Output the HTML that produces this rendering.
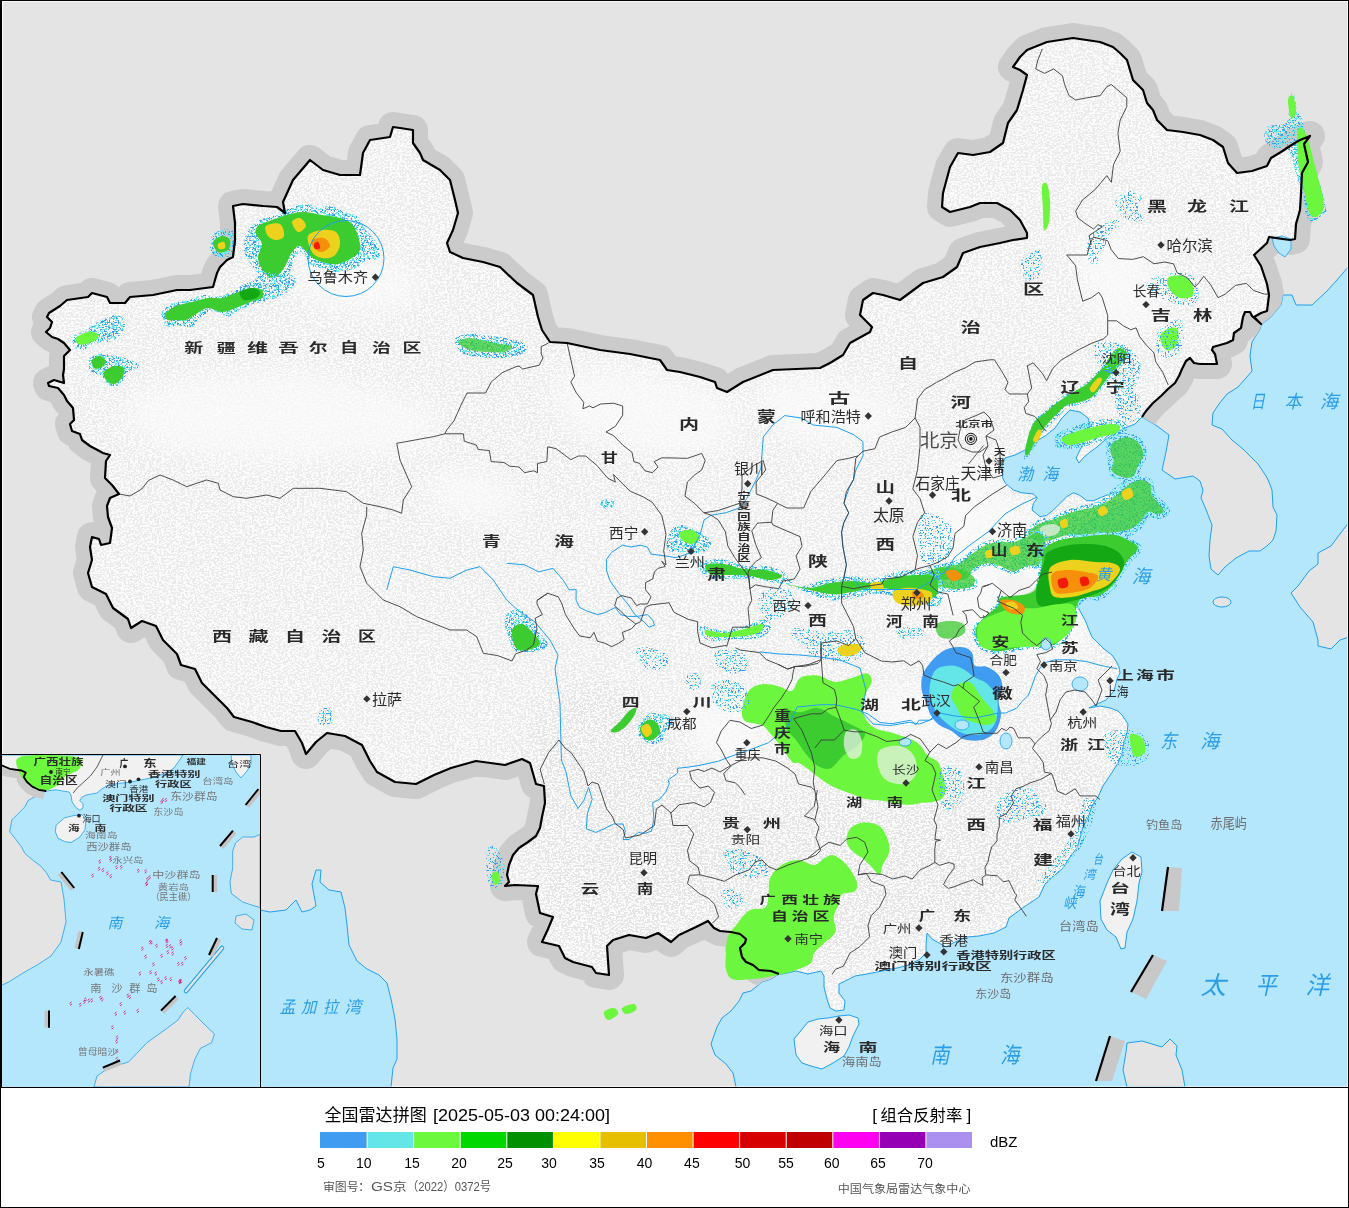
<!DOCTYPE html><html><head><meta charset="utf-8"><title>radar</title><style>
html,body{margin:0;padding:0;background:#fff;}body{width:1349px;height:1208px;overflow:hidden;position:relative;}
svg{position:absolute;left:0;top:0;}
.t{font-family:"Liberation Sans","Noto Sans CJK SC",sans-serif;}
</style></head><body>
<svg width="1349" height="1208" viewBox="0 0 1349 1208">
<defs>
<polygon id="china" points="779,974 771,971 759,970 753,965 746,962 742,957 740,948 745,943 746,939 740,934 731,932 720,931 714,928 708,921 696,927 679,935 671,942 658,933 646,938 629,935 613,940 607,946 609,975 596,973 592,967 573,962 565,958 559,946 542,942 548,929 553,917 540,913 536,894 538,886 515,885 505,886 509,882 507,875 509,865 513,855 519,848 528,842 536,836 540,828 542,817 545,803 544,786 536,784 530,763 522,759 505,765 476,761 451,768 434,775 416,784 395,782 377,772 370,761 362,745 345,736 327,733 316,742 306,754 302,743 295,731 281,731 266,727 252,722 234,717 227,708 213,694 202,683 195,669 181,665 177,654 163,640 156,626 142,621 131,628 128,619 113,608 106,594 92,587 88,573 92,560 90,547 92,537 99,539 101,545 110,543 112,528 108,517 107,506 110,498 119,494 112,485 105,478 106,461 110,455 103,453 90,446 82,440 80,434 72,431 70,424 74,420 73,408 67,401 64,395 58,388 49,386 48,383 54,380 64,383 63,375 64,369 64,356 70,350 64,343 58,339 52,337 46,332 50,328 52,322 47,317 49,313 60,306 67,300 88,297 92,293 107,297 110,303 125,303 130,297 153,295 177,290 190,290 213,287 217,273 220,267 227,260 233,257 235,240 235,223 233,206 243,204 263,206 277,207 285,213 283,202 293,180 310,160 323,170 340,175 360,175 363,153 370,140 390,137 393,127 400,128 413,130 413,143 420,153 423,160 440,170 450,180 455,200 458,213 453,230 447,243 450,252 463,258 483,262 500,267 517,283 533,295 538,317 542,330 550,342 567,343 600,350 630,354 660,360 667,370 680,372 700,377 715,382 717,388 727,392 743,382 773,370 820,368 830,363 843,355 850,343 870,332 872,327 860,315 863,300 873,293 883,295 900,300 923,283 943,277 957,267 963,253 980,247 1000,243 1013,240 1027,238 1027,233 1020,220 1010,210 997,203 980,203 970,207 950,212 942,207 943,193 950,167 958,153 973,155 990,152 1003,143 1008,123 1017,110 1023,90 1027,75 1020,70 1013,67 1020,57 1027,50 1047,42 1073,38 1100,42 1113,47 1120,53 1127,60 1133,80 1143,90 1147,103 1153,110 1157,120 1167,130 1183,132 1200,135 1213,140 1223,147 1228,163 1237,173 1252,171 1267,166 1271,158 1281,152 1290,146 1300,140 1310,136 1304,144 1308,162 1302,173 1301,193 1300,210 1296,224 1295,239 1290,240 1269,237 1267,243 1254,255 1261,266 1267,284 1269,295 1267,311 1261,313 1254,317 1261,324 1252,316 1250,312 1245,312 1243,317 1241,328 1234,333 1233,340 1227,343 1213,347 1212,350 1215,354 1217,364 1200,364 1194,363 1190,358 1186,361 1182,369 1179,376 1175,383 1168,389 1165,392 1161,396 1153,403 1146,411 1142,417 1135,424 1125,428 1115,433 1105,440 1097,447 1090,452 1083,458 1079,463 1076,458 1080,450 1084,442 1088,434 1090,425 1088,418 1080,412 1070,410 1062,418 1055,428 1045,436 1035,442 1027,449 1015,455 1005,458 1002,465 1002.7,478 1005.4,483.3 1013.4,490 1021.4,492.7 1033.4,494 1037.4,498 1033.4,503.4 1032,510 1040,516.7 1046.8,515.4 1053.4,510 1060,503.4 1066.8,496.7 1073.5,492.7 1080,495.4 1086.8,500.7 1093.5,500.7 1102,497 1115,492 1125,494 1127,500 1118,508 1105,512 1095,518 1085,525 1075,535 1068,545 1060,555 1053,568 1050,580 1055,590 1068,596 1076,602 1080,611 1085,620 1089,630 1092,637 1100,645 1104,649 1112,655 1116,661 1119,667 1120,673 1117,679 1114,691 1106,700 1095,705 1089,708 1100,706 1110,708 1118,711 1122,715 1128,724 1127,733 1124,742 1122,754 1118,763 1109,777 1103,786 1098,797 1092,806 1088,818 1083,827 1080,838 1077,848 1070,857 1063,868 1055,875 1045,884 1039,897 1024,907 1009,918 1006,927 994,933 979,936 967,937 955,942 946,947 932,939 927,933 926,945 926,953 920,959 909,965 897,968 882,971 867,974 855,976 849,979 839,984 839,993 845,1001 844,1010 836,1011 830,1008 827,999 824,987 824,976 821,971 808,974 796,971 782,974"/>
<polygon id="sea" points="1142,417 1135,424 1125,428 1115,433 1105,440 1097,447 1090,452 1083,458 1079,463 1076,458 1080,450 1084,442 1088,434 1090,425 1088,418 1080,412 1070,410 1062,418 1055,428 1045,436 1035,442 1027,449 1015,455 1005,458 1002,465 1002.7,478 1005.4,483.3 1013.4,490 1021.4,492.7 1033.4,494 1037.4,498 1033.4,503.4 1032,510 1040,516.7 1046.8,515.4 1053.4,510 1060,503.4 1066.8,496.7 1073.5,492.7 1080,495.4 1086.8,500.7 1093.5,500.7 1102,497 1115,492 1125,494 1127,500 1118,508 1105,512 1095,518 1085,525 1075,535 1068,545 1060,555 1053,568 1050,580 1055,590 1068,596 1076,602 1080,611 1085,620 1089,630 1092,637 1100,645 1104,649 1112,655 1116,661 1119,667 1120,673 1117,679 1114,691 1106,700 1095,705 1089,708 1100,706 1110,708 1118,711 1122,715 1128,724 1127,733 1124,742 1122,754 1118,763 1109,777 1103,786 1098,797 1092,806 1088,818 1083,827 1080,838 1077,848 1070,857 1063,868 1055,875 1045,884 1039,897 1024,907 1009,918 1006,927 994,933 979,936 967,937 955,942 946,947 932,939 927,933 926,945 926,953 920,959 909,965 897,968 882,971 867,974 855,976 849,979 839,984 839,993 845,1001 844,1010 836,1011 830,1008 827,999 824,987 824,976 821,971 808,974 796,971 782,974 779,974 771,979 762,982 751,991 743,993 739,1001 731,1011 722,1018 717,1027 711,1044 715,1055 726,1064 733,1073 736,1087 1349,1087 1349,266 1337,280 1327,291 1312,305 1296,305 1292,295 1283,295 1281,305 1271,317 1262,324 1259,331 1252,342 1250,356 1252,371 1246,378 1238,387 1227,394 1219,404 1213,413 1212,425 1222,429 1232,440 1243,449 1258,464 1266,476 1269,482 1272,490 1273,507 1277,515 1276,531 1273,540 1267,546 1260,551 1249,551 1236,558 1225,567 1218,575 1211,569 1209,556 1210,540 1212,525 1205,507 1201,498 1203,490 1200,481 1193,476 1175,479 1162,470 1166,452 1169,435 1157,426 1142,417"/>
<mask id="landmask"><rect width="1349" height="1087" fill="#fff"/><use href="#sea" fill="#000"/><polygon points="1349,522 1331,546 1318,553 1318,564 1309,571 1298,586 1291,593 1300,607 1313,622 1318,640 1318,646 1331,649 1340,640 1349,637" fill="#fff"/><polygon points="1127,1043 1142,1041 1162,1047 1170,1039 1177,1046 1176,1055 1182,1070 1185,1087 1127,1087 1123,1070 1126,1052" fill="#fff"/></mask>
<clipPath id="mapclip"><rect x="0" y="0" width="1349" height="1087"/></clipPath>
<filter id="speck" x="0" y="0" width="1349" height="1087" filterUnits="userSpaceOnUse" color-interpolation-filters="sRGB"><feTurbulence type="fractalNoise" baseFrequency="0.42 0.55" numOctaves="2" seed="11" result="n"/><feColorMatrix in="n" type="matrix" values="0 0 0 0 0.885  0 0 0 0 0.885  0 0 0 0 0.885  1.6 0 0 0 -0.3"/><feComponentTransfer><feFuncA type="discrete" tableValues="0 0 0 0 0 1 1 1 1 1"/></feComponentTransfer></filter>
<filter id="blur15"><feGaussianBlur stdDeviation="14"/></filter>
<mask id="dens" maskUnits="userSpaceOnUse" x="0" y="0" width="1349" height="1087"><rect width="1349" height="1087" fill="#a8a8a8"/><g filter="url(#blur15)">
<path d="M130.0,400.0 C137.5,394.2 153.3,389.2 170.0,385.0 C186.7,380.8 208.3,377.2 230.0,375.0 C251.7,372.8 278.3,370.3 300.0,372.0 C321.7,373.7 341.7,380.3 360.0,385.0 C378.3,389.7 396.7,394.2 410.0,400.0 C423.3,405.8 438.3,412.5 440.0,420.0 C441.7,427.5 433.3,439.2 420.0,445.0 C406.7,450.8 383.3,452.5 360.0,455.0 C336.7,457.5 306.7,460.0 280.0,460.0 C253.3,460.0 221.7,458.3 200.0,455.0 C178.3,451.7 162.5,445.8 150.0,440.0 C137.5,434.2 128.3,426.7 125.0,420.0 C121.7,413.3 122.5,405.8 130.0,400.0 Z" fill="#282828"/>
<path d="M300.0,270.0 C305.0,262.5 325.0,256.3 340.0,255.0 C355.0,253.7 376.7,257.8 390.0,262.0 C403.3,266.2 416.7,272.8 420.0,280.0 C423.3,287.2 420.0,300.0 410.0,305.0 C400.0,310.0 376.7,310.8 360.0,310.0 C343.3,309.2 320.0,306.7 310.0,300.0 C300.0,293.3 295.0,277.5 300.0,270.0 Z" fill="#282828"/>
<path d="M430.0,480.0 C436.7,475.0 456.7,469.2 470.0,470.0 C483.3,470.8 500.8,479.2 510.0,485.0 C519.2,490.8 526.7,499.5 525.0,505.0 C523.3,510.5 511.7,516.3 500.0,518.0 C488.3,519.7 466.7,518.0 455.0,515.0 C443.3,512.0 434.2,505.8 430.0,500.0 C425.8,494.2 423.3,485.0 430.0,480.0 Z" fill="#282828"/>
<path d="M560.0,380.0 C569.2,371.7 596.7,369.2 620.0,370.0 C643.3,370.8 681.7,378.3 700.0,385.0 C718.3,391.7 726.7,399.2 730.0,410.0 C733.3,420.8 731.7,442.5 720.0,450.0 C708.3,457.5 680.0,456.7 660.0,455.0 C640.0,453.3 615.8,445.8 600.0,440.0 C584.2,434.2 571.7,430.0 565.0,420.0 C558.3,410.0 550.8,388.3 560.0,380.0 Z" fill="#282828"/>
<path d="M760.0,385.0 C769.2,378.3 800.0,378.3 820.0,380.0 C840.0,381.7 866.7,388.3 880.0,395.0 C893.3,401.7 901.7,412.5 900.0,420.0 C898.3,427.5 886.7,436.7 870.0,440.0 C853.3,443.3 817.5,443.3 800.0,440.0 C782.5,436.7 771.7,429.2 765.0,420.0 C758.3,410.8 750.8,391.7 760.0,385.0 Z" fill="#282828"/>
<path d="M930.0,470.0 C940.8,463.3 976.7,465.0 990.0,470.0 C1003.3,475.0 1001.7,491.7 1010.0,500.0 C1018.3,508.3 1031.7,510.0 1040.0,520.0 C1048.3,530.0 1053.3,546.7 1060.0,560.0 C1066.7,573.3 1075.0,586.7 1080.0,600.0 C1085.0,613.3 1091.7,630.0 1090.0,640.0 C1088.3,650.0 1080.0,656.7 1070.0,660.0 C1060.0,663.3 1043.3,661.7 1030.0,660.0 C1016.7,658.3 1001.7,656.7 990.0,650.0 C978.3,643.3 970.0,628.3 960.0,620.0 C950.0,611.7 936.7,610.0 930.0,600.0 C923.3,590.0 920.8,575.0 920.0,560.0 C919.2,545.0 923.3,525.0 925.0,510.0 C926.7,495.0 919.2,476.7 930.0,470.0 Z" fill="#282828"/>
<path d="M1080.0,235.0 C1085.8,223.3 1108.3,225.8 1120.0,230.0 C1131.7,234.2 1143.3,248.3 1150.0,260.0 C1156.7,271.7 1160.0,288.3 1160.0,300.0 C1160.0,311.7 1158.3,324.2 1150.0,330.0 C1141.7,335.8 1120.8,340.0 1110.0,335.0 C1099.2,330.0 1090.0,316.7 1085.0,300.0 C1080.0,283.3 1074.2,246.7 1080.0,235.0 Z" fill="#282828"/>
<path d="M690.0,705.0 C697.5,699.2 718.3,698.3 730.0,700.0 C741.7,701.7 754.2,707.5 760.0,715.0 C765.8,722.5 768.3,736.7 765.0,745.0 C761.7,753.3 750.8,762.5 740.0,765.0 C729.2,767.5 709.2,765.0 700.0,760.0 C690.8,755.0 686.7,744.2 685.0,735.0 C683.3,725.8 682.5,710.8 690.0,705.0 Z" fill="#282828"/>
<path d="M880.0,690.0 C887.5,684.2 916.7,687.5 930.0,690.0 C943.3,692.5 955.8,697.5 960.0,705.0 C964.2,712.5 962.5,729.2 955.0,735.0 C947.5,740.8 926.7,741.7 915.0,740.0 C903.3,738.3 890.8,733.3 885.0,725.0 C879.2,716.7 872.5,695.8 880.0,690.0 Z" fill="#282828"/>
<path d="M545.0,700.0 C560.0,681.7 597.5,680.0 620.0,690.0 C642.5,700.0 663.3,743.3 680.0,760.0 C696.7,776.7 706.7,783.3 720.0,790.0 C733.3,796.7 743.3,800.0 760.0,800.0 C776.7,800.0 800.0,790.0 820.0,790.0 C840.0,790.0 860.0,800.0 880.0,800.0 C900.0,800.0 923.3,795.0 940.0,790.0 C956.7,785.0 963.3,775.0 980.0,770.0 C996.7,765.0 1021.7,761.7 1040.0,760.0 C1058.3,758.3 1078.3,755.0 1090.0,760.0 C1101.7,765.0 1111.7,775.0 1110.0,790.0 C1108.3,805.0 1091.7,833.3 1080.0,850.0 C1068.3,866.7 1055.0,878.3 1040.0,890.0 C1025.0,901.7 1010.0,913.3 990.0,920.0 C970.0,926.7 941.7,923.3 920.0,930.0 C898.3,936.7 880.0,955.0 860.0,960.0 C840.0,965.0 820.0,965.0 800.0,960.0 C780.0,955.0 760.0,935.0 740.0,930.0 C720.0,925.0 701.7,925.0 680.0,930.0 C658.3,935.0 630.0,960.0 610.0,960.0 C590.0,960.0 573.3,943.3 560.0,930.0 C546.7,916.7 535.0,901.7 530.0,880.0 C525.0,858.3 527.5,830.0 530.0,800.0 C532.5,770.0 530.0,718.3 545.0,700.0 Z" fill="#e8e8e8"/>
</g></mask>
<filter id="d55a" x="0" y="0" width="1349" height="1087" filterUnits="userSpaceOnUse" color-interpolation-filters="sRGB"><feTurbulence type="fractalNoise" baseFrequency="0.55" numOctaves="1" seed="21" result="n"/><feColorMatrix in="n" type="matrix" values="0 0 0 0 0  0 0 0 0 0  0 0 0 0 0  1.6 0 0 0 -0.3" result="na"/><feComponentTransfer in="na" result="m"><feFuncA type="discrete" tableValues="0 0 0 0 0 0 1 1 1 1"/></feComponentTransfer><feComposite in="SourceGraphic" in2="m" operator="in"/></filter>
<filter id="d55b" x="0" y="0" width="1349" height="1087" filterUnits="userSpaceOnUse" color-interpolation-filters="sRGB"><feTurbulence type="fractalNoise" baseFrequency="0.55" numOctaves="1" seed="37" result="n"/><feColorMatrix in="n" type="matrix" values="0 0 0 0 0  0 0 0 0 0  0 0 0 0 0  1.6 0 0 0 -0.3" result="na"/><feComponentTransfer in="na" result="m"><feFuncA type="discrete" tableValues="0 0 0 0 0 0 1 1 1 1"/></feComponentTransfer><feComposite in="SourceGraphic" in2="m" operator="in"/></filter>
<filter id="d28a" x="0" y="0" width="1349" height="1087" filterUnits="userSpaceOnUse" color-interpolation-filters="sRGB"><feTurbulence type="fractalNoise" baseFrequency="0.6" numOctaves="1" seed="53" result="n"/><feColorMatrix in="n" type="matrix" values="0 0 0 0 0  0 0 0 0 0  0 0 0 0 0  1.6 0 0 0 -0.3" result="na"/><feComponentTransfer in="na" result="m"><feFuncA type="discrete" tableValues="0 0 0 0 0 0 0 1 1 1"/></feComponentTransfer><feComposite in="SourceGraphic" in2="m" operator="in"/></filter>
<filter id="d28b" x="0" y="0" width="1349" height="1087" filterUnits="userSpaceOnUse" color-interpolation-filters="sRGB"><feTurbulence type="fractalNoise" baseFrequency="0.6" numOctaves="1" seed="71" result="n"/><feColorMatrix in="n" type="matrix" values="0 0 0 0 0  0 0 0 0 0  0 0 0 0 0  1.6 0 0 0 -0.3" result="na"/><feComponentTransfer in="na" result="m"><feFuncA type="discrete" tableValues="0 0 0 0 0 0 0 1 1 1"/></feComponentTransfer><feComposite in="SourceGraphic" in2="m" operator="in"/></filter>
<clipPath id="chinaclip"><use href="#china"/></clipPath>
</defs>
<g clip-path="url(#mapclip)">
<rect x="0" y="0" width="1349" height="1087" fill="#e4e4e4"/>
<polygon points="260,910 270,912 286,910 296,900 302,912 310,910 316,906 312,884 316,870 321,870 320,882 329,890 341,892 345,908 347,925 349,945 357,961 367,969 379,975 387,983 391,999 395,1019 397,1039 397,1059 393,1068 391,1087 260,1087" fill="#b4e6fc" stroke="#1ea0f0" stroke-width="1"/>
<use href="#sea" fill="#b4e6fc"/>
<polygon points="1349,522 1331,546 1318,553 1318,564 1309,571 1298,586 1291,593 1300,607 1313,622 1318,640 1318,646 1331,649 1340,640 1349,637" fill="#e4e4e4" stroke="#1ea0f0" stroke-width="1"/>
<polygon points="1127,1043 1142,1041 1162,1047 1170,1039 1177,1046 1176,1055 1182,1070 1185,1087 1127,1087 1123,1070 1126,1052" fill="#e4e4e4" stroke="#1ea0f0" stroke-width="1"/>
<ellipse cx="1222" cy="602" rx="9" ry="5" fill="#e4e4e4" stroke="#1ea0f0" stroke-width="1"/>
<polyline points="1349,266 1337,280 1327,291 1312,305 1296,305 1292,295 1283,295 1281,305 1271,317 1262,324 1259,331 1252,342 1250,356 1252,371 1246,378 1238,387 1227,394 1219,404 1213,413 1212,425 1222,429 1232,440 1243,449 1258,464 1266,476 1269,482 1272,490 1273,507 1277,515 1276,531 1273,540 1267,546 1260,551 1249,551 1236,558 1225,567 1218,575 1211,569 1209,556 1210,540 1212,525 1205,507 1201,498 1203,490 1200,481 1193,476 1175,479 1162,470 1166,452 1169,435 1157,426 1142,417" fill="none" stroke="#1ea0f0" stroke-width="1"/>
<polyline points="779,974 771,979 762,982 751,991 743,993 739,1001 731,1011 722,1018 717,1027 711,1044 715,1055 726,1064 733,1073 736,1087" fill="none" stroke="#1ea0f0" stroke-width="1"/>
<g mask="url(#landmask)"><polyline points="779,974 771,971 759,970 753,965 746,962 742,957 740,948 745,943 746,939 740,934 731,932 720,931 714,928 708,921 696,927 679,935 671,942 658,933 646,938 629,935 613,940 607,946 609,975 596,973 592,967 573,962 565,958 559,946 542,942 548,929 553,917 540,913 536,894 538,886 515,885 505,886 509,882 507,875 509,865 513,855 519,848 528,842 536,836 540,828 542,817 545,803 544,786 536,784 530,763 522,759 505,765 476,761 451,768 434,775 416,784 395,782 377,772 370,761 362,745 345,736 327,733 316,742 306,754 302,743 295,731 281,731 266,727 252,722 234,717 227,708 213,694 202,683 195,669 181,665 177,654 163,640 156,626 142,621 131,628 128,619 113,608 106,594 92,587 88,573 92,560 90,547 92,537 99,539 101,545 110,543 112,528 108,517 107,506 110,498 119,494 112,485 105,478 106,461 110,455 103,453 90,446 82,440 80,434 72,431 70,424 74,420 73,408 67,401 64,395 58,388 49,386 48,383 54,380 64,383 63,375 64,369 64,356 70,350 64,343 58,339 52,337 46,332 50,328 52,322 47,317 49,313 60,306 67,300 88,297 92,293 107,297 110,303 125,303 130,297 153,295 177,290 190,290 213,287 217,273 220,267 227,260 233,257 235,240 235,223 233,206 243,204 263,206 277,207 285,213 283,202 293,180 310,160 323,170 340,175 360,175 363,153 370,140 390,137 393,127 400,128 413,130 413,143 420,153 423,160 440,170 450,180 455,200 458,213 453,230 447,243 450,252 463,258 483,262 500,267 517,283 533,295 538,317 542,330 550,342 567,343 600,350 630,354 660,360 667,370 680,372 700,377 715,382 717,388 727,392 743,382 773,370 820,368 830,363 843,355 850,343 870,332 872,327 860,315 863,300 873,293 883,295 900,300 923,283 943,277 957,267 963,253 980,247 1000,243 1013,240 1027,238 1027,233 1020,220 1010,210 997,203 980,203 970,207 950,212 942,207 943,193 950,167 958,153 973,155 990,152 1003,143 1008,123 1017,110 1023,90 1027,75 1020,70 1013,67 1020,57 1027,50 1047,42 1073,38 1100,42 1113,47 1120,53 1127,60 1133,80 1143,90 1147,103 1153,110 1157,120 1167,130 1183,132 1200,135 1213,140 1223,147 1228,163 1237,173 1252,171 1267,166 1271,158 1281,152 1290,146 1300,140 1310,136 1304,144 1308,162 1302,173 1301,193 1300,210 1296,224 1295,239 1290,240 1269,237 1267,243 1254,255 1261,266 1267,284 1269,295 1267,311 1261,313 1254,317 1261,324 1252,316 1250,312 1245,312 1243,317 1241,328 1234,333 1233,340 1227,343 1213,347 1212,350 1215,354 1217,364 1200,364 1194,363 1190,358 1186,361 1182,369 1179,376 1175,383 1168,389 1165,392 1161,396 1153,403 1146,411 1142,417" fill="none" stroke="#cbcbcb" stroke-width="30" stroke-linejoin="round" stroke-linecap="round"/></g>
<use href="#china" fill="#fbfbfb"/>
<g clip-path="url(#chinaclip)"><rect x="0" y="0" width="1349" height="1087" fill="#fff" filter="url(#speck)" mask="url(#dens)"/></g>
<polygon points="1132,852 1141,857 1142,872 1139,883 1137,901 1133,919 1127,932 1125,948 1121,949 1116,937 1107,930 1101,919 1100,901 1107,883 1113,870 1122,859" fill="#f1f1f1" stroke="#1ea0f0" stroke-width="1"/>
<polygon points="818,1019 808,1022 799,1033 794,1039 796,1055 802,1063 811,1066 822,1069 833,1063 844,1056 849,1047 853,1036 859,1024 858,1018 849,1015 839,1016 828,1018" fill="#f1f1f1" stroke="#1ea0f0" stroke-width="1"/>
<polyline points="1142,417 1135,424 1125,428 1115,433 1105,440 1097,447 1090,452 1083,458 1079,463 1076,458 1080,450 1084,442 1088,434 1090,425 1088,418 1080,412 1070,410 1062,418 1055,428 1045,436 1035,442 1027,449 1015,455 1005,458 1002,465 1002.7,478 1005.4,483.3 1013.4,490 1021.4,492.7 1033.4,494 1037.4,498 1033.4,503.4 1032,510 1040,516.7 1046.8,515.4 1053.4,510 1060,503.4 1066.8,496.7 1073.5,492.7 1080,495.4 1086.8,500.7 1093.5,500.7 1102,497 1115,492 1125,494 1127,500 1118,508 1105,512 1095,518 1085,525 1075,535 1068,545 1060,555 1053,568 1050,580 1055,590 1068,596 1076,602 1080,611 1085,620 1089,630 1092,637 1100,645 1104,649 1112,655 1116,661 1119,667 1120,673 1117,679 1114,691 1106,700 1095,705 1089,708 1100,706 1110,708 1118,711 1122,715 1128,724 1127,733 1124,742 1122,754 1118,763 1109,777 1103,786 1098,797 1092,806 1088,818 1083,827 1080,838 1077,848 1070,857 1063,868 1055,875 1045,884 1039,897 1024,907 1009,918 1006,927 994,933 979,936 967,937 955,942 946,947 932,939 927,933 926,945 926,953 920,959 909,965 897,968 882,971 867,974 855,976 849,979 839,984 839,993 845,1001 844,1010 836,1011 830,1008 827,999 824,987 824,976 821,971 808,974 796,971 782,974 779,974" fill="none" stroke="#1ea0f0" stroke-width="1"/>
<g filter="url(#d55a)"><path d="M249.0,229.0 C251.4,226.3 255.2,222.3 259.7,220.0 C264.1,217.7 270.6,217.0 275.7,215.0 C280.8,213.0 284.9,209.8 290.0,208.0 C295.1,206.2 301.0,204.0 306.0,204.0 C311.0,204.0 315.8,207.7 320.0,208.0 C324.2,208.3 326.5,205.2 331.0,206.0 C335.5,206.8 342.6,211.2 347.0,213.0 C351.4,214.8 354.7,214.0 357.6,216.7 C360.6,219.4 361.5,224.6 364.7,229.0 C367.9,233.4 374.6,238.6 377.0,243.4 C379.4,248.2 381.1,254.8 379.0,257.7 C376.9,260.6 368.6,259.3 364.7,261.0 C360.8,262.7 360.2,266.2 355.8,268.0 C351.4,269.8 344.0,272.0 338.0,272.0 C332.0,272.0 324.5,269.2 320.0,268.0 C315.5,266.8 313.9,267.5 311.0,264.8 C308.1,262.1 305.1,253.2 302.4,252.0 C299.7,250.8 297.4,253.7 295.0,257.6 C292.6,261.5 291.2,270.8 288.0,275.5 C284.8,280.2 279.2,284.6 275.7,286.0 C272.2,287.4 269.8,286.1 266.8,284.0 C263.9,281.9 261.0,277.5 258.0,273.7 C255.0,269.9 251.4,264.9 249.0,261.0 C246.6,257.1 244.3,254.7 243.7,250.5 C243.1,246.3 244.6,239.6 245.5,236.0 C246.4,232.4 246.6,231.7 249.0,229.0 Z" fill="#409cf0"/></g><g filter="url(#d55b)"><path d="M249.0,229.0 C251.4,226.3 255.2,222.3 259.7,220.0 C264.1,217.7 270.6,217.0 275.7,215.0 C280.8,213.0 284.9,209.8 290.0,208.0 C295.1,206.2 301.0,204.0 306.0,204.0 C311.0,204.0 315.8,207.7 320.0,208.0 C324.2,208.3 326.5,205.2 331.0,206.0 C335.5,206.8 342.6,211.2 347.0,213.0 C351.4,214.8 354.7,214.0 357.6,216.7 C360.6,219.4 361.5,224.6 364.7,229.0 C367.9,233.4 374.6,238.6 377.0,243.4 C379.4,248.2 381.1,254.8 379.0,257.7 C376.9,260.6 368.6,259.3 364.7,261.0 C360.8,262.7 360.2,266.2 355.8,268.0 C351.4,269.8 344.0,272.0 338.0,272.0 C332.0,272.0 324.5,269.2 320.0,268.0 C315.5,266.8 313.9,267.5 311.0,264.8 C308.1,262.1 305.1,253.2 302.4,252.0 C299.7,250.8 297.4,253.7 295.0,257.6 C292.6,261.5 291.2,270.8 288.0,275.5 C284.8,280.2 279.2,284.6 275.7,286.0 C272.2,287.4 269.8,286.1 266.8,284.0 C263.9,281.9 261.0,277.5 258.0,273.7 C255.0,269.9 251.4,264.9 249.0,261.0 C246.6,257.1 244.3,254.7 243.7,250.5 C243.1,246.3 244.6,239.6 245.5,236.0 C246.4,232.4 246.6,231.7 249.0,229.0 Z" fill="#64e6e8"/></g>
<path d="M258.0,226.0 C260.7,223.7 266.7,222.0 272.0,220.0 C277.3,218.0 284.5,215.3 290.0,214.0 C295.5,212.7 299.7,211.8 305.0,212.0 C310.3,212.2 316.2,214.0 322.0,215.0 C327.8,216.0 335.0,216.5 340.0,218.0 C345.0,219.5 349.0,221.0 352.0,224.0 C355.0,227.0 356.7,231.7 358.0,236.0 C359.3,240.3 361.0,246.3 360.0,250.0 C359.0,253.7 355.7,255.7 352.0,258.0 C348.3,260.3 343.0,263.3 338.0,264.0 C333.0,264.7 326.7,263.3 322.0,262.0 C317.3,260.7 313.7,258.7 310.0,256.0 C306.3,253.3 303.0,246.7 300.0,246.0 C297.0,245.3 294.7,248.3 292.0,252.0 C289.3,255.7 287.0,263.7 284.0,268.0 C281.0,272.3 277.3,277.3 274.0,278.0 C270.7,278.7 266.7,275.3 264.0,272.0 C261.3,268.7 258.3,262.7 258.0,258.0 C257.7,253.3 262.3,248.0 262.0,244.0 C261.7,240.0 256.7,237.0 256.0,234.0 C255.3,231.0 255.3,228.3 258.0,226.0 Z" fill="#3ccc30"/>
<path d="M266.0,226.0 C268.0,224.0 277.0,222.3 280.0,224.0 C283.0,225.7 284.7,233.3 284.0,236.0 C283.3,238.7 278.7,240.0 276.0,240.0 C273.3,240.0 269.7,238.3 268.0,236.0 C266.3,233.7 264.0,228.0 266.0,226.0 Z" fill="#ecd21c"/>
<path d="M292.0,222.0 C292.3,219.7 297.7,217.3 300.0,218.0 C302.3,218.7 306.3,223.7 306.0,226.0 C305.7,228.3 300.3,232.7 298.0,232.0 C295.7,231.3 291.7,224.3 292.0,222.0 Z" fill="#ecd21c"/>
<path d="M308.0,236.0 C309.7,232.3 317.3,230.7 322.0,230.0 C326.7,229.3 333.0,229.7 336.0,232.0 C339.0,234.3 340.3,240.0 340.0,244.0 C339.7,248.0 337.0,253.7 334.0,256.0 C331.0,258.3 325.7,258.7 322.0,258.0 C318.3,257.3 314.3,255.7 312.0,252.0 C309.7,248.3 306.3,239.7 308.0,236.0 Z" fill="#ecd21c"/>
<path d="M312.0,240.0 C313.7,238.3 321.0,237.0 324.0,238.0 C327.0,239.0 330.3,243.7 330.0,246.0 C329.7,248.3 324.7,251.7 322.0,252.0 C319.3,252.3 315.7,250.0 314.0,248.0 C312.3,246.0 310.3,241.7 312.0,240.0 Z" fill="#f6900a"/>
<path d="M314.0,244.0 C314.5,242.8 317.0,241.3 318.0,242.0 C319.0,242.7 320.5,246.8 320.0,248.0 C319.5,249.2 316.0,249.7 315.0,249.0 C314.0,248.3 313.5,245.2 314.0,244.0 Z" fill="#f41a08"/>
<g filter="url(#d55a)"><path d="M212.0,236.0 C214.0,233.0 218.3,230.7 222.0,230.0 C225.7,229.3 231.7,229.3 234.0,232.0 C236.3,234.7 236.7,242.0 236.0,246.0 C235.3,250.0 233.3,254.3 230.0,256.0 C226.7,257.7 219.3,257.3 216.0,256.0 C212.7,254.7 210.7,251.3 210.0,248.0 C209.3,244.7 210.0,239.0 212.0,236.0 Z" fill="#409cf0"/></g><g filter="url(#d55b)"><path d="M212.0,236.0 C214.0,233.0 218.3,230.7 222.0,230.0 C225.7,229.3 231.7,229.3 234.0,232.0 C236.3,234.7 236.7,242.0 236.0,246.0 C235.3,250.0 233.3,254.3 230.0,256.0 C226.7,257.7 219.3,257.3 216.0,256.0 C212.7,254.7 210.7,251.3 210.0,248.0 C209.3,244.7 210.0,239.0 212.0,236.0 Z" fill="#64e6e8"/></g>
<path d="M213.0,242.0 C213.7,239.3 219.2,236.3 222.0,236.0 C224.8,235.7 229.0,237.7 230.0,240.0 C231.0,242.3 230.0,248.0 228.0,250.0 C226.0,252.0 220.5,253.3 218.0,252.0 C215.5,250.7 212.3,244.7 213.0,242.0 Z" fill="#3ccc30"/>
<path d="M218.0,244.0 C218.8,242.8 222.8,241.3 224.0,242.0 C225.2,242.7 225.8,246.8 225.0,248.0 C224.2,249.2 220.2,249.7 219.0,249.0 C217.8,248.3 217.2,245.2 218.0,244.0 Z" fill="#ecd21c"/>
<g filter="url(#d55a)"><path d="M255.0,280.0 C256.3,276.7 262.5,273.0 266.0,272.0 C269.5,271.0 273.7,271.7 276.0,274.0 C278.3,276.3 281.0,282.3 280.0,286.0 C279.0,289.7 273.7,295.0 270.0,296.0 C266.3,297.0 260.5,294.7 258.0,292.0 C255.5,289.3 253.7,283.3 255.0,280.0 Z" fill="#409cf0"/></g><g filter="url(#d55b)"><path d="M255.0,280.0 C256.3,276.7 262.5,273.0 266.0,272.0 C269.5,271.0 273.7,271.7 276.0,274.0 C278.3,276.3 281.0,282.3 280.0,286.0 C279.0,289.7 273.7,295.0 270.0,296.0 C266.3,297.0 260.5,294.7 258.0,292.0 C255.5,289.3 253.7,283.3 255.0,280.0 Z" fill="#64e6e8"/></g>
<g filter="url(#d55a)"><path d="M161.8,312.8 C163.0,309.9 166.5,306.1 170.7,304.0 C174.8,301.9 181.1,301.9 186.7,300.4 C192.3,298.9 199.2,295.6 204.5,295.0 C209.8,294.4 213.6,297.7 218.7,296.8 C223.8,295.9 229.8,292.2 234.8,289.7 C239.9,287.2 244.0,283.9 249.0,282.0 C254.0,280.1 259.5,279.3 265.0,278.0 C270.5,276.7 276.8,274.0 282.0,274.0 C287.2,274.0 294.7,275.3 296.0,278.0 C297.3,280.7 294.3,286.3 290.0,290.0 C285.7,293.7 276.2,297.7 270.0,300.0 C263.8,302.3 258.5,301.9 252.6,304.0 C246.7,306.1 239.0,310.7 234.8,312.8 C230.7,314.9 231.3,316.7 227.7,316.4 C224.1,316.1 218.2,310.7 213.4,311.0 C208.7,311.3 202.8,315.5 199.2,318.2 C195.6,320.9 195.6,325.8 192.0,327.0 C188.4,328.2 181.6,325.3 177.8,325.3 C174.0,325.3 171.4,327.6 169.0,327.0 C166.6,326.4 164.8,324.1 163.6,321.7 C162.4,319.3 160.6,315.8 161.8,312.8 Z" fill="#409cf0"/></g><g filter="url(#d55b)"><path d="M161.8,312.8 C163.0,309.9 166.5,306.1 170.7,304.0 C174.8,301.9 181.1,301.9 186.7,300.4 C192.3,298.9 199.2,295.6 204.5,295.0 C209.8,294.4 213.6,297.7 218.7,296.8 C223.8,295.9 229.8,292.2 234.8,289.7 C239.9,287.2 244.0,283.9 249.0,282.0 C254.0,280.1 259.5,279.3 265.0,278.0 C270.5,276.7 276.8,274.0 282.0,274.0 C287.2,274.0 294.7,275.3 296.0,278.0 C297.3,280.7 294.3,286.3 290.0,290.0 C285.7,293.7 276.2,297.7 270.0,300.0 C263.8,302.3 258.5,301.9 252.6,304.0 C246.7,306.1 239.0,310.7 234.8,312.8 C230.7,314.9 231.3,316.7 227.7,316.4 C224.1,316.1 218.2,310.7 213.4,311.0 C208.7,311.3 202.8,315.5 199.2,318.2 C195.6,320.9 195.6,325.8 192.0,327.0 C188.4,328.2 181.6,325.3 177.8,325.3 C174.0,325.3 171.4,327.6 169.0,327.0 C166.6,326.4 164.8,324.1 163.6,321.7 C162.4,319.3 160.6,315.8 161.8,312.8 Z" fill="#64e6e8"/></g>
<path d="M165.0,314.0 C166.3,311.7 171.5,308.0 176.0,306.0 C180.5,304.0 186.7,303.3 192.0,302.0 C197.3,300.7 203.0,298.7 208.0,298.0 C213.0,297.3 217.0,299.0 222.0,298.0 C227.0,297.0 233.0,293.7 238.0,292.0 C243.0,290.3 248.0,288.3 252.0,288.0 C256.0,287.7 260.3,288.3 262.0,290.0 C263.7,291.7 264.0,296.0 262.0,298.0 C260.0,300.0 254.3,300.3 250.0,302.0 C245.7,303.7 240.7,306.3 236.0,308.0 C231.3,309.7 226.7,312.0 222.0,312.0 C217.3,312.0 212.3,307.7 208.0,308.0 C203.7,308.3 199.7,312.0 196.0,314.0 C192.3,316.0 189.3,319.0 186.0,320.0 C182.7,321.0 179.0,320.0 176.0,320.0 C173.0,320.0 169.8,321.0 168.0,320.0 C166.2,319.0 163.7,316.3 165.0,314.0 Z" fill="#3ccc30"/>
<path d="M240.0,292.0 C241.3,290.0 248.7,288.0 252.0,288.0 C255.3,288.0 259.3,290.3 260.0,292.0 C260.7,293.7 258.7,296.7 256.0,298.0 C253.3,299.3 246.7,301.0 244.0,300.0 C241.3,299.0 238.7,294.0 240.0,292.0 Z" fill="#14a814"/>
<g filter="url(#d55a)"><path d="M73.0,336.6 C74.8,333.7 81.6,332.5 85.9,330.0 C90.2,327.5 93.8,324.0 98.8,321.5 C103.8,319.0 111.7,315.0 116.0,315.0 C120.3,315.0 123.5,318.7 124.6,321.5 C125.7,324.3 124.7,328.8 122.5,332.0 C120.3,335.2 116.4,339.1 111.7,340.9 C107.0,342.7 99.2,341.6 94.5,343.0 C89.8,344.4 87.0,348.8 83.8,349.5 C80.6,350.2 77.0,349.4 75.2,347.3 C73.4,345.2 71.2,339.5 73.0,336.6 Z" fill="#409cf0"/></g><g filter="url(#d55b)"><path d="M73.0,336.6 C74.8,333.7 81.6,332.5 85.9,330.0 C90.2,327.5 93.8,324.0 98.8,321.5 C103.8,319.0 111.7,315.0 116.0,315.0 C120.3,315.0 123.5,318.7 124.6,321.5 C125.7,324.3 124.7,328.8 122.5,332.0 C120.3,335.2 116.4,339.1 111.7,340.9 C107.0,342.7 99.2,341.6 94.5,343.0 C89.8,344.4 87.0,348.8 83.8,349.5 C80.6,350.2 77.0,349.4 75.2,347.3 C73.4,345.2 71.2,339.5 73.0,336.6 Z" fill="#64e6e8"/></g>
<path d="M76.0,338.0 C77.7,336.0 84.3,332.7 88.0,332.0 C91.7,331.3 96.7,332.7 98.0,334.0 C99.3,335.3 98.0,338.3 96.0,340.0 C94.0,341.7 89.0,343.3 86.0,344.0 C83.0,344.7 79.7,345.0 78.0,344.0 C76.3,343.0 74.3,340.0 76.0,338.0 Z" fill="#6cf63e"/>
<g filter="url(#d55a)"><path d="M90.2,358.0 C92.4,356.2 96.7,354.1 101.0,353.8 C105.3,353.5 111.0,355.0 116.0,356.0 C121.0,357.0 127.0,358.2 131.0,360.0 C134.9,361.8 140.0,364.9 139.7,366.7 C139.4,368.5 131.9,368.5 129.0,371.0 C126.1,373.5 124.7,379.2 122.5,381.7 C120.3,384.2 118.5,385.6 116.0,386.0 C113.5,386.4 109.9,385.7 107.4,383.9 C104.9,382.1 103.5,377.1 101.0,375.3 C98.5,373.5 94.6,374.8 92.4,373.0 C90.2,371.2 88.4,367.0 88.0,364.5 C87.6,362.0 88.0,359.8 90.2,358.0 Z" fill="#409cf0"/></g><g filter="url(#d55b)"><path d="M90.2,358.0 C92.4,356.2 96.7,354.1 101.0,353.8 C105.3,353.5 111.0,355.0 116.0,356.0 C121.0,357.0 127.0,358.2 131.0,360.0 C134.9,361.8 140.0,364.9 139.7,366.7 C139.4,368.5 131.9,368.5 129.0,371.0 C126.1,373.5 124.7,379.2 122.5,381.7 C120.3,384.2 118.5,385.6 116.0,386.0 C113.5,386.4 109.9,385.7 107.4,383.9 C104.9,382.1 103.5,377.1 101.0,375.3 C98.5,373.5 94.6,374.8 92.4,373.0 C90.2,371.2 88.4,367.0 88.0,364.5 C87.6,362.0 88.0,359.8 90.2,358.0 Z" fill="#64e6e8"/></g>
<path d="M92.0,360.0 C93.0,358.0 97.7,355.7 100.0,356.0 C102.3,356.3 106.0,360.0 106.0,362.0 C106.0,364.0 102.0,367.0 100.0,368.0 C98.0,369.0 95.3,369.3 94.0,368.0 C92.7,366.7 91.0,362.0 92.0,360.0 Z" fill="#3ccc30"/>
<path d="M104.0,372.0 C105.3,369.7 110.7,366.7 114.0,366.0 C117.3,365.3 122.7,366.0 124.0,368.0 C125.3,370.0 123.7,375.3 122.0,378.0 C120.3,380.7 116.7,383.7 114.0,384.0 C111.3,384.3 107.7,382.0 106.0,380.0 C104.3,378.0 102.7,374.3 104.0,372.0 Z" fill="#3ccc30"/>
<g filter="url(#d55a)"><path d="M455.0,339.0 C456.3,335.8 464.2,334.5 470.0,334.0 C475.8,333.5 483.3,335.2 490.0,336.0 C496.7,336.8 503.8,337.5 510.0,339.0 C516.2,340.5 525.3,342.3 527.0,345.0 C528.7,347.7 524.5,352.8 520.0,355.0 C515.5,357.2 506.7,357.7 500.0,358.0 C493.3,358.3 486.3,357.8 480.0,357.0 C473.7,356.2 466.2,356.0 462.0,353.0 C457.8,350.0 453.7,342.2 455.0,339.0 Z" fill="#409cf0"/></g><g filter="url(#d55b)"><path d="M455.0,339.0 C456.3,335.8 464.2,334.5 470.0,334.0 C475.8,333.5 483.3,335.2 490.0,336.0 C496.7,336.8 503.8,337.5 510.0,339.0 C516.2,340.5 525.3,342.3 527.0,345.0 C528.7,347.7 524.5,352.8 520.0,355.0 C515.5,357.2 506.7,357.7 500.0,358.0 C493.3,358.3 486.3,357.8 480.0,357.0 C473.7,356.2 466.2,356.0 462.0,353.0 C457.8,350.0 453.7,342.2 455.0,339.0 Z" fill="#64e6e8"/></g>
<path d="M458.0,342.0 C458.0,340.0 465.3,338.2 470.0,338.0 C474.7,337.8 481.0,340.0 486.0,341.0 C491.0,342.0 495.7,343.2 500.0,344.0 C504.3,344.8 511.2,344.7 512.0,346.0 C512.8,347.3 509.0,351.0 505.0,352.0 C501.0,353.0 493.8,352.3 488.0,352.0 C482.2,351.7 475.0,351.7 470.0,350.0 C465.0,348.3 458.0,344.0 458.0,342.0 Z" fill="#3ccc30" fill-opacity="0.75"/>
<g filter="url(#d55a)"><path d="M1287.6,121.0 C1289.7,116.2 1288.6,100.7 1289.6,96.2 C1290.6,91.7 1292.6,91.6 1293.8,94.0 C1295.0,96.4 1295.6,106.5 1297.0,110.7 C1298.4,114.9 1300.5,114.9 1302.0,119.0 C1303.5,123.1 1302.2,121.7 1306.0,135.5 C1309.8,149.3 1321.8,188.6 1324.8,201.7 C1327.8,214.8 1325.9,210.6 1323.8,214.0 C1321.7,217.4 1315.4,222.4 1312.4,222.4 C1309.4,222.4 1307.7,218.8 1306.0,214.0 C1304.3,209.2 1303.7,200.3 1302.0,193.4 C1300.3,186.5 1297.9,179.6 1295.8,172.7 C1293.7,165.8 1292.0,156.1 1289.6,152.0 C1287.2,147.9 1284.2,148.7 1281.4,148.0 C1278.6,147.3 1275.8,149.4 1273.0,148.0 C1270.2,146.6 1265.8,143.1 1264.8,139.6 C1263.8,136.1 1265.0,129.4 1267.0,127.0 C1269.0,124.6 1273.6,126.0 1277.0,125.0 C1280.4,124.0 1285.5,125.8 1287.6,121.0 Z" fill="#409cf0"/></g><g filter="url(#d55b)"><path d="M1287.6,121.0 C1289.7,116.2 1288.6,100.7 1289.6,96.2 C1290.6,91.7 1292.6,91.6 1293.8,94.0 C1295.0,96.4 1295.6,106.5 1297.0,110.7 C1298.4,114.9 1300.5,114.9 1302.0,119.0 C1303.5,123.1 1302.2,121.7 1306.0,135.5 C1309.8,149.3 1321.8,188.6 1324.8,201.7 C1327.8,214.8 1325.9,210.6 1323.8,214.0 C1321.7,217.4 1315.4,222.4 1312.4,222.4 C1309.4,222.4 1307.7,218.8 1306.0,214.0 C1304.3,209.2 1303.7,200.3 1302.0,193.4 C1300.3,186.5 1297.9,179.6 1295.8,172.7 C1293.7,165.8 1292.0,156.1 1289.6,152.0 C1287.2,147.9 1284.2,148.7 1281.4,148.0 C1278.6,147.3 1275.8,149.4 1273.0,148.0 C1270.2,146.6 1265.8,143.1 1264.8,139.6 C1263.8,136.1 1265.0,129.4 1267.0,127.0 C1269.0,124.6 1273.6,126.0 1277.0,125.0 C1280.4,124.0 1285.5,125.8 1287.6,121.0 Z" fill="#64e6e8"/></g>
<path d="M1298.0,130.0 C1299.3,125.7 1303.0,127.3 1306.0,134.0 C1309.0,140.7 1313.0,158.3 1316.0,170.0 C1319.0,181.7 1323.7,196.3 1324.0,204.0 C1324.3,211.7 1320.3,214.3 1318.0,216.0 C1315.7,217.7 1312.3,218.3 1310.0,214.0 C1307.7,209.7 1306.0,199.0 1304.0,190.0 C1302.0,181.0 1299.0,170.0 1298.0,160.0 C1297.0,150.0 1296.7,134.3 1298.0,130.0 Z" fill="#6cf63e"/>
<path d="M1288.0,100.0 C1288.3,96.3 1291.7,94.0 1293.0,96.0 C1294.3,98.0 1296.3,108.3 1296.0,112.0 C1295.7,115.7 1292.3,120.0 1291.0,118.0 C1289.7,116.0 1287.7,103.7 1288.0,100.0 Z" fill="#6cf63e"/>
<g filter="url(#d28a)"><path d="M1116.8,197.8 C1119.2,194.8 1126.8,190.7 1131.0,190.7 C1135.2,190.7 1140.5,194.8 1141.7,197.8 C1142.9,200.8 1137.5,204.3 1138.0,208.5 C1138.5,212.7 1145.6,220.6 1145.0,222.7 C1144.4,224.8 1138.1,221.9 1134.6,221.0 C1131.1,220.1 1127.0,219.5 1124.0,217.4 C1121.0,215.3 1118.0,211.8 1116.8,208.5 C1115.6,205.2 1114.4,200.8 1116.8,197.8 Z" fill="#409cf0"/></g><g filter="url(#d28b)"><path d="M1116.8,197.8 C1119.2,194.8 1126.8,190.7 1131.0,190.7 C1135.2,190.7 1140.5,194.8 1141.7,197.8 C1142.9,200.8 1137.5,204.3 1138.0,208.5 C1138.5,212.7 1145.6,220.6 1145.0,222.7 C1144.4,224.8 1138.1,221.9 1134.6,221.0 C1131.1,220.1 1127.0,219.5 1124.0,217.4 C1121.0,215.3 1118.0,211.8 1116.8,208.5 C1115.6,205.2 1114.4,200.8 1116.8,197.8 Z" fill="#64e6e8"/></g>
<g filter="url(#d28a)"><path d="M1116.8,219.0 C1119.8,219.3 1121.6,223.9 1120.4,226.3 C1119.2,228.7 1112.1,230.5 1109.7,233.4 C1107.3,236.3 1107.8,240.4 1106.0,244.0 C1104.2,247.6 1100.5,251.5 1099.0,254.8 C1097.5,258.1 1098.7,262.5 1097.2,263.7 C1095.7,264.9 1091.8,264.7 1090.0,262.0 C1088.2,259.3 1086.2,252.5 1086.5,247.7 C1086.8,242.9 1089.3,237.3 1092.0,233.4 C1094.7,229.5 1098.5,226.9 1102.6,224.5 C1106.7,222.1 1113.8,218.7 1116.8,219.0 Z" fill="#409cf0"/></g><g filter="url(#d28b)"><path d="M1116.8,219.0 C1119.8,219.3 1121.6,223.9 1120.4,226.3 C1119.2,228.7 1112.1,230.5 1109.7,233.4 C1107.3,236.3 1107.8,240.4 1106.0,244.0 C1104.2,247.6 1100.5,251.5 1099.0,254.8 C1097.5,258.1 1098.7,262.5 1097.2,263.7 C1095.7,264.9 1091.8,264.7 1090.0,262.0 C1088.2,259.3 1086.2,252.5 1086.5,247.7 C1086.8,242.9 1089.3,237.3 1092.0,233.4 C1094.7,229.5 1098.5,226.9 1102.6,224.5 C1106.7,222.1 1113.8,218.7 1116.8,219.0 Z" fill="#64e6e8"/></g>
<g filter="url(#d28a)"><path d="M1148.9,279.7 C1152.5,277.6 1160.8,275.6 1166.7,274.4 C1172.6,273.2 1179.8,271.7 1184.5,272.6 C1189.2,273.5 1192.6,276.1 1195.0,279.7 C1197.4,283.3 1198.7,289.9 1198.7,294.0 C1198.7,298.1 1198.0,302.8 1195.0,304.6 C1192.0,306.4 1185.7,305.2 1181.0,304.6 C1176.3,304.0 1170.9,302.8 1166.7,301.0 C1162.5,299.2 1159.6,296.4 1156.0,294.0 C1152.4,291.6 1146.5,289.2 1145.3,286.8 C1144.1,284.4 1145.3,281.8 1148.9,279.7 Z" fill="#409cf0"/></g><g filter="url(#d28b)"><path d="M1148.9,279.7 C1152.5,277.6 1160.8,275.6 1166.7,274.4 C1172.6,273.2 1179.8,271.7 1184.5,272.6 C1189.2,273.5 1192.6,276.1 1195.0,279.7 C1197.4,283.3 1198.7,289.9 1198.7,294.0 C1198.7,298.1 1198.0,302.8 1195.0,304.6 C1192.0,306.4 1185.7,305.2 1181.0,304.6 C1176.3,304.0 1170.9,302.8 1166.7,301.0 C1162.5,299.2 1159.6,296.4 1156.0,294.0 C1152.4,291.6 1146.5,289.2 1145.3,286.8 C1144.1,284.4 1145.3,281.8 1148.9,279.7 Z" fill="#64e6e8"/></g>
<path d="M1168.0,278.0 C1170.0,275.7 1178.0,275.0 1182.0,276.0 C1186.0,277.0 1190.3,280.7 1192.0,284.0 C1193.7,287.3 1194.0,293.7 1192.0,296.0 C1190.0,298.3 1183.7,299.0 1180.0,298.0 C1176.3,297.0 1172.0,293.3 1170.0,290.0 C1168.0,286.7 1166.0,280.3 1168.0,278.0 Z" fill="#6cf63e"/>
<g filter="url(#d28a)"><path d="M1157.8,331.3 C1160.2,327.7 1166.3,324.2 1170.2,322.4 C1174.1,320.6 1178.9,318.2 1181.0,320.6 C1183.1,323.0 1182.7,331.6 1182.7,336.7 C1182.7,341.8 1183.1,347.4 1181.0,351.0 C1178.9,354.6 1173.8,357.4 1170.2,358.0 C1166.6,358.6 1161.9,356.9 1159.5,354.5 C1157.1,352.1 1156.3,347.7 1156.0,343.8 C1155.7,339.9 1155.4,334.9 1157.8,331.3 Z" fill="#409cf0"/></g><g filter="url(#d28b)"><path d="M1157.8,331.3 C1160.2,327.7 1166.3,324.2 1170.2,322.4 C1174.1,320.6 1178.9,318.2 1181.0,320.6 C1183.1,323.0 1182.7,331.6 1182.7,336.7 C1182.7,341.8 1183.1,347.4 1181.0,351.0 C1178.9,354.6 1173.8,357.4 1170.2,358.0 C1166.6,358.6 1161.9,356.9 1159.5,354.5 C1157.1,352.1 1156.3,347.7 1156.0,343.8 C1155.7,339.9 1155.4,334.9 1157.8,331.3 Z" fill="#64e6e8"/></g>
<path d="M1160.0,336.0 C1160.7,332.3 1167.0,329.0 1170.0,328.0 C1173.0,327.0 1177.0,327.0 1178.0,330.0 C1179.0,333.0 1178.0,342.7 1176.0,346.0 C1174.0,349.3 1168.7,351.7 1166.0,350.0 C1163.3,348.3 1159.3,339.7 1160.0,336.0 Z" fill="#6cf63e"/>
<path d="M1042.0,186.0 C1042.7,181.7 1045.7,181.7 1047.0,184.0 C1048.3,186.3 1049.7,193.7 1050.0,200.0 C1050.3,206.3 1050.0,217.0 1049.0,222.0 C1048.0,227.0 1045.0,232.0 1044.0,230.0 C1043.0,228.0 1043.3,217.3 1043.0,210.0 C1042.7,202.7 1041.3,190.3 1042.0,186.0 Z" fill="#6cf63e"/>
<g filter="url(#d28a)"><path d="M1020.0,262.0 C1020.7,257.7 1026.7,256.0 1030.0,254.0 C1033.3,252.0 1038.0,248.0 1040.0,250.0 C1042.0,252.0 1042.7,261.0 1042.0,266.0 C1041.3,271.0 1038.7,277.7 1036.0,280.0 C1033.3,282.3 1028.7,283.0 1026.0,280.0 C1023.3,277.0 1019.3,266.3 1020.0,262.0 Z" fill="#409cf0"/></g><g filter="url(#d28b)"><path d="M1020.0,262.0 C1020.7,257.7 1026.7,256.0 1030.0,254.0 C1033.3,252.0 1038.0,248.0 1040.0,250.0 C1042.0,252.0 1042.7,261.0 1042.0,266.0 C1041.3,271.0 1038.7,277.7 1036.0,280.0 C1033.3,282.3 1028.7,283.0 1026.0,280.0 C1023.3,277.0 1019.3,266.3 1020.0,262.0 Z" fill="#64e6e8"/></g>
<g filter="url(#d55a)"><path d="M1024.0,456.7 C1024.5,452.7 1026.9,440.5 1028.7,434.3 C1030.5,428.1 1032.5,422.9 1034.7,419.4 C1037.0,415.9 1039.2,416.0 1042.2,413.5 C1045.2,411.0 1049.4,407.2 1052.6,404.5 C1055.8,401.8 1058.8,399.0 1061.5,397.0 C1064.2,395.0 1066.0,394.3 1069.0,392.6 C1072.0,390.9 1076.4,388.3 1079.4,386.6 C1082.4,384.9 1084.4,384.2 1086.9,382.2 C1089.4,380.2 1091.6,377.4 1094.3,374.7 C1097.0,372.0 1100.8,368.8 1103.3,365.8 C1105.8,362.8 1107.0,359.8 1109.2,356.8 C1111.4,353.8 1114.2,349.9 1116.7,347.9 C1119.2,345.9 1121.5,344.0 1124.0,345.0 C1126.5,346.0 1131.6,350.6 1131.6,353.8 C1131.6,357.0 1127.2,360.8 1124.0,364.3 C1120.8,367.8 1115.7,371.0 1112.2,374.7 C1108.8,378.4 1105.8,383.4 1103.3,386.6 C1100.8,389.8 1099.3,391.8 1097.3,394.0 C1095.3,396.2 1094.3,398.2 1091.3,400.0 C1088.3,401.8 1083.4,403.2 1079.4,404.5 C1075.4,405.8 1070.5,406.0 1067.5,407.5 C1064.5,409.0 1064.0,411.0 1061.5,413.5 C1059.0,416.0 1055.6,419.4 1052.6,422.4 C1049.6,425.4 1046.2,428.1 1043.7,431.3 C1041.2,434.5 1039.7,438.3 1037.7,441.8 C1035.7,445.3 1033.7,449.5 1031.7,452.2 C1029.7,454.9 1027.1,457.4 1025.8,458.2 C1024.5,458.9 1023.5,460.7 1024.0,456.7 Z" fill="#409cf0"/></g><g filter="url(#d55b)"><path d="M1024.0,456.7 C1024.5,452.7 1026.9,440.5 1028.7,434.3 C1030.5,428.1 1032.5,422.9 1034.7,419.4 C1037.0,415.9 1039.2,416.0 1042.2,413.5 C1045.2,411.0 1049.4,407.2 1052.6,404.5 C1055.8,401.8 1058.8,399.0 1061.5,397.0 C1064.2,395.0 1066.0,394.3 1069.0,392.6 C1072.0,390.9 1076.4,388.3 1079.4,386.6 C1082.4,384.9 1084.4,384.2 1086.9,382.2 C1089.4,380.2 1091.6,377.4 1094.3,374.7 C1097.0,372.0 1100.8,368.8 1103.3,365.8 C1105.8,362.8 1107.0,359.8 1109.2,356.8 C1111.4,353.8 1114.2,349.9 1116.7,347.9 C1119.2,345.9 1121.5,344.0 1124.0,345.0 C1126.5,346.0 1131.6,350.6 1131.6,353.8 C1131.6,357.0 1127.2,360.8 1124.0,364.3 C1120.8,367.8 1115.7,371.0 1112.2,374.7 C1108.8,378.4 1105.8,383.4 1103.3,386.6 C1100.8,389.8 1099.3,391.8 1097.3,394.0 C1095.3,396.2 1094.3,398.2 1091.3,400.0 C1088.3,401.8 1083.4,403.2 1079.4,404.5 C1075.4,405.8 1070.5,406.0 1067.5,407.5 C1064.5,409.0 1064.0,411.0 1061.5,413.5 C1059.0,416.0 1055.6,419.4 1052.6,422.4 C1049.6,425.4 1046.2,428.1 1043.7,431.3 C1041.2,434.5 1039.7,438.3 1037.7,441.8 C1035.7,445.3 1033.7,449.5 1031.7,452.2 C1029.7,454.9 1027.1,457.4 1025.8,458.2 C1024.5,458.9 1023.5,460.7 1024.0,456.7 Z" fill="#64e6e8"/></g>
<path d="M1025.0,452.0 C1025.2,448.5 1027.3,439.2 1029.0,434.0 C1030.7,428.8 1032.5,424.3 1035.0,421.0 C1037.5,417.7 1040.8,416.7 1044.0,414.0 C1047.2,411.3 1050.7,407.7 1054.0,405.0 C1057.3,402.3 1060.2,400.5 1064.0,398.0 C1067.8,395.5 1073.2,392.3 1077.0,390.0 C1080.8,387.7 1084.0,386.3 1087.0,384.0 C1090.0,381.7 1092.2,379.0 1095.0,376.0 C1097.8,373.0 1101.3,369.5 1104.0,366.0 C1106.7,362.5 1108.5,358.0 1111.0,355.0 C1113.5,352.0 1116.3,348.3 1119.0,348.0 C1121.7,347.7 1126.7,350.3 1127.0,353.0 C1127.3,355.7 1123.8,360.3 1121.0,364.0 C1118.2,367.7 1113.5,371.0 1110.0,375.0 C1106.5,379.0 1103.0,384.3 1100.0,388.0 C1097.0,391.7 1095.3,394.7 1092.0,397.0 C1088.7,399.3 1084.2,400.7 1080.0,402.0 C1075.8,403.3 1070.7,403.2 1067.0,405.0 C1063.3,406.8 1061.0,410.2 1058.0,413.0 C1055.0,415.8 1051.8,418.8 1049.0,422.0 C1046.2,425.2 1043.5,428.3 1041.0,432.0 C1038.5,435.7 1036.2,440.2 1034.0,444.0 C1031.8,447.8 1029.5,453.7 1028.0,455.0 C1026.5,456.3 1024.8,455.5 1025.0,452.0 Z" fill="#3ccc30"/>
<path d="M1090.0,388.0 C1090.7,385.7 1096.0,379.3 1098.0,378.0 C1100.0,376.7 1102.7,377.7 1102.0,380.0 C1101.3,382.3 1096.0,390.7 1094.0,392.0 C1092.0,393.3 1089.3,390.3 1090.0,388.0 Z" fill="#ecd21c"/>
<path d="M1033.0,440.0 C1033.2,438.0 1036.5,431.3 1038.0,430.0 C1039.5,428.7 1042.2,430.0 1042.0,432.0 C1041.8,434.0 1038.5,440.7 1037.0,442.0 C1035.5,443.3 1032.8,442.0 1033.0,440.0 Z" fill="#ecd21c"/>
<g filter="url(#d28a)"><path d="M1094.0,345.0 C1096.3,342.0 1104.3,341.5 1110.0,342.0 C1115.7,342.5 1123.0,344.7 1128.0,348.0 C1133.0,351.3 1138.3,356.7 1140.0,362.0 C1141.7,367.3 1139.7,375.0 1138.0,380.0 C1136.3,385.0 1133.3,390.0 1130.0,392.0 C1126.7,394.0 1121.0,394.0 1118.0,392.0 C1115.0,390.0 1114.3,383.3 1112.0,380.0 C1109.7,376.7 1106.7,375.3 1104.0,372.0 C1101.3,368.7 1097.7,364.5 1096.0,360.0 C1094.3,355.5 1091.7,348.0 1094.0,345.0 Z" fill="#409cf0"/></g><g filter="url(#d28b)"><path d="M1094.0,345.0 C1096.3,342.0 1104.3,341.5 1110.0,342.0 C1115.7,342.5 1123.0,344.7 1128.0,348.0 C1133.0,351.3 1138.3,356.7 1140.0,362.0 C1141.7,367.3 1139.7,375.0 1138.0,380.0 C1136.3,385.0 1133.3,390.0 1130.0,392.0 C1126.7,394.0 1121.0,394.0 1118.0,392.0 C1115.0,390.0 1114.3,383.3 1112.0,380.0 C1109.7,376.7 1106.7,375.3 1104.0,372.0 C1101.3,368.7 1097.7,364.5 1096.0,360.0 C1094.3,355.5 1091.7,348.0 1094.0,345.0 Z" fill="#64e6e8"/></g>
<g filter="url(#d28a)"><path d="M1116.0,392.0 C1118.2,388.3 1126.0,388.7 1130.0,390.0 C1134.0,391.3 1138.5,395.2 1140.0,400.0 C1141.5,404.8 1141.3,415.5 1139.0,419.0 C1136.7,422.5 1129.7,422.2 1126.0,421.0 C1122.3,419.8 1118.7,416.8 1117.0,412.0 C1115.3,407.2 1113.8,395.7 1116.0,392.0 Z" fill="#409cf0"/></g><g filter="url(#d28b)"><path d="M1116.0,392.0 C1118.2,388.3 1126.0,388.7 1130.0,390.0 C1134.0,391.3 1138.5,395.2 1140.0,400.0 C1141.5,404.8 1141.3,415.5 1139.0,419.0 C1136.7,422.5 1129.7,422.2 1126.0,421.0 C1122.3,419.8 1118.7,416.8 1117.0,412.0 C1115.3,407.2 1113.8,395.7 1116.0,392.0 Z" fill="#64e6e8"/></g>
<g filter="url(#d55a)"><path d="M1057.0,434.3 C1059.7,431.1 1067.0,428.9 1072.0,426.9 C1077.0,424.9 1081.9,423.6 1086.9,422.4 C1091.9,421.1 1096.8,419.9 1101.8,419.4 C1106.8,418.9 1112.5,418.9 1116.7,419.4 C1120.9,419.9 1125.9,419.9 1127.1,422.4 C1128.3,424.9 1127.0,431.6 1124.0,434.3 C1121.0,437.0 1114.2,437.3 1109.2,438.8 C1104.2,440.3 1099.3,441.8 1094.3,443.3 C1089.3,444.8 1084.4,446.7 1079.4,447.7 C1074.4,448.7 1068.5,449.4 1064.5,449.2 C1060.5,448.9 1056.8,448.7 1055.6,446.2 C1054.3,443.7 1054.3,437.5 1057.0,434.3 Z" fill="#409cf0"/></g><g filter="url(#d55b)"><path d="M1057.0,434.3 C1059.7,431.1 1067.0,428.9 1072.0,426.9 C1077.0,424.9 1081.9,423.6 1086.9,422.4 C1091.9,421.1 1096.8,419.9 1101.8,419.4 C1106.8,418.9 1112.5,418.9 1116.7,419.4 C1120.9,419.9 1125.9,419.9 1127.1,422.4 C1128.3,424.9 1127.0,431.6 1124.0,434.3 C1121.0,437.0 1114.2,437.3 1109.2,438.8 C1104.2,440.3 1099.3,441.8 1094.3,443.3 C1089.3,444.8 1084.4,446.7 1079.4,447.7 C1074.4,448.7 1068.5,449.4 1064.5,449.2 C1060.5,448.9 1056.8,448.7 1055.6,446.2 C1054.3,443.7 1054.3,437.5 1057.0,434.3 Z" fill="#64e6e8"/></g>
<path d="M1062.0,438.0 C1063.7,435.7 1072.7,432.8 1078.0,431.0 C1083.3,429.2 1088.7,428.2 1094.0,427.0 C1099.3,425.8 1105.7,424.2 1110.0,424.0 C1114.3,423.8 1119.0,424.5 1120.0,426.0 C1121.0,427.5 1119.3,431.2 1116.0,433.0 C1112.7,434.8 1105.3,435.5 1100.0,437.0 C1094.7,438.5 1089.3,440.7 1084.0,442.0 C1078.7,443.3 1071.7,445.7 1068.0,445.0 C1064.3,444.3 1060.3,440.3 1062.0,438.0 Z" fill="#6cf63e"/>
<g filter="url(#d55a)"><path d="M1108.0,440.0 C1111.5,437.2 1121.3,433.0 1127.0,433.0 C1132.7,433.0 1138.7,436.3 1142.0,440.0 C1145.3,443.7 1146.8,450.7 1147.0,455.0 C1147.2,459.3 1144.8,462.0 1143.0,466.0 C1141.2,470.0 1139.5,476.5 1136.0,479.0 C1132.5,481.5 1126.5,481.8 1122.0,481.0 C1117.5,480.2 1111.3,477.3 1109.0,474.0 C1106.7,470.7 1108.5,465.0 1108.0,461.0 C1107.5,457.0 1106.0,453.5 1106.0,450.0 C1106.0,446.5 1104.5,442.8 1108.0,440.0 Z" fill="#409cf0"/></g><g filter="url(#d55b)"><path d="M1108.0,440.0 C1111.5,437.2 1121.3,433.0 1127.0,433.0 C1132.7,433.0 1138.7,436.3 1142.0,440.0 C1145.3,443.7 1146.8,450.7 1147.0,455.0 C1147.2,459.3 1144.8,462.0 1143.0,466.0 C1141.2,470.0 1139.5,476.5 1136.0,479.0 C1132.5,481.5 1126.5,481.8 1122.0,481.0 C1117.5,480.2 1111.3,477.3 1109.0,474.0 C1106.7,470.7 1108.5,465.0 1108.0,461.0 C1107.5,457.0 1106.0,453.5 1106.0,450.0 C1106.0,446.5 1104.5,442.8 1108.0,440.0 Z" fill="#64e6e8"/></g>
<path d="M1112.2,443.3 C1114.9,440.8 1122.6,437.3 1127.1,437.3 C1131.6,437.3 1136.3,440.3 1139.0,443.3 C1141.7,446.3 1143.5,451.8 1143.5,455.2 C1143.5,458.6 1140.8,460.5 1139.0,464.0 C1137.2,467.5 1135.5,473.8 1133.0,476.0 C1130.5,478.2 1127.5,478.2 1124.0,477.5 C1120.5,476.8 1113.9,474.4 1112.2,471.6 C1110.5,468.9 1114.0,464.2 1113.7,461.0 C1113.5,457.8 1111.0,455.1 1110.7,452.2 C1110.5,449.2 1109.5,445.8 1112.2,443.3 Z" fill="#3ccc30" fill-opacity="0.75"/>
<g filter="url(#d28a)"><path d="M1157.0,334.0 C1158.3,330.7 1165.5,329.7 1170.0,330.0 C1174.5,330.3 1183.0,332.7 1184.0,336.0 C1185.0,339.3 1179.7,347.7 1176.0,350.0 C1172.3,352.3 1165.2,352.7 1162.0,350.0 C1158.8,347.3 1155.7,337.3 1157.0,334.0 Z" fill="#409cf0"/></g><g filter="url(#d28b)"><path d="M1157.0,334.0 C1158.3,330.7 1165.5,329.7 1170.0,330.0 C1174.5,330.3 1183.0,332.7 1184.0,336.0 C1185.0,339.3 1179.7,347.7 1176.0,350.0 C1172.3,352.3 1165.2,352.7 1162.0,350.0 C1158.8,347.3 1155.7,337.3 1157.0,334.0 Z" fill="#64e6e8"/></g>
<g filter="url(#d28a)"><path d="M920.0,517.0 C922.5,510.3 930.0,513.7 935.0,515.0 C940.0,516.3 947.0,520.0 950.0,525.0 C953.0,530.0 953.8,538.8 953.0,545.0 C952.2,551.2 948.8,558.7 945.0,562.0 C941.2,565.3 934.2,566.2 930.0,565.0 C925.8,563.8 921.7,563.0 920.0,555.0 C918.3,547.0 917.5,523.7 920.0,517.0 Z" fill="#409cf0"/></g><g filter="url(#d28b)"><path d="M920.0,517.0 C922.5,510.3 930.0,513.7 935.0,515.0 C940.0,516.3 947.0,520.0 950.0,525.0 C953.0,530.0 953.8,538.8 953.0,545.0 C952.2,551.2 948.8,558.7 945.0,562.0 C941.2,565.3 934.2,566.2 930.0,565.0 C925.8,563.8 921.7,563.0 920.0,555.0 C918.3,547.0 917.5,523.7 920.0,517.0 Z" fill="#64e6e8"/></g>
<g filter="url(#d55a)"><path d="M1024.0,534.0 C1025.0,529.7 1033.1,523.0 1038.0,520.0 C1042.9,517.0 1048.6,517.7 1053.4,516.0 C1058.2,514.3 1062.4,511.7 1066.8,510.0 C1071.2,508.3 1075.5,507.2 1080.0,506.0 C1084.5,504.8 1089.5,504.3 1093.5,503.0 C1097.5,501.7 1100.6,500.5 1104.0,498.0 C1107.4,495.5 1110.3,491.0 1114.0,488.0 C1117.7,485.0 1121.7,482.0 1126.0,480.0 C1130.3,478.0 1135.7,476.0 1140.0,476.0 C1144.3,476.0 1149.3,477.0 1152.0,480.0 C1154.7,483.0 1153.7,490.0 1156.0,494.0 C1158.3,498.0 1163.7,501.0 1166.0,504.0 C1168.3,507.0 1171.0,509.5 1170.0,512.0 C1169.0,514.5 1163.7,518.0 1160.0,519.0 C1156.3,520.0 1151.0,516.5 1148.0,518.0 C1145.0,519.5 1145.3,524.8 1142.0,528.0 C1138.7,531.2 1133.3,535.3 1128.0,537.0 C1122.7,538.7 1117.7,537.5 1110.0,538.0 C1102.3,538.5 1089.3,539.7 1082.0,540.0 C1074.7,540.3 1071.7,538.7 1066.0,540.0 C1060.3,541.3 1053.7,547.0 1048.0,548.0 C1042.3,549.0 1036.0,548.3 1032.0,546.0 C1028.0,543.7 1023.0,538.3 1024.0,534.0 Z" fill="#409cf0"/></g><g filter="url(#d55b)"><path d="M1024.0,534.0 C1025.0,529.7 1033.1,523.0 1038.0,520.0 C1042.9,517.0 1048.6,517.7 1053.4,516.0 C1058.2,514.3 1062.4,511.7 1066.8,510.0 C1071.2,508.3 1075.5,507.2 1080.0,506.0 C1084.5,504.8 1089.5,504.3 1093.5,503.0 C1097.5,501.7 1100.6,500.5 1104.0,498.0 C1107.4,495.5 1110.3,491.0 1114.0,488.0 C1117.7,485.0 1121.7,482.0 1126.0,480.0 C1130.3,478.0 1135.7,476.0 1140.0,476.0 C1144.3,476.0 1149.3,477.0 1152.0,480.0 C1154.7,483.0 1153.7,490.0 1156.0,494.0 C1158.3,498.0 1163.7,501.0 1166.0,504.0 C1168.3,507.0 1171.0,509.5 1170.0,512.0 C1169.0,514.5 1163.7,518.0 1160.0,519.0 C1156.3,520.0 1151.0,516.5 1148.0,518.0 C1145.0,519.5 1145.3,524.8 1142.0,528.0 C1138.7,531.2 1133.3,535.3 1128.0,537.0 C1122.7,538.7 1117.7,537.5 1110.0,538.0 C1102.3,538.5 1089.3,539.7 1082.0,540.0 C1074.7,540.3 1071.7,538.7 1066.0,540.0 C1060.3,541.3 1053.7,547.0 1048.0,548.0 C1042.3,549.0 1036.0,548.3 1032.0,546.0 C1028.0,543.7 1023.0,538.3 1024.0,534.0 Z" fill="#64e6e8"/></g>
<path d="M1028.0,532.7 C1028.8,529.9 1035.8,525.6 1040.0,523.4 C1044.2,521.2 1048.9,521.0 1053.4,519.4 C1057.9,517.8 1062.4,515.6 1066.8,514.0 C1071.2,512.4 1075.5,511.1 1080.0,510.0 C1084.5,508.9 1090.2,508.2 1093.5,507.4 C1096.8,506.6 1097.2,506.2 1100.0,505.0 C1102.8,503.8 1106.7,502.2 1110.0,500.0 C1113.3,497.8 1116.7,494.7 1120.0,492.0 C1123.3,489.3 1126.7,486.0 1130.0,484.0 C1133.3,482.0 1136.7,480.0 1140.0,480.0 C1143.3,480.0 1148.0,481.5 1150.0,484.0 C1152.0,486.5 1150.3,491.5 1152.0,495.0 C1153.7,498.5 1158.0,502.3 1160.0,505.0 C1162.0,507.7 1164.3,509.5 1164.0,511.0 C1163.7,512.5 1160.7,513.8 1158.0,514.0 C1155.3,514.2 1151.0,510.7 1148.0,512.0 C1145.0,513.3 1143.3,519.0 1140.0,522.0 C1136.7,525.0 1133.0,528.2 1128.0,530.0 C1123.0,531.8 1114.7,532.5 1110.0,533.0 C1105.3,533.5 1105.0,532.7 1100.0,533.0 C1095.0,533.3 1085.5,534.7 1080.0,535.0 C1074.5,535.3 1072.1,534.0 1066.8,535.0 C1061.5,536.0 1053.3,540.2 1048.0,541.0 C1042.7,541.8 1038.3,541.4 1035.0,540.0 C1031.7,538.6 1027.2,535.5 1028.0,532.7 Z" fill="#3ccc30" fill-opacity="0.75"/>
<path d="M1040.0,528.0 C1041.3,526.0 1048.7,524.0 1052.0,524.0 C1055.3,524.0 1059.5,526.2 1060.0,528.0 C1060.5,529.8 1057.7,533.7 1055.0,535.0 C1052.3,536.3 1046.5,537.2 1044.0,536.0 C1041.5,534.8 1038.7,530.0 1040.0,528.0 Z" fill="#f1f1f1" fill-opacity="0.7"/>
<path d="M1098.0,510.0 C1098.5,508.3 1102.3,505.7 1104.0,506.0 C1105.7,506.3 1108.5,510.3 1108.0,512.0 C1107.5,513.7 1102.7,516.3 1101.0,516.0 C1099.3,515.7 1097.5,511.7 1098.0,510.0 Z" fill="#ecd21c"/>
<path d="M1122.0,492.0 C1122.8,490.0 1128.2,487.3 1130.0,488.0 C1131.8,488.7 1133.8,494.0 1133.0,496.0 C1132.2,498.0 1126.8,500.7 1125.0,500.0 C1123.2,499.3 1121.2,494.0 1122.0,492.0 Z" fill="#ecd21c"/>
<path d="M1060.0,522.0 C1060.7,520.5 1064.7,518.3 1066.0,519.0 C1067.3,519.7 1068.7,524.5 1068.0,526.0 C1067.3,527.5 1063.3,528.7 1062.0,528.0 C1060.7,527.3 1059.3,523.5 1060.0,522.0 Z" fill="#ecd21c"/>
<g filter="url(#d55a)"><path d="M924.0,570.0 C928.1,566.2 940.7,564.8 946.7,563.0 C952.7,561.2 955.5,561.3 960.0,559.0 C964.5,556.7 968.9,552.0 973.4,549.0 C977.9,546.0 982.3,542.7 986.7,541.0 C991.1,539.3 995.5,539.3 1000.0,539.0 C1004.5,538.7 1008.9,540.0 1013.4,539.0 C1017.9,538.0 1022.4,534.5 1026.8,533.0 C1031.2,531.5 1036.1,528.3 1040.0,530.0 C1043.9,531.7 1049.7,537.0 1050.0,543.0 C1050.3,549.0 1045.9,561.7 1042.0,566.0 C1038.1,570.3 1031.6,567.7 1026.8,569.0 C1022.0,570.3 1017.9,574.0 1013.4,574.0 C1008.9,574.0 1004.5,570.3 1000.0,569.0 C995.5,567.7 991.1,565.5 986.7,566.0 C982.3,566.5 977.5,569.3 973.4,572.0 C969.3,574.7 961.7,581.0 962.0,582.0 C962.3,583.0 972.7,577.0 975.0,578.0 C977.3,579.0 979.3,585.7 976.0,588.0 C972.7,590.3 961.8,591.7 955.0,592.0 C948.2,592.3 940.5,591.0 935.0,590.0 C929.5,589.0 923.8,589.3 922.0,586.0 C920.2,582.7 919.9,573.8 924.0,570.0 Z" fill="#409cf0"/></g><g filter="url(#d55b)"><path d="M924.0,570.0 C928.1,566.2 940.7,564.8 946.7,563.0 C952.7,561.2 955.5,561.3 960.0,559.0 C964.5,556.7 968.9,552.0 973.4,549.0 C977.9,546.0 982.3,542.7 986.7,541.0 C991.1,539.3 995.5,539.3 1000.0,539.0 C1004.5,538.7 1008.9,540.0 1013.4,539.0 C1017.9,538.0 1022.4,534.5 1026.8,533.0 C1031.2,531.5 1036.1,528.3 1040.0,530.0 C1043.9,531.7 1049.7,537.0 1050.0,543.0 C1050.3,549.0 1045.9,561.7 1042.0,566.0 C1038.1,570.3 1031.6,567.7 1026.8,569.0 C1022.0,570.3 1017.9,574.0 1013.4,574.0 C1008.9,574.0 1004.5,570.3 1000.0,569.0 C995.5,567.7 991.1,565.5 986.7,566.0 C982.3,566.5 977.5,569.3 973.4,572.0 C969.3,574.7 961.7,581.0 962.0,582.0 C962.3,583.0 972.7,577.0 975.0,578.0 C977.3,579.0 979.3,585.7 976.0,588.0 C972.7,590.3 961.8,591.7 955.0,592.0 C948.2,592.3 940.5,591.0 935.0,590.0 C929.5,589.0 923.8,589.3 922.0,586.0 C920.2,582.7 919.9,573.8 924.0,570.0 Z" fill="#64e6e8"/></g>
<path d="M928.0,571.4 C930.2,568.9 941.4,567.3 946.7,566.0 C952.0,564.7 955.5,565.6 960.0,563.4 C964.5,561.2 968.9,555.8 973.4,552.7 C977.9,549.6 982.3,546.5 986.7,544.7 C991.1,542.9 995.5,542.5 1000.0,542.0 C1004.5,541.5 1008.9,542.9 1013.4,542.0 C1017.9,541.1 1022.4,538.0 1026.8,536.7 C1031.2,535.4 1036.8,532.6 1040.0,534.0 C1043.2,535.4 1046.0,540.1 1046.0,545.0 C1046.0,549.9 1043.2,559.9 1040.0,563.4 C1036.8,566.9 1031.2,564.7 1026.8,566.0 C1022.4,567.3 1017.9,571.4 1013.4,571.4 C1008.9,571.4 1004.5,567.3 1000.0,566.0 C995.5,564.7 991.1,562.9 986.7,563.4 C982.3,563.9 976.5,566.3 973.4,568.7 C970.3,571.1 970.2,576.1 968.0,578.0 C965.8,579.9 963.5,579.8 960.0,580.0 C956.5,580.2 951.2,579.3 946.7,579.4 C942.2,579.5 936.4,582.1 933.3,580.8 C930.2,579.5 925.8,573.9 928.0,571.4 Z" fill="#3ccc30" fill-opacity="0.75"/>
<path d="M922.0,575.0 C923.7,572.3 930.3,570.2 935.0,569.0 C939.7,567.8 945.0,567.7 950.0,568.0 C955.0,568.3 960.8,569.2 965.0,571.0 C969.2,572.8 974.2,576.3 975.0,579.0 C975.8,581.7 973.3,585.3 970.0,587.0 C966.7,588.7 960.0,589.0 955.0,589.0 C950.0,589.0 945.0,587.7 940.0,587.0 C935.0,586.3 928.0,587.0 925.0,585.0 C922.0,583.0 920.3,577.7 922.0,575.0 Z" fill="#3ccc30" fill-opacity="0.75"/>
<path d="M946.0,572.0 C946.5,570.2 952.3,569.2 955.0,570.0 C957.7,570.8 962.5,575.2 962.0,577.0 C961.5,578.8 954.7,581.8 952.0,581.0 C949.3,580.2 945.5,573.8 946.0,572.0 Z" fill="#f6900a"/>
<path d="M985.0,552.0 C985.8,550.7 990.5,549.3 992.0,550.0 C993.5,550.7 994.8,554.7 994.0,556.0 C993.2,557.3 988.5,558.7 987.0,558.0 C985.5,557.3 984.2,553.3 985.0,552.0 Z" fill="#ecd21c"/>
<path d="M1010.0,548.0 C1011.0,546.5 1016.3,545.2 1018.0,546.0 C1019.7,546.8 1021.0,551.5 1020.0,553.0 C1019.0,554.5 1013.7,555.8 1012.0,555.0 C1010.3,554.2 1009.0,549.5 1010.0,548.0 Z" fill="#ecd21c"/>
<g filter="url(#d55a)"><path d="M1040.0,546.0 C1043.5,542.2 1053.3,539.0 1060.0,537.0 C1066.7,535.0 1073.3,534.8 1080.0,534.0 C1086.7,533.2 1093.7,532.3 1100.0,532.0 C1106.3,531.7 1113.0,531.0 1118.0,532.0 C1123.0,533.0 1126.0,535.3 1130.0,538.0 C1134.0,540.7 1141.7,544.0 1142.0,548.0 C1142.3,552.0 1135.3,557.5 1132.0,562.0 C1128.7,566.5 1125.0,570.3 1122.0,575.0 C1119.0,579.7 1117.7,585.8 1114.0,590.0 C1110.3,594.2 1105.0,598.2 1100.0,600.0 C1095.0,601.8 1087.7,599.2 1084.0,601.0 C1080.3,602.8 1079.5,607.2 1078.0,611.0 C1076.5,614.8 1076.7,619.5 1075.0,624.0 C1073.3,628.5 1071.0,634.2 1068.0,638.0 C1065.0,641.8 1060.7,645.2 1057.0,647.0 C1053.3,648.8 1050.5,648.7 1046.0,649.0 C1041.5,649.3 1035.0,648.7 1030.0,649.0 C1025.0,649.3 1020.8,650.2 1016.0,651.0 C1011.2,651.8 1006.2,653.8 1001.0,654.0 C995.8,654.2 989.3,654.0 985.0,652.0 C980.7,650.0 977.0,646.0 975.0,642.0 C973.0,638.0 971.5,632.7 973.0,628.0 C974.5,623.3 980.2,618.0 984.0,614.0 C987.8,610.0 993.7,607.0 996.0,604.0 C998.3,601.0 995.3,597.0 998.0,596.0 C1000.7,595.0 1007.5,597.8 1012.0,598.0 C1016.5,598.2 1021.3,598.3 1025.0,597.0 C1028.7,595.7 1031.8,593.7 1034.0,590.0 C1036.2,586.3 1037.2,580.0 1038.0,575.0 C1038.8,570.0 1038.7,564.8 1039.0,560.0 C1039.3,555.2 1036.5,549.8 1040.0,546.0 Z" fill="#409cf0"/></g><g filter="url(#d55b)"><path d="M1040.0,546.0 C1043.5,542.2 1053.3,539.0 1060.0,537.0 C1066.7,535.0 1073.3,534.8 1080.0,534.0 C1086.7,533.2 1093.7,532.3 1100.0,532.0 C1106.3,531.7 1113.0,531.0 1118.0,532.0 C1123.0,533.0 1126.0,535.3 1130.0,538.0 C1134.0,540.7 1141.7,544.0 1142.0,548.0 C1142.3,552.0 1135.3,557.5 1132.0,562.0 C1128.7,566.5 1125.0,570.3 1122.0,575.0 C1119.0,579.7 1117.7,585.8 1114.0,590.0 C1110.3,594.2 1105.0,598.2 1100.0,600.0 C1095.0,601.8 1087.7,599.2 1084.0,601.0 C1080.3,602.8 1079.5,607.2 1078.0,611.0 C1076.5,614.8 1076.7,619.5 1075.0,624.0 C1073.3,628.5 1071.0,634.2 1068.0,638.0 C1065.0,641.8 1060.7,645.2 1057.0,647.0 C1053.3,648.8 1050.5,648.7 1046.0,649.0 C1041.5,649.3 1035.0,648.7 1030.0,649.0 C1025.0,649.3 1020.8,650.2 1016.0,651.0 C1011.2,651.8 1006.2,653.8 1001.0,654.0 C995.8,654.2 989.3,654.0 985.0,652.0 C980.7,650.0 977.0,646.0 975.0,642.0 C973.0,638.0 971.5,632.7 973.0,628.0 C974.5,623.3 980.2,618.0 984.0,614.0 C987.8,610.0 993.7,607.0 996.0,604.0 C998.3,601.0 995.3,597.0 998.0,596.0 C1000.7,595.0 1007.5,597.8 1012.0,598.0 C1016.5,598.2 1021.3,598.3 1025.0,597.0 C1028.7,595.7 1031.8,593.7 1034.0,590.0 C1036.2,586.3 1037.2,580.0 1038.0,575.0 C1038.8,570.0 1038.7,564.8 1039.0,560.0 C1039.3,555.2 1036.5,549.8 1040.0,546.0 Z" fill="#64e6e8"/></g>
<path d="M1045.0,548.0 C1048.0,544.7 1054.2,541.8 1060.0,540.0 C1065.8,538.2 1073.3,537.8 1080.0,537.0 C1086.7,536.2 1094.2,535.3 1100.0,535.0 C1105.8,534.7 1110.3,534.2 1115.0,535.0 C1119.7,535.8 1124.2,537.8 1128.0,540.0 C1131.8,542.2 1138.0,544.7 1138.0,548.0 C1138.0,551.3 1131.0,556.0 1128.0,560.0 C1125.0,564.0 1122.7,567.7 1120.0,572.0 C1117.3,576.3 1115.7,582.0 1112.0,586.0 C1108.3,590.0 1103.0,594.0 1098.0,596.0 C1093.0,598.0 1085.7,596.0 1082.0,598.0 C1078.3,600.0 1077.7,604.0 1076.0,608.0 C1074.3,612.0 1073.8,617.3 1072.0,622.0 C1070.2,626.7 1067.8,632.3 1065.0,636.0 C1062.2,639.7 1058.2,642.3 1055.0,644.0 C1051.8,645.7 1050.2,645.7 1046.0,646.0 C1041.8,646.3 1035.0,645.7 1030.0,646.0 C1025.0,646.3 1020.8,647.2 1016.0,648.0 C1011.2,648.8 1005.8,650.8 1001.0,651.0 C996.2,651.2 990.8,650.8 987.0,649.0 C983.2,647.2 979.8,643.5 978.0,640.0 C976.2,636.5 974.5,632.2 976.0,628.0 C977.5,623.8 983.3,618.7 987.0,615.0 C990.7,611.3 995.8,608.8 998.0,606.0 C1000.2,603.2 997.7,599.7 1000.0,598.0 C1002.3,596.3 1007.8,596.7 1012.0,596.0 C1016.2,595.3 1021.2,595.3 1025.0,594.0 C1028.8,592.7 1032.5,591.2 1035.0,588.0 C1037.5,584.8 1038.8,579.7 1040.0,575.0 C1041.2,570.3 1041.2,564.5 1042.0,560.0 C1042.8,555.5 1042.0,551.3 1045.0,548.0 Z" fill="#3ccc30"/>
<path d="M1048.0,552.0 C1052.3,549.2 1061.3,546.2 1070.0,545.0 C1078.7,543.8 1092.0,543.8 1100.0,545.0 C1108.0,546.2 1114.0,548.5 1118.0,552.0 C1122.0,555.5 1125.3,560.3 1124.0,566.0 C1122.7,571.7 1115.7,581.0 1110.0,586.0 C1104.3,591.0 1096.3,593.5 1090.0,596.0 C1083.7,598.5 1077.8,599.5 1072.0,601.0 C1066.2,602.5 1060.3,604.2 1055.0,605.0 C1049.7,605.8 1043.2,607.8 1040.0,606.0 C1036.8,604.2 1036.0,599.2 1036.0,594.0 C1036.0,588.8 1038.7,580.3 1040.0,575.0 C1041.3,569.7 1042.7,565.8 1044.0,562.0 C1045.3,558.2 1043.7,554.8 1048.0,552.0 Z" fill="#14a814"/>
<path d="M979.8,622.4 C983.7,617.6 994.7,614.1 1001.2,611.7 C1007.7,609.3 1013.1,608.8 1019.0,608.2 C1024.9,607.6 1030.9,608.8 1036.8,608.2 C1042.7,607.6 1048.7,605.2 1054.6,604.6 C1060.5,604.0 1068.8,602.2 1072.4,604.6 C1076.0,607.0 1077.2,613.5 1076.0,618.9 C1074.8,624.2 1070.3,632.2 1065.3,636.7 C1060.2,641.2 1054.0,643.8 1045.7,645.6 C1037.4,647.4 1025.3,646.7 1015.5,647.3 C1005.7,647.9 993.2,650.2 987.0,649.0 C980.8,647.8 979.2,644.6 978.0,640.2 C976.8,635.8 975.9,627.1 979.8,622.4 Z" fill="#6cf63e"/>
<path d="M998.0,578.0 C1000.0,575.7 1006.7,576.0 1012.0,576.0 C1017.3,576.0 1026.0,576.0 1030.0,578.0 C1034.0,580.0 1036.3,585.3 1036.0,588.0 C1035.7,590.7 1032.0,592.8 1028.0,594.0 C1024.0,595.2 1016.7,595.7 1012.0,595.0 C1007.3,594.3 1002.3,592.8 1000.0,590.0 C997.7,587.2 996.0,580.3 998.0,578.0 Z" fill="#f1f1f1" fill-opacity="0.7"/>
<path d="M1050.0,568.0 C1053.3,563.3 1062.5,561.0 1070.0,560.0 C1077.5,559.0 1088.0,561.5 1095.0,562.0 C1102.0,562.5 1107.8,561.7 1112.0,563.0 C1116.2,564.3 1120.7,566.3 1120.0,570.0 C1119.3,573.7 1113.0,581.3 1108.0,585.0 C1103.0,588.7 1096.0,590.0 1090.0,592.0 C1084.0,594.0 1077.8,596.2 1072.0,597.0 C1066.2,597.8 1058.7,598.5 1055.0,597.0 C1051.3,595.5 1050.8,592.8 1050.0,588.0 C1049.2,583.2 1046.7,572.7 1050.0,568.0 Z" fill="#ecd21c"/>
<path d="M1052.0,574.0 C1054.2,570.3 1062.5,570.3 1068.0,570.0 C1073.5,569.7 1080.0,571.0 1085.0,572.0 C1090.0,573.0 1097.2,573.3 1098.0,576.0 C1098.8,578.7 1094.7,585.2 1090.0,588.0 C1085.3,590.8 1075.8,592.3 1070.0,593.0 C1064.2,593.7 1058.0,595.2 1055.0,592.0 C1052.0,588.8 1049.8,577.7 1052.0,574.0 Z" fill="#f6900a"/>
<path d="M1058.0,580.0 C1059.0,578.3 1064.3,577.0 1066.0,578.0 C1067.7,579.0 1069.0,584.3 1068.0,586.0 C1067.0,587.7 1061.7,589.0 1060.0,588.0 C1058.3,587.0 1057.0,581.7 1058.0,580.0 Z" fill="#f41a08"/>
<path d="M1080.0,578.0 C1080.8,576.5 1085.5,576.0 1087.0,577.0 C1088.5,578.0 1089.8,582.5 1089.0,584.0 C1088.2,585.5 1083.5,587.0 1082.0,586.0 C1080.5,585.0 1079.2,579.5 1080.0,578.0 Z" fill="#f41a08"/>
<path d="M1000.0,601.0 C1000.7,599.0 1008.0,599.2 1012.0,600.0 C1016.0,600.8 1022.3,603.7 1024.0,606.0 C1025.7,608.3 1024.7,613.0 1022.0,614.0 C1019.3,615.0 1011.7,614.2 1008.0,612.0 C1004.3,609.8 999.3,603.0 1000.0,601.0 Z" fill="#f6900a"/>
<path d="M1006.0,603.0 C1006.7,601.8 1012.0,601.2 1014.0,602.0 C1016.0,602.8 1018.7,606.8 1018.0,608.0 C1017.3,609.2 1012.0,609.8 1010.0,609.0 C1008.0,608.2 1005.3,604.2 1006.0,603.0 Z" fill="#ecd21c"/>
<path d="M939.3,653.7 C942.9,651.1 946.9,648.8 951.2,647.8 C955.6,646.8 961.9,646.8 965.4,647.8 C968.9,648.8 970.9,650.7 972.5,653.7 C974.1,656.7 972.5,663.4 974.9,665.6 C977.3,667.8 982.8,665.2 986.8,666.8 C990.8,668.4 996.0,671.6 998.6,675.0 C1001.2,678.4 1002.2,682.6 1002.2,687.0 C1002.2,691.4 998.8,696.9 998.6,701.2 C998.4,705.5 1001.0,709.0 1001.0,713.0 C1001.0,717.0 1000.0,721.4 998.6,725.0 C997.2,728.6 995.7,731.9 992.7,734.4 C989.7,736.9 985.8,739.5 980.8,740.3 C975.8,741.1 967.9,740.6 963.0,739.0 C958.1,737.4 955.2,733.1 951.2,730.8 C947.2,728.5 942.7,727.6 939.3,725.0 C935.9,722.4 933.2,719.0 931.0,715.4 C928.8,711.8 927.9,707.9 926.3,703.5 C924.7,699.1 922.1,694.0 921.5,689.3 C920.9,684.5 921.3,679.4 922.7,675.0 C924.1,670.6 927.0,666.8 929.8,663.2 C932.6,659.7 935.7,656.3 939.3,653.7 Z" fill="#409cf0"/>
<path d="M937.0,669.0 C940.4,666.6 946.9,665.6 951.2,665.6 C955.5,665.6 959.0,667.0 963.0,669.0 C967.0,671.0 970.9,675.1 974.9,677.5 C978.9,679.9 983.2,680.2 986.8,683.4 C990.4,686.5 994.5,691.5 996.3,696.4 C998.1,701.3 998.0,707.9 997.4,713.0 C996.8,718.1 995.5,723.7 992.7,727.3 C989.9,730.9 985.8,733.4 980.8,734.4 C975.8,735.4 968.3,734.8 963.0,733.2 C957.7,731.6 953.1,728.4 948.8,725.0 C944.5,721.6 940.2,717.8 937.0,713.0 C933.8,708.2 930.8,701.9 929.8,696.4 C928.8,690.9 929.8,684.4 931.0,679.8 C932.2,675.2 933.6,671.4 937.0,669.0 Z" fill="#64e6e8"/>
<path d="M956.0,685.8 C959.2,683.4 966.1,680.4 970.2,682.2 C974.3,684.0 977.0,691.6 980.8,696.4 C984.5,701.1 990.1,706.7 992.7,710.7 C995.3,714.7 997.3,717.8 996.3,720.2 C995.3,722.6 990.4,724.6 986.8,725.0 C983.2,725.4 978.9,723.7 974.9,722.5 C970.9,721.3 966.1,720.6 963.0,717.8 C959.9,715.0 958.0,709.5 956.0,705.9 C954.0,702.3 951.2,699.8 951.2,696.4 C951.2,693.0 952.8,688.2 956.0,685.8 Z" fill="#6cf63e"/>
<g filter="url(#d28a)"><path d="M760.0,595.0 C762.5,591.3 769.7,588.5 775.0,588.0 C780.3,587.5 789.8,588.0 792.0,592.0 C794.2,596.0 791.7,607.3 788.0,612.0 C784.3,616.7 774.7,620.3 770.0,620.0 C765.3,619.7 761.7,614.2 760.0,610.0 C758.3,605.8 757.5,598.7 760.0,595.0 Z" fill="#409cf0"/></g><g filter="url(#d28b)"><path d="M760.0,595.0 C762.5,591.3 769.7,588.5 775.0,588.0 C780.3,587.5 789.8,588.0 792.0,592.0 C794.2,596.0 791.7,607.3 788.0,612.0 C784.3,616.7 774.7,620.3 770.0,620.0 C765.3,619.7 761.7,614.2 760.0,610.0 C758.3,605.8 757.5,598.7 760.0,595.0 Z" fill="#64e6e8"/></g>
<g filter="url(#d28a)"><path d="M790.0,630.0 C791.2,627.5 800.2,627.5 805.0,628.0 C809.8,628.5 817.3,630.7 819.0,633.0 C820.7,635.3 818.5,640.3 815.0,642.0 C811.5,643.7 802.2,645.0 798.0,643.0 C793.8,641.0 788.8,632.5 790.0,630.0 Z" fill="#409cf0"/></g><g filter="url(#d28b)"><path d="M790.0,630.0 C791.2,627.5 800.2,627.5 805.0,628.0 C809.8,628.5 817.3,630.7 819.0,633.0 C820.7,635.3 818.5,640.3 815.0,642.0 C811.5,643.7 802.2,645.0 798.0,643.0 C793.8,641.0 788.8,632.5 790.0,630.0 Z" fill="#64e6e8"/></g>
<g filter="url(#d55a)"><path d="M780.0,580.0 C777.9,578.9 790.6,586.9 796.2,587.4 C801.8,587.9 807.6,584.5 813.4,583.0 C819.1,581.5 824.2,579.8 830.7,578.7 C837.2,577.6 845.0,576.6 852.2,576.6 C859.4,576.6 866.5,579.4 873.7,578.7 C880.9,578.0 888.0,573.7 895.2,572.3 C902.4,570.9 909.3,570.1 916.8,570.1 C924.3,570.1 936.1,566.5 940.0,572.3 C943.9,578.0 943.9,599.6 940.0,604.6 C936.1,609.6 924.3,603.8 916.8,602.4 C909.3,601.0 902.4,597.4 895.2,596.0 C888.0,594.6 880.9,593.4 873.7,593.8 C866.5,594.1 859.4,597.0 852.2,598.1 C845.0,599.2 837.9,601.0 830.7,600.3 C823.5,599.6 817.6,597.2 809.1,593.8 C800.6,590.4 782.1,581.1 780.0,580.0 Z" fill="#409cf0"/></g><g filter="url(#d55b)"><path d="M780.0,580.0 C777.9,578.9 790.6,586.9 796.2,587.4 C801.8,587.9 807.6,584.5 813.4,583.0 C819.1,581.5 824.2,579.8 830.7,578.7 C837.2,577.6 845.0,576.6 852.2,576.6 C859.4,576.6 866.5,579.4 873.7,578.7 C880.9,578.0 888.0,573.7 895.2,572.3 C902.4,570.9 909.3,570.1 916.8,570.1 C924.3,570.1 936.1,566.5 940.0,572.3 C943.9,578.0 943.9,599.6 940.0,604.6 C936.1,609.6 924.3,603.8 916.8,602.4 C909.3,601.0 902.4,597.4 895.2,596.0 C888.0,594.6 880.9,593.4 873.7,593.8 C866.5,594.1 859.4,597.0 852.2,598.1 C845.0,599.2 837.9,601.0 830.7,600.3 C823.5,599.6 817.6,597.2 809.1,593.8 C800.6,590.4 782.1,581.1 780.0,580.0 Z" fill="#64e6e8"/></g>
<path d="M786.0,584.0 C782.7,583.0 802.7,588.2 810.0,588.0 C817.3,587.8 823.0,584.2 830.0,583.0 C837.0,581.8 844.7,581.0 852.0,581.0 C859.3,581.0 866.7,583.7 874.0,583.0 C881.3,582.3 888.7,578.3 896.0,577.0 C903.3,575.7 911.3,574.8 918.0,575.0 C924.7,575.2 933.0,574.5 936.0,578.0 C939.0,581.5 939.0,593.0 936.0,596.0 C933.0,599.0 924.7,597.0 918.0,596.0 C911.3,595.0 903.3,591.3 896.0,590.0 C888.7,588.7 881.3,587.7 874.0,588.0 C866.7,588.3 859.3,591.0 852.0,592.0 C844.7,593.0 841.0,595.3 830.0,594.0 C819.0,592.7 789.3,585.0 786.0,584.0 Z" fill="#3ccc30"/>
<path d="M893.0,592.0 C894.5,589.7 900.5,588.5 905.0,588.0 C909.5,587.5 915.5,588.2 920.0,589.0 C924.5,589.8 930.7,590.7 932.0,593.0 C933.3,595.3 931.7,600.8 928.0,603.0 C924.3,605.2 915.3,606.2 910.0,606.0 C904.7,605.8 898.8,604.3 896.0,602.0 C893.2,599.7 891.5,594.3 893.0,592.0 Z" fill="#ecd21c"/>
<path d="M912.0,592.0 C912.8,590.7 918.0,590.2 920.0,591.0 C922.0,591.8 924.8,595.7 924.0,597.0 C923.2,598.3 917.0,599.8 915.0,599.0 C913.0,598.2 911.2,593.3 912.0,592.0 Z" fill="#f6900a"/>
<path d="M936.0,625.0 C937.3,622.3 943.7,621.3 948.0,621.0 C952.3,620.7 959.2,621.2 962.0,623.0 C964.8,624.8 966.2,629.5 965.0,632.0 C963.8,634.5 959.2,637.2 955.0,638.0 C950.8,638.8 943.2,639.2 940.0,637.0 C936.8,634.8 934.7,627.7 936.0,625.0 Z" fill="#3ccc30" fill-opacity="0.75"/>
<g filter="url(#d28a)"><path d="M896.0,629.0 C897.3,627.2 905.5,626.8 910.0,627.0 C914.5,627.2 921.3,628.2 923.0,630.0 C924.7,631.8 923.5,636.7 920.0,638.0 C916.5,639.3 906.0,639.5 902.0,638.0 C898.0,636.5 894.7,630.8 896.0,629.0 Z" fill="#409cf0"/></g><g filter="url(#d28b)"><path d="M896.0,629.0 C897.3,627.2 905.5,626.8 910.0,627.0 C914.5,627.2 921.3,628.2 923.0,630.0 C924.7,631.8 923.5,636.7 920.0,638.0 C916.5,639.3 906.0,639.5 902.0,638.0 C898.0,636.5 894.7,630.8 896.0,629.0 Z" fill="#64e6e8"/></g>
<path d="M870.0,584.0 C871.0,582.7 877.7,581.0 880.0,582.0 C882.3,583.0 885.0,588.7 884.0,590.0 C883.0,591.3 876.3,591.0 874.0,590.0 C871.7,589.0 869.0,585.3 870.0,584.0 Z" fill="#ecd21c"/>
<g filter="url(#d55a)"><path d="M701.5,561.5 C705.1,559.4 715.8,558.7 723.0,559.4 C730.2,560.1 737.4,564.7 744.6,565.8 C751.8,566.9 759.5,564.7 766.0,565.8 C772.5,566.9 779.0,569.4 783.3,572.3 C787.6,575.2 793.1,581.2 792.0,583.0 C790.9,584.8 783.0,583.7 776.9,583.0 C770.8,582.3 762.5,579.4 755.3,578.7 C748.1,578.0 741.0,578.7 733.8,578.7 C726.6,578.7 717.7,579.8 712.3,578.7 C706.9,577.6 703.3,575.2 701.5,572.3 C699.7,569.4 697.9,563.6 701.5,561.5 Z" fill="#409cf0"/></g><g filter="url(#d55b)"><path d="M701.5,561.5 C705.1,559.4 715.8,558.7 723.0,559.4 C730.2,560.1 737.4,564.7 744.6,565.8 C751.8,566.9 759.5,564.7 766.0,565.8 C772.5,566.9 779.0,569.4 783.3,572.3 C787.6,575.2 793.1,581.2 792.0,583.0 C790.9,584.8 783.0,583.7 776.9,583.0 C770.8,582.3 762.5,579.4 755.3,578.7 C748.1,578.0 741.0,578.7 733.8,578.7 C726.6,578.7 717.7,579.8 712.3,578.7 C706.9,577.6 703.3,575.2 701.5,572.3 C699.7,569.4 697.9,563.6 701.5,561.5 Z" fill="#64e6e8"/></g>
<path d="M706.0,565.0 C708.3,563.3 717.7,563.3 724.0,564.0 C730.3,564.7 737.0,568.0 744.0,569.0 C751.0,570.0 759.7,568.8 766.0,570.0 C772.3,571.2 781.3,574.3 782.0,576.0 C782.7,577.7 775.3,580.0 770.0,580.0 C764.7,580.0 756.7,576.8 750.0,576.0 C743.3,575.2 736.7,575.3 730.0,575.0 C723.3,574.7 714.0,575.7 710.0,574.0 C706.0,572.3 703.7,566.7 706.0,565.0 Z" fill="#3ccc30"/>
<g filter="url(#d55a)"><path d="M701.5,626.0 C705.1,625.3 715.8,630.4 723.0,630.4 C730.2,630.4 737.4,627.8 744.6,626.0 C751.8,624.2 761.7,618.9 766.0,619.6 C770.3,620.3 772.2,627.2 770.4,630.4 C768.6,633.6 761.4,637.6 755.3,639.0 C749.2,640.4 741.0,638.6 733.8,639.0 C726.6,639.4 717.7,641.9 712.3,641.2 C706.9,640.5 703.3,637.2 701.5,634.7 C699.7,632.2 697.9,626.7 701.5,626.0 Z" fill="#409cf0"/></g><g filter="url(#d55b)"><path d="M701.5,626.0 C705.1,625.3 715.8,630.4 723.0,630.4 C730.2,630.4 737.4,627.8 744.6,626.0 C751.8,624.2 761.7,618.9 766.0,619.6 C770.3,620.3 772.2,627.2 770.4,630.4 C768.6,633.6 761.4,637.6 755.3,639.0 C749.2,640.4 741.0,638.6 733.8,639.0 C726.6,639.4 717.7,641.9 712.3,641.2 C706.9,640.5 703.3,637.2 701.5,634.7 C699.7,632.2 697.9,626.7 701.5,626.0 Z" fill="#64e6e8"/></g>
<path d="M706.0,630.0 C708.7,629.5 717.7,633.2 724.0,633.0 C730.3,632.8 737.7,630.5 744.0,629.0 C750.3,627.5 759.3,623.5 762.0,624.0 C764.7,624.5 763.0,630.0 760.0,632.0 C757.0,634.0 750.0,635.2 744.0,636.0 C738.0,636.8 730.0,637.0 724.0,637.0 C718.0,637.0 711.0,637.2 708.0,636.0 C705.0,634.8 703.3,630.5 706.0,630.0 Z" fill="#6cf63e"/>
<g filter="url(#d28a)"><path d="M808.0,640.0 C811.3,636.3 822.0,633.3 830.0,632.0 C838.0,630.7 850.0,629.0 856.0,632.0 C862.0,635.0 867.0,645.0 866.0,650.0 C865.0,655.0 856.7,660.3 850.0,662.0 C843.3,663.7 832.7,661.3 826.0,660.0 C819.3,658.7 813.0,657.3 810.0,654.0 C807.0,650.7 804.7,643.7 808.0,640.0 Z" fill="#409cf0"/></g><g filter="url(#d28b)"><path d="M808.0,640.0 C811.3,636.3 822.0,633.3 830.0,632.0 C838.0,630.7 850.0,629.0 856.0,632.0 C862.0,635.0 867.0,645.0 866.0,650.0 C865.0,655.0 856.7,660.3 850.0,662.0 C843.3,663.7 832.7,661.3 826.0,660.0 C819.3,658.7 813.0,657.3 810.0,654.0 C807.0,650.7 804.7,643.7 808.0,640.0 Z" fill="#64e6e8"/></g>
<path d="M838.0,648.0 C839.3,646.0 846.0,644.3 850.0,644.0 C854.0,643.7 861.0,644.3 862.0,646.0 C863.0,647.7 859.3,652.3 856.0,654.0 C852.7,655.7 845.0,657.0 842.0,656.0 C839.0,655.0 836.7,650.0 838.0,648.0 Z" fill="#ecd21c"/>
<path d="M742.4,707.9 C743.1,702.9 745.7,694.7 748.9,690.7 C752.1,686.8 756.8,684.9 761.8,684.2 C766.8,683.5 774.0,685.3 779.0,686.4 C784.0,687.5 788.4,692.1 792.0,690.7 C795.6,689.3 796.2,680.3 800.5,677.8 C804.8,675.3 812.0,674.9 817.8,675.6 C823.5,676.3 829.3,681.6 835.0,682.0 C840.7,682.4 846.8,679.2 852.2,677.8 C857.6,676.4 864.1,672.7 867.3,673.4 C870.5,674.1 872.0,678.4 871.6,682.0 C871.2,685.6 866.5,690.0 865.1,695.0 C863.7,700.0 861.6,706.8 863.0,712.2 C864.4,717.6 868.3,723.7 873.7,727.3 C879.1,730.9 888.0,731.2 895.2,733.7 C902.4,736.2 911.4,738.7 916.8,742.3 C922.2,745.9 923.6,751.2 927.5,755.2 C931.4,759.2 937.9,758.5 940.0,766.0 C942.1,773.5 951.0,794.3 940.0,800.0 C929.0,805.7 888.3,801.0 873.7,800.0 C859.1,799.0 859.4,796.4 852.2,794.0 C845.0,791.6 836.4,788.3 830.7,785.4 C825.0,782.5 822.8,780.4 817.8,776.8 C812.8,773.2 804.8,766.3 800.5,763.8 C796.2,761.3 795.2,764.6 792.0,761.7 C788.8,758.8 784.8,751.3 781.2,746.6 C777.6,741.9 773.6,737.3 770.4,733.7 C767.2,730.1 766.1,727.2 761.8,725.1 C757.5,723.0 747.8,723.7 744.6,720.8 C741.4,717.9 741.7,712.9 742.4,707.9 Z" fill="#6cf63e"/>
<path d="M783.3,710.0 C785.4,707.1 794.8,712.6 800.5,712.2 C806.2,711.9 812.0,707.2 817.8,707.9 C823.5,708.6 829.3,713.6 835.0,716.5 C840.7,719.4 847.2,722.2 852.2,725.1 C857.2,728.0 864.3,730.1 865.0,733.7 C865.7,737.3 860.1,743.0 856.5,746.6 C852.9,750.2 847.9,751.6 843.6,755.2 C839.3,758.8 835.0,766.4 830.7,768.2 C826.4,770.0 821.8,768.2 817.8,766.0 C813.8,763.8 810.6,759.5 807.0,755.2 C803.4,750.9 799.4,744.5 796.2,740.2 C793.0,735.9 789.8,734.4 787.6,729.4 C785.5,724.4 781.1,712.9 783.3,710.0 Z" fill="#3ccc30"/>
<path d="M880.0,750.0 C883.7,746.7 894.3,745.0 900.0,746.0 C905.7,747.0 911.3,751.3 914.0,756.0 C916.7,760.7 917.7,769.3 916.0,774.0 C914.3,778.7 909.0,783.0 904.0,784.0 C899.0,785.0 890.3,783.0 886.0,780.0 C881.7,777.0 879.0,771.0 878.0,766.0 C877.0,761.0 876.3,753.3 880.0,750.0 Z" fill="#f1f1f1" fill-opacity="0.7"/>
<path d="M846.0,732.0 C848.0,729.3 853.3,728.3 856.0,730.0 C858.7,731.7 861.3,737.7 862.0,742.0 C862.7,746.3 862.0,753.3 860.0,756.0 C858.0,758.7 852.7,759.7 850.0,758.0 C847.3,756.3 844.7,750.3 844.0,746.0 C843.3,741.7 844.0,734.7 846.0,732.0 Z" fill="#f1f1f1" fill-opacity="0.7"/>
<g filter="url(#d28a)"><path d="M712.0,684.0 C714.7,680.0 724.3,679.0 730.0,680.0 C735.7,681.0 743.0,685.3 746.0,690.0 C749.0,694.7 750.7,704.3 748.0,708.0 C745.3,711.7 735.7,712.7 730.0,712.0 C724.3,711.3 717.0,708.7 714.0,704.0 C711.0,699.3 709.3,688.0 712.0,684.0 Z" fill="#409cf0"/></g><g filter="url(#d28b)"><path d="M712.0,684.0 C714.7,680.0 724.3,679.0 730.0,680.0 C735.7,681.0 743.0,685.3 746.0,690.0 C749.0,694.7 750.7,704.3 748.0,708.0 C745.3,711.7 735.7,712.7 730.0,712.0 C724.3,711.3 717.0,708.7 714.0,704.0 C711.0,699.3 709.3,688.0 712.0,684.0 Z" fill="#64e6e8"/></g>
<g filter="url(#d28a)"><path d="M716.0,652.0 C719.3,649.7 730.7,648.7 736.0,650.0 C741.3,651.3 746.7,656.3 748.0,660.0 C749.3,663.7 747.7,670.0 744.0,672.0 C740.3,674.0 730.7,673.3 726.0,672.0 C721.3,670.7 717.7,667.3 716.0,664.0 C714.3,660.7 712.7,654.3 716.0,652.0 Z" fill="#409cf0"/></g><g filter="url(#d28b)"><path d="M716.0,652.0 C719.3,649.7 730.7,648.7 736.0,650.0 C741.3,651.3 746.7,656.3 748.0,660.0 C749.3,663.7 747.7,670.0 744.0,672.0 C740.3,674.0 730.7,673.3 726.0,672.0 C721.3,670.7 717.7,667.3 716.0,664.0 C714.3,660.7 712.7,654.3 716.0,652.0 Z" fill="#64e6e8"/></g>
<g filter="url(#d55a)"><path d="M638.7,725.4 C640.0,721.9 643.6,716.7 646.7,714.7 C649.8,712.7 653.4,713.2 657.4,713.4 C661.4,713.6 668.0,714.2 670.7,716.0 C673.4,717.8 674.3,721.5 673.4,724.0 C672.5,726.5 667.2,728.0 665.4,730.7 C663.6,733.4 664.5,737.8 662.7,740.0 C660.9,742.2 657.6,743.8 654.7,744.0 C651.8,744.2 648.1,742.7 645.4,741.4 C642.7,740.1 639.8,738.7 638.7,736.0 C637.6,733.3 637.4,728.9 638.7,725.4 Z" fill="#409cf0"/></g><g filter="url(#d55b)"><path d="M638.7,725.4 C640.0,721.9 643.6,716.7 646.7,714.7 C649.8,712.7 653.4,713.2 657.4,713.4 C661.4,713.6 668.0,714.2 670.7,716.0 C673.4,717.8 674.3,721.5 673.4,724.0 C672.5,726.5 667.2,728.0 665.4,730.7 C663.6,733.4 664.5,737.8 662.7,740.0 C660.9,742.2 657.6,743.8 654.7,744.0 C651.8,744.2 648.1,742.7 645.4,741.4 C642.7,740.1 639.8,738.7 638.7,736.0 C637.6,733.3 637.4,728.9 638.7,725.4 Z" fill="#64e6e8"/></g>
<path d="M640.0,728.0 C640.7,725.0 645.3,721.0 648.0,720.0 C650.7,719.0 654.0,720.0 656.0,722.0 C658.0,724.0 660.7,729.0 660.0,732.0 C659.3,735.0 654.7,739.0 652.0,740.0 C649.3,741.0 646.0,740.0 644.0,738.0 C642.0,736.0 639.3,731.0 640.0,728.0 Z" fill="#3ccc30"/>
<path d="M641.0,728.0 C641.3,725.8 646.2,723.3 648.0,724.0 C649.8,724.7 652.3,729.8 652.0,732.0 C651.7,734.2 647.8,737.7 646.0,737.0 C644.2,736.3 640.7,730.2 641.0,728.0 Z" fill="#ecd21c"/>
<path d="M610.7,730.7 C611.1,728.9 616.9,724.7 620.0,721.4 C623.1,718.1 626.7,712.9 629.4,710.7 C632.1,708.5 635.1,707.3 636.0,708.0 C636.9,708.7 636.2,711.8 634.7,714.7 C633.2,717.6 629.6,722.5 626.7,725.4 C623.8,728.3 620.1,731.1 617.4,732.0 C614.7,732.9 610.3,732.5 610.7,730.7 Z" fill="#3ccc30"/>
<g filter="url(#d28a)"><path d="M716.0,686.0 C718.0,682.3 726.3,682.3 730.0,684.0 C733.7,685.7 737.7,692.0 738.0,696.0 C738.3,700.0 735.3,706.3 732.0,708.0 C728.7,709.7 720.7,709.7 718.0,706.0 C715.3,702.3 714.0,689.7 716.0,686.0 Z" fill="#409cf0"/></g><g filter="url(#d28b)"><path d="M716.0,686.0 C718.0,682.3 726.3,682.3 730.0,684.0 C733.7,685.7 737.7,692.0 738.0,696.0 C738.3,700.0 735.3,706.3 732.0,708.0 C728.7,709.7 720.7,709.7 718.0,706.0 C715.3,702.3 714.0,689.7 716.0,686.0 Z" fill="#64e6e8"/></g>
<g filter="url(#d28a)"><path d="M686.0,676.0 C687.3,673.3 695.7,672.3 698.0,674.0 C700.3,675.7 701.3,683.3 700.0,686.0 C698.7,688.7 692.3,691.7 690.0,690.0 C687.7,688.3 684.7,678.7 686.0,676.0 Z" fill="#409cf0"/></g><g filter="url(#d28b)"><path d="M686.0,676.0 C687.3,673.3 695.7,672.3 698.0,674.0 C700.3,675.7 701.3,683.3 700.0,686.0 C698.7,688.7 692.3,691.7 690.0,690.0 C687.7,688.3 684.7,678.7 686.0,676.0 Z" fill="#64e6e8"/></g>
<g filter="url(#d28a)"><path d="M636.0,650.0 C637.0,646.7 646.7,647.0 652.0,648.0 C657.3,649.0 666.0,652.7 668.0,656.0 C670.0,659.3 667.7,666.0 664.0,668.0 C660.3,670.0 650.7,671.0 646.0,668.0 C641.3,665.0 635.0,653.3 636.0,650.0 Z" fill="#409cf0"/></g><g filter="url(#d28b)"><path d="M636.0,650.0 C637.0,646.7 646.7,647.0 652.0,648.0 C657.3,649.0 666.0,652.7 668.0,656.0 C670.0,659.3 667.7,666.0 664.0,668.0 C660.3,670.0 650.7,671.0 646.0,668.0 C641.3,665.0 635.0,653.3 636.0,650.0 Z" fill="#64e6e8"/></g>
<g filter="url(#d55a)"><path d="M506.7,614.6 C509.0,611.9 515.1,608.7 519.0,609.3 C522.9,609.9 526.5,614.4 529.8,618.2 C533.1,622.1 535.8,628.3 538.8,632.4 C541.8,636.5 547.0,640.0 547.6,643.0 C548.2,646.0 546.1,648.7 542.3,650.2 C538.4,651.7 529.2,652.0 524.5,652.0 C519.8,652.0 516.5,652.9 513.8,650.2 C511.1,647.5 510.0,640.1 508.5,636.0 C507.0,631.9 505.3,628.9 505.0,625.3 C504.7,621.7 504.4,617.3 506.7,614.6 Z" fill="#409cf0"/></g><g filter="url(#d55b)"><path d="M506.7,614.6 C509.0,611.9 515.1,608.7 519.0,609.3 C522.9,609.9 526.5,614.4 529.8,618.2 C533.1,622.1 535.8,628.3 538.8,632.4 C541.8,636.5 547.0,640.0 547.6,643.0 C548.2,646.0 546.1,648.7 542.3,650.2 C538.4,651.7 529.2,652.0 524.5,652.0 C519.8,652.0 516.5,652.9 513.8,650.2 C511.1,647.5 510.0,640.1 508.5,636.0 C507.0,631.9 505.3,628.9 505.0,625.3 C504.7,621.7 504.4,617.3 506.7,614.6 Z" fill="#64e6e8"/></g>
<path d="M512.0,630.0 C513.0,626.0 518.3,623.3 522.0,624.0 C525.7,624.7 531.0,630.7 534.0,634.0 C537.0,637.3 541.0,641.3 540.0,644.0 C539.0,646.7 532.0,649.3 528.0,650.0 C524.0,650.7 518.7,651.3 516.0,648.0 C513.3,644.7 511.0,634.0 512.0,630.0 Z" fill="#3ccc30"/>
<g filter="url(#d55a)"><path d="M667.0,539.8 C668.2,535.6 672.0,527.7 675.8,525.6 C679.6,523.5 685.5,525.9 690.0,527.4 C694.5,528.9 698.9,532.1 702.5,534.5 C706.1,536.9 710.8,538.9 711.4,541.6 C712.0,544.3 709.0,548.4 706.0,550.5 C703.0,552.6 698.0,553.7 693.6,554.0 C689.2,554.3 683.5,552.9 679.4,552.3 C675.2,551.7 670.8,552.6 668.7,550.5 C666.6,548.4 665.8,543.9 667.0,539.8 Z" fill="#409cf0"/></g><g filter="url(#d55b)"><path d="M667.0,539.8 C668.2,535.6 672.0,527.7 675.8,525.6 C679.6,523.5 685.5,525.9 690.0,527.4 C694.5,528.9 698.9,532.1 702.5,534.5 C706.1,536.9 710.8,538.9 711.4,541.6 C712.0,544.3 709.0,548.4 706.0,550.5 C703.0,552.6 698.0,553.7 693.6,554.0 C689.2,554.3 683.5,552.9 679.4,552.3 C675.2,551.7 670.8,552.6 668.7,550.5 C666.6,548.4 665.8,543.9 667.0,539.8 Z" fill="#64e6e8"/></g>
<path d="M680.0,532.0 C681.7,530.3 688.7,529.0 692.0,530.0 C695.3,531.0 700.0,535.7 700.0,538.0 C700.0,540.3 695.0,543.7 692.0,544.0 C689.0,544.3 684.0,542.0 682.0,540.0 C680.0,538.0 678.3,533.7 680.0,532.0 Z" fill="#6cf63e"/>
<g filter="url(#d55a)"><path d="M601.0,501.0 C602.7,499.7 610.8,499.0 613.0,500.0 C615.2,501.0 615.7,505.7 614.0,507.0 C612.3,508.3 605.2,509.0 603.0,508.0 C600.8,507.0 599.3,502.3 601.0,501.0 Z" fill="#409cf0"/></g><g filter="url(#d55b)"><path d="M601.0,501.0 C602.7,499.7 610.8,499.0 613.0,500.0 C615.2,501.0 615.7,505.7 614.0,507.0 C612.3,508.3 605.2,509.0 603.0,508.0 C600.8,507.0 599.3,502.3 601.0,501.0 Z" fill="#64e6e8"/></g>
<g filter="url(#d28a)"><path d="M488.0,846.0 C490.0,843.3 495.2,846.3 498.0,850.0 C500.8,853.7 504.7,861.7 505.0,868.0 C505.3,874.3 502.5,885.0 500.0,888.0 C497.5,891.0 492.3,889.7 490.0,886.0 C487.7,882.3 486.3,872.7 486.0,866.0 C485.7,859.3 486.0,848.7 488.0,846.0 Z" fill="#409cf0"/></g><g filter="url(#d28b)"><path d="M488.0,846.0 C490.0,843.3 495.2,846.3 498.0,850.0 C500.8,853.7 504.7,861.7 505.0,868.0 C505.3,874.3 502.5,885.0 500.0,888.0 C497.5,891.0 492.3,889.7 490.0,886.0 C487.7,882.3 486.3,872.7 486.0,866.0 C485.7,859.3 486.0,848.7 488.0,846.0 Z" fill="#64e6e8"/></g>
<path d="M492.0,874.0 C492.7,872.0 496.7,870.7 498.0,872.0 C499.3,873.3 500.7,880.0 500.0,882.0 C499.3,884.0 495.3,885.3 494.0,884.0 C492.7,882.7 491.3,876.0 492.0,874.0 Z" fill="#6cf63e"/>
<path d="M604.0,1012.0 C605.0,1010.0 611.7,1007.7 614.0,1008.0 C616.3,1008.3 619.0,1012.0 618.0,1014.0 C617.0,1016.0 610.3,1020.3 608.0,1020.0 C605.7,1019.7 603.0,1014.0 604.0,1012.0 Z" fill="#6cf63e"/>
<path d="M622.0,1008.0 C623.3,1006.3 631.7,1003.7 634.0,1004.0 C636.3,1004.3 637.3,1008.3 636.0,1010.0 C634.7,1011.7 628.3,1014.3 626.0,1014.0 C623.7,1013.7 620.7,1009.7 622.0,1008.0 Z" fill="#6cf63e"/>
<g filter="url(#d28a)"><path d="M318.0,710.0 C319.7,707.3 327.7,706.0 330.0,708.0 C332.3,710.0 333.7,719.3 332.0,722.0 C330.3,724.7 322.3,726.0 320.0,724.0 C317.7,722.0 316.3,712.7 318.0,710.0 Z" fill="#409cf0"/></g><g filter="url(#d28b)"><path d="M318.0,710.0 C319.7,707.3 327.7,706.0 330.0,708.0 C332.3,710.0 333.7,719.3 332.0,722.0 C330.3,724.7 322.3,726.0 320.0,724.0 C317.7,722.0 316.3,712.7 318.0,710.0 Z" fill="#64e6e8"/></g>
<path d="M727.7,936.8 C729.4,932.2 732.4,929.8 735.9,925.4 C739.4,921.0 744.0,913.7 748.9,910.7 C753.8,907.7 761.9,910.1 765.2,907.4 C768.5,904.7 767.7,899.3 768.5,894.4 C769.3,889.5 767.9,882.9 770.1,878.0 C772.3,873.1 776.9,868.0 781.5,865.0 C786.1,862.0 792.3,860.0 797.8,860.0 C803.2,860.0 809.8,865.2 814.2,865.0 C818.6,864.8 820.8,860.1 824.0,858.5 C827.2,856.9 829.9,854.1 833.7,855.2 C837.5,856.3 843.0,860.6 846.8,865.0 C850.6,869.4 855.2,877.0 856.6,881.3 C858.0,885.6 857.5,888.8 855.0,891.0 C852.5,893.2 844.6,892.2 841.9,894.4 C839.2,896.6 840.0,900.4 838.6,904.2 C837.2,908.0 834.2,912.6 833.7,917.2 C833.2,921.8 837.0,927.5 835.4,931.9 C833.8,936.2 827.5,939.8 824.0,943.3 C820.5,946.8 816.4,949.7 814.2,953.0 C812.0,956.3 813.6,960.2 810.9,962.9 C808.2,965.6 802.7,967.5 797.8,969.4 C792.9,971.3 786.9,972.9 781.5,974.3 C776.1,975.6 770.6,976.7 765.2,977.5 C759.8,978.3 754.3,978.9 748.9,979.2 C743.5,979.5 736.4,980.8 732.6,979.2 C728.8,977.6 727.1,973.8 726.0,969.4 C724.9,965.0 725.7,958.4 726.0,953.0 C726.3,947.6 726.1,941.4 727.7,936.8 Z" fill="#6cf63e"/>
<g filter="url(#d28a)"><path d="M721.0,891.0 C722.0,888.0 728.5,888.2 732.0,889.0 C735.5,889.8 740.7,893.0 742.0,896.0 C743.3,899.0 742.7,905.2 740.0,907.0 C737.3,908.8 729.2,909.7 726.0,907.0 C722.8,904.3 720.0,894.0 721.0,891.0 Z" fill="#409cf0"/></g><g filter="url(#d28b)"><path d="M721.0,891.0 C722.0,888.0 728.5,888.2 732.0,889.0 C735.5,889.8 740.7,893.0 742.0,896.0 C743.3,899.0 742.7,905.2 740.0,907.0 C737.3,908.8 729.2,909.7 726.0,907.0 C722.8,904.3 720.0,894.0 721.0,891.0 Z" fill="#64e6e8"/></g>
<g filter="url(#d28a)"><path d="M724.0,852.0 C726.0,848.3 737.3,848.7 744.0,850.0 C750.7,851.3 760.0,855.8 764.0,860.0 C768.0,864.2 770.3,872.0 768.0,875.0 C765.7,878.0 756.0,878.5 750.0,878.0 C744.0,877.5 736.3,876.3 732.0,872.0 C727.7,867.7 722.0,855.7 724.0,852.0 Z" fill="#409cf0"/></g><g filter="url(#d28b)"><path d="M724.0,852.0 C726.0,848.3 737.3,848.7 744.0,850.0 C750.7,851.3 760.0,855.8 764.0,860.0 C768.0,864.2 770.3,872.0 768.0,875.0 C765.7,878.0 756.0,878.5 750.0,878.0 C744.0,877.5 736.3,876.3 732.0,872.0 C727.7,867.7 722.0,855.7 724.0,852.0 Z" fill="#64e6e8"/></g>
<path d="M850.0,829.0 C852.7,825.7 858.1,823.1 863.0,822.6 C867.9,822.1 875.3,823.2 879.4,825.9 C883.5,828.6 885.9,834.6 887.5,839.0 C889.1,843.4 890.0,847.7 889.2,852.0 C888.4,856.3 884.3,861.2 882.7,865.0 C881.1,868.8 881.3,874.5 879.4,874.8 C877.5,875.1 873.9,869.3 871.2,866.6 C868.5,863.9 866.0,860.9 863.0,858.5 C860.0,856.1 856.0,854.7 853.3,852.0 C850.6,849.3 847.3,846.0 846.8,842.2 C846.2,838.4 847.3,832.3 850.0,829.0 Z" fill="#6cf63e"/>
<path d="M880.0,790.0 C886.3,788.7 913.3,787.8 920.0,790.0 C926.7,792.2 924.0,800.7 920.0,803.0 C916.0,805.3 902.3,804.8 896.0,804.0 C889.7,803.2 884.7,800.3 882.0,798.0 C879.3,795.7 873.7,791.3 880.0,790.0 Z" fill="#6cf63e"/>
<g filter="url(#d28a)"><path d="M1085.0,798.0 C1088.0,794.8 1095.2,798.0 1096.0,803.0 C1096.8,808.0 1092.7,820.5 1090.0,828.0 C1087.3,835.5 1084.3,841.3 1080.0,848.0 C1075.7,854.7 1069.0,862.3 1064.0,868.0 C1059.0,873.7 1054.3,880.0 1050.0,882.0 C1045.7,884.0 1037.7,883.3 1038.0,880.0 C1038.3,876.7 1047.0,868.3 1052.0,862.0 C1057.0,855.7 1063.7,848.7 1068.0,842.0 C1072.3,835.3 1075.2,829.3 1078.0,822.0 C1080.8,814.7 1082.0,801.2 1085.0,798.0 Z" fill="#409cf0"/></g><g filter="url(#d28b)"><path d="M1085.0,798.0 C1088.0,794.8 1095.2,798.0 1096.0,803.0 C1096.8,808.0 1092.7,820.5 1090.0,828.0 C1087.3,835.5 1084.3,841.3 1080.0,848.0 C1075.7,854.7 1069.0,862.3 1064.0,868.0 C1059.0,873.7 1054.3,880.0 1050.0,882.0 C1045.7,884.0 1037.7,883.3 1038.0,880.0 C1038.3,876.7 1047.0,868.3 1052.0,862.0 C1057.0,855.7 1063.7,848.7 1068.0,842.0 C1072.3,835.3 1075.2,829.3 1078.0,822.0 C1080.8,814.7 1082.0,801.2 1085.0,798.0 Z" fill="#64e6e8"/></g>
<g filter="url(#d28a)"><path d="M995.8,803.0 C997.4,799.0 1002.2,796.1 1006.4,793.5 C1010.5,790.9 1016.0,788.0 1020.7,787.6 C1025.5,787.2 1030.6,788.0 1034.9,791.2 C1039.2,794.4 1045.8,802.6 1046.8,806.6 C1047.8,810.6 1044.8,812.8 1040.8,815.0 C1036.8,817.2 1028.7,818.2 1023.0,819.6 C1017.3,821.0 1010.7,823.6 1006.4,823.2 C1002.1,822.8 998.8,820.7 997.0,817.3 C995.2,813.9 994.2,807.0 995.8,803.0 Z" fill="#409cf0"/></g><g filter="url(#d28b)"><path d="M995.8,803.0 C997.4,799.0 1002.2,796.1 1006.4,793.5 C1010.5,790.9 1016.0,788.0 1020.7,787.6 C1025.5,787.2 1030.6,788.0 1034.9,791.2 C1039.2,794.4 1045.8,802.6 1046.8,806.6 C1047.8,810.6 1044.8,812.8 1040.8,815.0 C1036.8,817.2 1028.7,818.2 1023.0,819.6 C1017.3,821.0 1010.7,823.6 1006.4,823.2 C1002.1,822.8 998.8,820.7 997.0,817.3 C995.2,813.9 994.2,807.0 995.8,803.0 Z" fill="#64e6e8"/></g>
<g filter="url(#d28a)"><path d="M940.0,770.0 C942.7,763.7 954.0,764.7 958.0,768.0 C962.0,771.3 964.3,783.3 964.0,790.0 C963.7,796.7 959.7,805.3 956.0,808.0 C952.3,810.7 944.7,812.3 942.0,806.0 C939.3,799.7 937.3,776.3 940.0,770.0 Z" fill="#409cf0"/></g><g filter="url(#d28b)"><path d="M940.0,770.0 C942.7,763.7 954.0,764.7 958.0,768.0 C962.0,771.3 964.3,783.3 964.0,790.0 C963.7,796.7 959.7,805.3 956.0,808.0 C952.3,810.7 944.7,812.3 942.0,806.0 C939.3,799.7 937.3,776.3 940.0,770.0 Z" fill="#64e6e8"/></g>
<g filter="url(#d28a)"><path d="M1104.0,735.0 C1107.3,730.0 1122.7,729.2 1130.0,730.0 C1137.3,730.8 1145.3,735.0 1148.0,740.0 C1150.7,745.0 1149.3,755.7 1146.0,760.0 C1142.7,764.3 1134.0,766.0 1128.0,766.0 C1122.0,766.0 1114.0,765.2 1110.0,760.0 C1106.0,754.8 1100.7,740.0 1104.0,735.0 Z" fill="#409cf0"/></g><g filter="url(#d28b)"><path d="M1104.0,735.0 C1107.3,730.0 1122.7,729.2 1130.0,730.0 C1137.3,730.8 1145.3,735.0 1148.0,740.0 C1150.7,745.0 1149.3,755.7 1146.0,760.0 C1142.7,764.3 1134.0,766.0 1128.0,766.0 C1122.0,766.0 1114.0,765.2 1110.0,760.0 C1106.0,754.8 1100.7,740.0 1104.0,735.0 Z" fill="#64e6e8"/></g>
<path d="M1130.0,735.0 C1131.3,732.0 1139.5,735.2 1142.0,738.0 C1144.5,740.8 1146.3,749.0 1145.0,752.0 C1143.7,755.0 1136.5,758.8 1134.0,756.0 C1131.5,753.2 1128.7,738.0 1130.0,735.0 Z" fill="#6cf63e"/>
<polyline points="386.7,590 393.3,566.7 410,570 433.3,576.7 450,578.3 466.7,570 480,566.7 493.3,580 506.7,600 520,612 535,622 550,640 558,655 555,669 560,704 561.4,760 566,771.9 570.8,795.6 578,808.6 583.9,800.3 588.6,787.3 592.2,799.1 587.4,813.4 586.3,828.8 595.8,832.4 604,828.8 613.5,824 623,824 625.4,831.2 623,839.5 629,839.5 638.5,832.4 644.4,833.5 651.5,831.2 653.9,819.3 652.7,802.7 659.8,799.1 665.7,792 669.3,783.7 668.1,780.2 677.6,773 677.6,768.3 688.3,767.1 700,765.3 718.7,761.1 729,757 749.8,749.8 768.7,742.6 787.7,726 797.2,707 821,704.7 835.1,704.7 856.5,709.4 868.3,714.2 880,722.5 891.9,723.7 910.8,720.2 915.6,725 919.1,720.2 929.8,720.2 934.6,715.4 939.3,713 955,716 975,718 998.6,713 1005.7,713 1016.4,708.3 1022.3,701.2 1028.3,695.2 1032,685.8 1035.4,675.9 1040,668 1044,663 1054.6,659.8 1072.4,659.8 1086.7,661.6 1099,665 1108,667 1117,668.7" fill="none" stroke="#1ea0f0" stroke-width="1" stroke-linejoin="round"/>
<polyline points="506.7,563.3 524.5,564.8 538.8,571.9 553,568.3 563.7,580.8 569,589.7 576.1,589.7 576.1,600.4 579.7,607.5 586.8,611 597.5,614.6 604.6,612.8 615.3,607.5 620.6,614.6 627.8,616.4 636.7,616.4 647.4,614.6 652.7,620 654.5,625.3 649.1,627.1 643.8,621.7 634.9,614.6 627.8,604 618.9,593.3 610,580.8 606.4,570.1 606.4,559.4 611.7,552.3 622.4,545.2 631.3,547 640.2,545.2 647.4,547 651,554 665.2,555.9 675.8,557.7 690,553 700,535 704,520 711.2,515.2 725.4,512.8 739.6,508 746.7,498.6 756.2,479.6 761,467.8 762.2,451.2 763.3,437 772.8,425 784.7,415.6 801.3,418 813.1,425 836.9,427.4 853.5,434.6 863,441.7 863,455.9 855.8,470.1 853.5,479.6 848.7,489 844,503.3 848.7,512.8 844,522.3 841.6,531.8 842.8,546 846.4,565 844,576.9 852.2,578.7 863,589.5 873.7,589.5 895.2,589.5 916.8,589.5 930,582 945,572 955,557 970,545 988,532 1005,514 1020,505 1037,497" fill="none" stroke="#1ea0f0" stroke-width="1" stroke-linejoin="round"/>
<polyline points="760,652 780,654 800,655 820,657 840,660 860,668 866,690 862,712 873,724 889.7,725.6 909.5,722.3 919.5,724 932.7,719 937,713" fill="none" stroke="#1ea0f0" stroke-width="1" stroke-linejoin="round"/>
<polygon points="1272,238 1282,236 1291,239 1291,249 1285,257 1279,253 1274,246" fill="#b4e6fc" stroke="#1ea0f0" stroke-width="0.8"/>
<ellipse cx="962" cy="725" rx="7" ry="5" fill="#b4e6fc" stroke="#1ea0f0" stroke-width="0.8"/>
<ellipse cx="1006" cy="741" rx="6" ry="8" fill="#b4e6fc" stroke="#1ea0f0" stroke-width="0.8"/>
<ellipse cx="1080" cy="684" rx="8" ry="7" fill="#b4e6fc" stroke="#1ea0f0" stroke-width="0.8"/>
<ellipse cx="905" cy="742" rx="6" ry="4" fill="#b4e6fc" stroke="#1ea0f0" stroke-width="0.8"/>
<ellipse cx="1046" cy="644" rx="5" ry="6" fill="#b4e6fc" stroke="#1ea0f0" stroke-width="0.8"/>
<circle cx="346" cy="258.5" r="38" fill="none" stroke="#1ea0f0" stroke-width="1"/>
<polyline points="119,494 130,496 141.8,489 148.3,480.6 160,475 173,480 186.7,486.7 196.7,483.3 206.7,480 218.3,483.3 220,490 233.3,496.7 246.7,498.3 266.7,495 280,498.3 293.3,488.3 320,488.3 346.7,491.7 363.3,503.3 380,506.7 393.3,510 401.7,513.3" fill="none" stroke="#3a3a3a" stroke-width="0.9" stroke-linejoin="round"/>
<polyline points="366.7,506.7 366.7,515 361.7,533.3 363.3,550 360,566.7 366.7,583.3 383.3,600 400,606.7 416.7,616.7 433.3,623.3 450,630 466.7,630 476.7,636.7 483.3,653.3 497.8,655.6 512,661 515.6,653.8 526.3,650.2 533.4,645 537,628.9 535.2,618.2 542.3,614.6 537,604 537,600.4 547.7,593.3" fill="none" stroke="#3a3a3a" stroke-width="0.9" stroke-linejoin="round"/>
<polyline points="537,600.4 547.7,593.3 558.3,596.8 562,604 565.5,614.6 574.4,628.9 579.7,636 590.4,637.8 594,632.4 597.5,641.3 604.6,643.1 611.7,646.7 618.9,643.1 624.2,639.5 622.4,632.4 631.3,628.9 635.9,624 640.6,621.7" fill="none" stroke="#3a3a3a" stroke-width="0.9" stroke-linejoin="round"/>
<polyline points="401.7,513.3 403.3,500 411.7,486.7 400,460 396.7,443.3 433.3,436.7 444.8,433.8" fill="none" stroke="#3a3a3a" stroke-width="0.9" stroke-linejoin="round"/>
<polyline points="548.6,343 541.2,346.7 541.2,354 543,357.8 539.3,365.2 522.7,369 519,366 515.2,367 502.3,372.6 491.2,382 485.6,393 467,393 461.5,404 454,420.8 446.7,430 444.8,433.8" fill="none" stroke="#3a3a3a" stroke-width="0.9" stroke-linejoin="round"/>
<polyline points="444.8,433.8 463.4,433.8 464.3,441.2 476.3,445 478.2,449.5 489.3,450.5 491.2,461.6 504,462.5 509.7,466.2 519,467 524.5,472.7 533.8,470.8 537.5,472.7 537.5,463.4 546.8,461.6 547.7,446.8 556,448.6 570.8,459.7 578.3,456 585.7,456 596.8,465.3 607.9,478.3 615.3,482 613.5,474.6 622.7,483.8 630.1,491.2 643.1,496.8 652.4,502.4 661.7,515.3 663.5,522.7 666,534.2 663.7,550.8 666,565 661.6,561.2 665.2,566.5 658,568.3 654.5,571.9 652.7,579 645.6,582.6 645.6,589.7 651,596.8 647.4,604 640.2,604 636.7,605.7 631.2,598 621.7,595.6 617,598 614.6,606 621.7,612 626.4,617 635.9,624" fill="none" stroke="#3a3a3a" stroke-width="0.9" stroke-linejoin="round"/>
<polyline points="567.1,343 574.6,376.3 570.8,381.9 576.4,393 583.8,402.3 582.9,408.8 589.4,406 593,407.8 600.5,404 613.5,403.2 622.7,406 622.7,415.2 615.3,426.4 606,432 613.5,435.6 622.7,445 632,452.3 633.9,461.6 639.4,463.4 645,470.8 652.4,472.7 658,467.1 654.2,461.6 661.7,457.9 669,457.9 687.4,458.3 701.7,453.5 705.2,460.6 701.7,470 694.5,475 687.4,482 685,496.2 694.5,503.3 704,512.8" fill="none" stroke="#3a3a3a" stroke-width="0.9" stroke-linejoin="round"/>
<polyline points="704,512.8 718.3,510.5 739.6,503.3 742,489 742,475 753.9,465.4 763.3,460.6 765.7,470 756.2,482 756.2,493.9 768,498.6 777.6,503.3 772.8,510.5 771.6,522.3 757.6,523.1 751.8,530.8 755.6,544.3 761.4,557.8 755.6,561.7 750,568 748,573.2 749.9,588.7 749.1,576.9 742,567.4 734.9,557.9 727.8,546 725.4,531.8 718.3,520 711.2,515.2 704,512.8" fill="none" stroke="#3a3a3a" stroke-width="0.9" stroke-linejoin="round"/>
<polyline points="771.6,522.3 773,525 786.5,530.8 800,536.6 802,546.3 796.1,555.9 800,569.4 794.2,579 782.6,581 778.8,588.7 765.3,586.7 755.6,584.8 749.9,588.7 751.8,600.2 748,608 749.9,627.2 732.5,627.2 726.7,646.5 726,645.4 711.8,647.8 700,643 697.6,631.2 697.6,621.7 688.1,619.3 673.9,612.2 669.1,602.7 650.1,605 645.4,607.4 640.6,621.7" fill="none" stroke="#3a3a3a" stroke-width="0.9" stroke-linejoin="round"/>
<polyline points="777.6,503.3 787,508 803.7,508 810.8,491.5 825,474.9 836.9,460.6 848.7,458.3 858,455.9" fill="none" stroke="#3a3a3a" stroke-width="0.9" stroke-linejoin="round"/>
<polyline points="858,455.9 855.8,458.3 853.5,479.6 846.4,491.5 844,503.3 848.7,512.8 844,522.3 841.6,531.8 842.8,546 846.4,565 844,576.9 841.6,586.4" fill="none" stroke="#3a3a3a" stroke-width="0.9" stroke-linejoin="round"/>
<polyline points="858,455.9 863,451.2 874.8,448.8 879.6,437 891.4,432.2 905.6,427.4 915.1,418 917.5,399 924.6,389.5 936.5,382.4 945,378" fill="none" stroke="#3a3a3a" stroke-width="0.9" stroke-linejoin="round"/>
<polyline points="915.1,418 920,427.4 920,446.4 917.5,470 912.8,489 920,498.6 924.6,512.8 917.5,522.3 912.8,536.5 917.5,555.5 915.1,569.8 901,577 884.3,579.2 882,584 865.3,586.4 853.5,588.7 841.6,586.4" fill="none" stroke="#3a3a3a" stroke-width="0.9" stroke-linejoin="round"/>
<polyline points="841.6,586.4 841.6,603 846.4,612.4 853.5,626.7 855.8,638.5 848.7,645.6 836.9,641 821,643 821,659.6 809,664.4 794.8,666.7" fill="none" stroke="#3a3a3a" stroke-width="0.9" stroke-linejoin="round"/>
<polyline points="735.5,647.8 740.3,650.1 759.2,652.5 766.4,659.6 778.2,664.4 787.7,669.1 794.8,666.7" fill="none" stroke="#3a3a3a" stroke-width="0.9" stroke-linejoin="round"/>
<polyline points="745,794.8 740.3,787.7 735.5,783 726,780.6 723.7,773.5 730.8,766.4 726,759.2 721.3,749.8 716.5,742.6 721.3,730.8 730,720.3 739.8,722 751.2,728.5 762.6,725.2 769.1,715.4 774,707.3 780.6,699.1 787,689.4 792,679.6 793.6,669.8 795,666.5 803.4,666.5 818,663.3 821.3,660 823,682.8 834.4,689.4 836.8,699 836,707.3 827.8,709 821.3,713.8 811.5,713.8 801.8,716.3 793.6,718.7 801.8,730.1 806.6,741.5 811.5,753 814.8,767.6 813.2,782 814.8,790.5 818,806.8 814.8,820" fill="none" stroke="#3a3a3a" stroke-width="0.9" stroke-linejoin="round"/>
<polyline points="730,766 746.3,757.8 762.6,757.8 775.7,761 787,767.6 795.2,774.2 798.5,784 811.5,787.2 814.8,790.5" fill="none" stroke="#3a3a3a" stroke-width="0.9" stroke-linejoin="round"/>
<polyline points="794.8,666.7 787.7,669.1 778.2,664.4" fill="none" stroke="#3a3a3a" stroke-width="0.9" stroke-linejoin="round"/>
<polyline points="821.3,660 821,643" fill="none" stroke="#3a3a3a" stroke-width="0.9" stroke-linejoin="round"/>
<polyline points="836,707.3 840,718 844.2,730.1" fill="none" stroke="#3a3a3a" stroke-width="0.9" stroke-linejoin="round"/>
<polyline points="814.8,748 821.3,740 834.4,740 844.2,730.1 853.9,731.8 863.7,731.8 876.8,736.6 886.6,741.5 901.2,739.9 910.8,734.4 920.3,739 929.8,752.2 938.1,743.9 946.4,748.6 955.9,742.7 963,736.8 970.2,734.4 983.2,733.2 986.8,733.2 997.4,733.2" fill="none" stroke="#3a3a3a" stroke-width="0.9" stroke-linejoin="round"/>
<polyline points="855.8,638.5 864.8,652.7 881.4,661" fill="none" stroke="#3a3a3a" stroke-width="0.9" stroke-linejoin="round"/>
<polyline points="929.8,752.2 925,760.5 932.2,765.2 935.8,773.3 932,790 938,805 934,820 936.7,825.8 934.8,839.3 940.6,840.2 935.8,841.2 934.8,848.9 934.8,862.4" fill="none" stroke="#3a3a3a" stroke-width="0.9" stroke-linejoin="round"/>
<polyline points="817.4,790 814.2,806.3 804.4,816.1 814.2,819.4 819,827.5 815.8,837.3 820.7,850.3 815.8,855.2 807.6,858.5 797.8,861.8 788,865 776.6,870 768.5,866.6 762,860 755.4,861.8 749,870 735.9,874.8 724.5,881.3 713,878 706.5,876.4 700,874.8" fill="none" stroke="#3a3a3a" stroke-width="0.9" stroke-linejoin="round"/>
<polyline points="730,766 720,772 712,768 704.2,771.5 698,769.4 689.6,771.5 691.7,779.8 700,788.1 708.3,786 714.5,792.3 710.4,802.6 704.2,806.8 693.8,802.6 679.3,804.7 670.9,813 673,825.5 687.5,825.5 693.8,833.8 687.5,850.4 689.6,860.8 698,867 700,874.8 689.6,875.3 687.5,883.6 700,894 708.3,898 714.5,904.3 718.7,916.8 712.5,923" fill="none" stroke="#3a3a3a" stroke-width="0.9" stroke-linejoin="round"/>
<polyline points="544.3,784 540.2,769.4 548.5,752.8 559,740 565,748 571.3,752.8 583.8,771.5 588,786 592,782 598.3,784 606.6,808.9 612.8,817.2 615,823.4 623.2,829.6 625.3,838 640,835 654.3,825.5 656.4,808.9 662,805 671,813" fill="none" stroke="#3a3a3a" stroke-width="0.9" stroke-linejoin="round"/>
<polyline points="807.6,858.5 817.4,850.3 828.8,842.2 840.2,845.4 846.8,839 856.6,837.3 864.7,842.2 868,852 859.8,865 858.2,874.8 866.3,873.2 871.2,881.3 884.3,886.2 886,894.4 882.6,900.9 879.4,907.4 871.2,915.6 868,925.4 869.6,936.8 859.8,946.6 850,953 843.5,966.1 835.4,969.4 832.1,974.3" fill="none" stroke="#3a3a3a" stroke-width="0.9" stroke-linejoin="round"/>
<polyline points="858.2,874.8 869.6,873.2 882.4,874.5 892.8,879 904.7,876 912.2,879 920,870 930,865.3 934.8,862.4" fill="none" stroke="#3a3a3a" stroke-width="0.9" stroke-linejoin="round"/>
<polyline points="934.8,862.4 939.6,865.3 949.3,862.4 954.1,864.3 954.1,868.2 948.3,875.9 943.5,884.5 948.3,888.4 955,886.5 961.8,883.6 973.4,879.7 977.2,882.6 983,885.5 982,877.8 985.9,874.9 997.4,875.9 999.4,877.8 1003.2,881.7 1009,880.7 1014.8,893.2 1016.7,895.1 1014.8,900 1022.5,910.6 1026.3,916.3" fill="none" stroke="#3a3a3a" stroke-width="0.9" stroke-linejoin="round"/>
<polyline points="1051.5,773.4 1040.8,779.3 1030.2,782.9 1023,786.4 1016,788.8 1011.2,795.9 1013.5,803 1006.4,813.7 999.3,817.3 999.3,826.8 997,833.9 997,841 991.7,847 989.7,853.7 987.8,862.4 984.9,867.2 985.9,874.9" fill="none" stroke="#3a3a3a" stroke-width="0.9" stroke-linejoin="round"/>
<polyline points="1051.5,773.4 1053.9,779.3 1057.4,791.2 1065.7,794.7 1075.2,788.8 1080,795.9 1088.3,795.9 1095.4,795.9 1100,799.5" fill="none" stroke="#3a3a3a" stroke-width="0.9" stroke-linejoin="round"/>
<polyline points="997.4,733.2 1001.7,728.3 1006.4,730.7 1010,727.1 1013.5,728.3 1018.3,737.8 1030.2,737.8 1034.9,743.7 1032.5,748.5 1038.5,755.6 1043.2,762.7 1044.4,772.2 1051.5,773.4" fill="none" stroke="#3a3a3a" stroke-width="0.9" stroke-linejoin="round"/>
<polyline points="1034.9,743.7 1042,736.6 1049.1,730.7 1051.5,723.6 1050.3,720 1056,712 1060,700 1066,692 1075,690 1085,692 1092,700 1096,706" fill="none" stroke="#3a3a3a" stroke-width="0.9" stroke-linejoin="round"/>
<polyline points="983.4,586.8 992.3,583.3 1001.2,590.4 1010,597.5 1019,590.4 1029.7,586.8 1042.2,574.4 1052,572" fill="none" stroke="#3a3a3a" stroke-width="0.9" stroke-linejoin="round"/>
<polyline points="1001.2,590.4 997.7,601 1004.8,604.6 1013.7,608.2 1022.6,615.3 1020.8,622.4 1022.6,633.1 1029.7,640.2 1036.8,645.6 1045.7,638.5 1051,643.8 1052.8,649 1045.7,652.7 1036.8,654.5 1040.4,661.6 1036.8,668.7 1044,675.8 1047.5,684.7 1045.7,695 1050.3,720" fill="none" stroke="#3a3a3a" stroke-width="0.9" stroke-linejoin="round"/>
<polyline points="1096,706 1102,690 1098,680 1106,672 1112,666" fill="none" stroke="#3a3a3a" stroke-width="0.9" stroke-linejoin="round"/>
<polyline points="1006.6,485.3 992.3,494.2 974.5,506.7 965.6,515.6 963.8,526.3 955,533.4 953.1,547.7 947.8,556.6 938.9,561.9 930,565.5 920,568 915.1,569.8" fill="none" stroke="#3a3a3a" stroke-width="0.9" stroke-linejoin="round"/>
<polyline points="989,584.8 982.4,586.5 980.7,593 977.4,598 979,608 989,613 985.7,616.3 980.7,618 972.5,609.7 962.5,611.3 965.8,614.6 967.5,622.9 959.2,629.5 955.9,636.2 949.3,641.1 952.6,646.1 955.9,652.7 965.8,656 970.8,657.7 972.5,666 974.1,675.9 964.2,682.5 963,688.1 970.2,694 979.6,701.2 973.7,707.1 978.5,719 983.2,732 986.8,733.2" fill="none" stroke="#3a3a3a" stroke-width="0.9" stroke-linejoin="round"/>
<polyline points="881.4,661 891.9,662 903.7,660.8 910.8,665.6 919.1,660.8 922.7,665.6 923.9,675.1 932.2,678.6 944,682.2 953.5,685.8 958.3,684.6 963,688.1" fill="none" stroke="#3a3a3a" stroke-width="0.9" stroke-linejoin="round"/>
<polyline points="930,565.5 934,575 930,585 938,592 947.8,594 953.1,615.3" fill="none" stroke="#3a3a3a" stroke-width="0.9" stroke-linejoin="round"/>
<polyline points="945,378 955,372 965,368 975,362 990,359.8 994.5,359.8 1002,371.7 1008,382.2 1005,389.6 1009.4,394 1027.3,394 1028.7,401.5 1024.3,407.5 1025.8,413.5 1034.7,416.4 1037.7,419.4 1042.2,426.9 1046.6,431.3" fill="none" stroke="#3a3a3a" stroke-width="0.9" stroke-linejoin="round"/>
<polyline points="1027.3,394 1031.7,388.1 1027.3,365.8 1033.2,362.8 1042.2,373.2 1046.6,380.7 1052.6,368.7 1061.5,359.8 1079.4,349.4 1091.3,343.4 1103.3,339 1107.7,335" fill="none" stroke="#3a3a3a" stroke-width="0.9" stroke-linejoin="round"/>
<polyline points="960,430 965,420 975,416 984,412 990,418 994,430 986,436 988,446 980,452 972,452 962,448 958,440 960,430" fill="none" stroke="#3a3a3a" stroke-width="0.9" stroke-linejoin="round"/>
<polyline points="986,436 996,440 1000,452 1000,465 1003,475 993,478 986,468 983,455 988,446" fill="none" stroke="#3a3a3a" stroke-width="0.9" stroke-linejoin="round"/>
<polyline points="1066.7,255 1075.6,265.6 1077.4,279.8 1082.7,301.2 1091.6,297.7 1098.8,292.3 1102.3,297.7 1107.7,315.5 1107.7,320.8 1116.6,320.8 1123.7,326.1 1130.8,329.7 1136.1,327.9 1139.7,336.8 1146.8,345.7 1154,352.8 1155.7,361.7 1162.8,372.4 1168.2,384.9" fill="none" stroke="#3a3a3a" stroke-width="0.9" stroke-linejoin="round"/>
<polyline points="1107.7,320.8 1107.7,335" fill="none" stroke="#3a3a3a" stroke-width="0.9" stroke-linejoin="round"/>
<polyline points="1066.7,255 1087.2,255 1089.8,244.2 1093.4,237.1 1107.7,240.7 1111.2,249.6 1118.3,258.5 1132.6,259.4 1143.3,256.7 1154,263.8 1164.6,262 1173.5,263.8 1177.1,272.7 1187.8,278.1 1194.9,287 1198.4,283.4 1203.8,276.3 1210.9,285.2 1218,297.7 1225.2,294.1 1235.8,285.2 1246.5,283.4 1253.6,290.5 1264.3,294.1 1269.7,294.1" fill="none" stroke="#3a3a3a" stroke-width="0.9" stroke-linejoin="round"/>
<polyline points="1042.3,48.9 1037.9,60 1035.7,68.9 1044.6,73.4 1053.5,68.9 1062.4,75.6 1064.6,84.5 1069,95.6 1075.7,100 1086.8,97.8 1100.2,95.6 1106.8,86.7 1111.3,84.5 1126.8,97.8 1126.8,106.7 1120.2,120 1117.9,133.4 1120.2,151.2 1113.5,164.5 1111.3,182.3 1106.8,175.6 1095.7,189 1082.4,200.1 1075.7,211.2 1077.9,217.9 1086.8,224.6 1093.5,229 1098,224.6 1102.4,226.8 1095.7,231.2 1089,235.7 1091.3,244.6 1089.8,244.2" fill="none" stroke="#3a3a3a" stroke-width="0.9" stroke-linejoin="round"/>
<polyline points="779,974 771,971 759,970 753,965 746,962 742,957 740,948 745,943 746,939 740,934 731,932 720,931 714,928 708,921 696,927 679,935 671,942 658,933 646,938 629,935 613,940 607,946 609,975 596,973 592,967 573,962 565,958 559,946 542,942 548,929 553,917 540,913 536,894 538,886 515,885 505,886 509,882 507,875 509,865 513,855 519,848 528,842 536,836 540,828 542,817 545,803 544,786 536,784 530,763 522,759 505,765 476,761 451,768 434,775 416,784 395,782 377,772 370,761 362,745 345,736 327,733 316,742 306,754 302,743 295,731 281,731 266,727 252,722 234,717 227,708 213,694 202,683 195,669 181,665 177,654 163,640 156,626 142,621 131,628 128,619 113,608 106,594 92,587 88,573 92,560 90,547 92,537 99,539 101,545 110,543 112,528 108,517 107,506 110,498 119,494 112,485 105,478 106,461 110,455 103,453 90,446 82,440 80,434 72,431 70,424 74,420 73,408 67,401 64,395 58,388 49,386 48,383 54,380 64,383 63,375 64,369 64,356 70,350 64,343 58,339 52,337 46,332 50,328 52,322 47,317 49,313 60,306 67,300 88,297 92,293 107,297 110,303 125,303 130,297 153,295 177,290 190,290 213,287 217,273 220,267 227,260 233,257 235,240 235,223 233,206 243,204 263,206 277,207 285,213 283,202 293,180 310,160 323,170 340,175 360,175 363,153 370,140 390,137 393,127 400,128 413,130 413,143 420,153 423,160 440,170 450,180 455,200 458,213 453,230 447,243 450,252 463,258 483,262 500,267 517,283 533,295 538,317 542,330 550,342 567,343 600,350 630,354 660,360 667,370 680,372 700,377 715,382 717,388 727,392 743,382 773,370 820,368 830,363 843,355 850,343 870,332 872,327 860,315 863,300 873,293 883,295 900,300 923,283 943,277 957,267 963,253 980,247 1000,243 1013,240 1027,238 1027,233 1020,220 1010,210 997,203 980,203 970,207 950,212 942,207 943,193 950,167 958,153 973,155 990,152 1003,143 1008,123 1017,110 1023,90 1027,75 1020,70 1013,67 1020,57 1027,50 1047,42 1073,38 1100,42 1113,47 1120,53 1127,60 1133,80 1143,90 1147,103 1153,110 1157,120 1167,130 1183,132 1200,135 1213,140 1223,147 1228,163 1237,173 1252,171 1267,166 1271,158 1281,152 1290,146 1300,140 1310,136 1304,144 1308,162 1302,173 1301,193 1300,210 1296,224 1295,239 1290,240 1269,237 1267,243 1254,255 1261,266 1267,284 1269,295 1267,311 1261,313 1254,317 1261,324 1252,316 1250,312 1245,312 1243,317 1241,328 1234,333 1233,340 1227,343 1213,347 1212,350 1215,354 1217,364 1200,364 1194,363 1190,358 1186,361 1182,369 1179,376 1175,383 1168,389 1165,392 1161,396 1153,403 1146,411 1142,417" fill="none" stroke="#000" stroke-width="2.2" stroke-linejoin="round"/>
<g class="t">
<text transform="translate(307.6,282.4) scale(1,0.888)" font-size="15.13" fill="#2b2b2b" >乌鲁木齐</text>
<rect x="372.8" y="274.6" width="5.2" height="5.2" fill="#333" transform="rotate(45 375.4 277.2)"/>
<text transform="translate(371.9,704.8) scale(1,0.954)" font-size="15.21" fill="#2b2b2b" >拉萨</text>
<rect x="364.2" y="696.3" width="5.2" height="5.2" fill="#333" transform="rotate(45 366.8 698.9)"/>
<text transform="translate(609.0,537.9) scale(1,0.916)" font-size="14.68" fill="#2b2b2b" >西宁</text>
<rect x="642.1" y="529.2" width="5.2" height="5.2" fill="#333" transform="rotate(45 644.7 531.8)"/>
<text transform="translate(674.7,567.2) scale(1,0.880)" font-size="15.16" fill="#2b2b2b" >兰州</text>
<rect x="688.4" y="548.8" width="5.2" height="5.2" fill="#333" transform="rotate(45 691 551.4)"/>
<text transform="translate(733.9,473.9) scale(1,0.950)" font-size="15.05" fill="#2b2b2b" >银川</text>
<rect x="745.1" y="481.1" width="5.2" height="5.2" fill="#333" transform="rotate(45 747.7 483.7)"/>
<text transform="translate(800.6,421.5) scale(1,0.980)" font-size="15.03" fill="#2b2b2b" >呼和浩特</text>
<rect x="865.7" y="413.4" width="5.2" height="5.2" fill="#333" transform="rotate(45 868.3 416)"/>
<text transform="translate(960.4,478.7) scale(1,1.011)" font-size="15.96" fill="#2b2b2b" >天津</text>
<rect x="986.4" y="458.4" width="5.2" height="5.2" fill="#333" transform="rotate(45 989 461)"/>
<text transform="translate(915.5,488.7) scale(1,1.093)" font-size="14.76" fill="#2b2b2b" >石家庄</text>
<rect x="929.9" y="492.4" width="5.2" height="5.2" fill="#333" transform="rotate(45 932.5 495)"/>
<text transform="translate(872.9,521.2) scale(1,1.011)" font-size="15.96" fill="#2b2b2b" >太原</text>
<rect x="886.4" y="498.4" width="5.2" height="5.2" fill="#333" transform="rotate(45 889 501)"/>
<text transform="translate(996.9,536.2) scale(1,1.064)" font-size="15.16" fill="#2b2b2b" >济南</text>
<rect x="989.9" y="528.9" width="5.2" height="5.2" fill="#333" transform="rotate(45 992.5 531.5)"/>
<text transform="translate(900.6,608.8) scale(1,0.973)" font-size="15.48" fill="#2b2b2b" >郑州</text>
<rect x="914.2" y="590.1" width="5.2" height="5.2" fill="#333" transform="rotate(45 916.8 592.7)"/>
<text transform="translate(772.6,610.0) scale(1,0.902)" font-size="14.31" fill="#2b2b2b" >西安</text>
<rect x="805.4" y="603.0" width="5.2" height="5.2" fill="#333" transform="rotate(45 808 605.6)"/>
<text transform="translate(989.5,665.0) scale(1,0.901)" font-size="13.72" fill="#2b2b2b" >合肥</text>
<rect x="1003.4" y="670.0" width="5.2" height="5.2" fill="#333" transform="rotate(45 1006 672.6)"/>
<text transform="translate(1049.0,671.3) scale(1,0.872)" font-size="14.31" fill="#2b2b2b" >南京</text>
<rect x="1041.4" y="662.4" width="5.2" height="5.2" fill="#333" transform="rotate(45 1044 665)"/>
<text transform="translate(1104.8,696.0) scale(1,1.083)" font-size="11.91" fill="#2b2b2b" >上海</text>
<rect x="1107.4" y="678.1" width="5.2" height="5.2" fill="#333" transform="rotate(45 1110 680.7)"/>
<text transform="translate(1067.2,727.4) scale(1,0.850)" font-size="15.05" fill="#2b2b2b" >杭州</text>
<rect x="1080.6" y="709.4" width="5.2" height="5.2" fill="#333" transform="rotate(45 1083.2 712)"/>
<text transform="translate(921.0,705.0) scale(1,0.866)" font-size="14.89" fill="#2b2b2b" >武汉</text>
<rect x="934.4" y="710.4" width="5.2" height="5.2" fill="#333" transform="rotate(45 937 713)"/>
<text transform="translate(892.0,773.7) scale(1,0.824)" font-size="13.83" fill="#2b2b2b" >长沙</text>
<rect x="903.4" y="780.4" width="5.2" height="5.2" fill="#333" transform="rotate(45 906 783)"/>
<text transform="translate(984.7,772.3) scale(1,0.918)" font-size="14.52" fill="#2b2b2b" >南昌</text>
<rect x="976.4" y="764.3" width="5.2" height="5.2" fill="#333" transform="rotate(45 979 766.9)"/>
<text transform="translate(1055.7,825.7) scale(1,0.929)" font-size="15.16" fill="#2b2b2b" >福州</text>
<rect x="1068.4" y="831.3" width="5.2" height="5.2" fill="#333" transform="rotate(45 1071 833.9)"/>
<text transform="translate(1112.5,875.7) scale(1,0.847)" font-size="14.10" fill="#2b2b2b" >台北</text>
<rect x="1130.4" y="855.2" width="5.2" height="5.2" fill="#333" transform="rotate(45 1133 857.8)"/>
<text transform="translate(667.0,728.4) scale(1,0.866)" font-size="14.89" fill="#2b2b2b" >成都</text>
<rect x="684.2" y="709.0" width="5.2" height="5.2" fill="#333" transform="rotate(45 686.8 711.6)"/>
<text transform="translate(734.6,759.0) scale(1,0.990)" font-size="13.03" fill="#2b2b2b" >重庆</text>
<rect x="744.2" y="740.1" width="5.2" height="5.2" fill="#333" transform="rotate(45 746.8 742.7)"/>
<text transform="translate(730.8,843.7) scale(1,0.774)" font-size="14.73" fill="#2b2b2b" >贵阳</text>
<rect x="744.7" y="827.0" width="5.2" height="5.2" fill="#333" transform="rotate(45 747.3 829.6)"/>
<text transform="translate(628.4,862.8) scale(1,0.936)" font-size="14.36" fill="#2b2b2b" >昆明</text>
<rect x="641.4" y="870.2" width="5.2" height="5.2" fill="#333" transform="rotate(45 644 872.8)"/>
<text transform="translate(794.4,944.0) scale(1,0.864)" font-size="14.31" fill="#2b2b2b" >南宁</text>
<rect x="785.4" y="936.1" width="5.2" height="5.2" fill="#333" transform="rotate(45 788 938.7)"/>
<text transform="translate(882.8,933.1) scale(1,0.827)" font-size="14.31" fill="#2b2b2b" >广州</text>
<rect x="916.3" y="925.4" width="5.2" height="5.2" fill="#333" transform="rotate(45 918.9 928)"/>
<text transform="translate(888.8,957.0) scale(1,0.905)" font-size="14.26" fill="#2b2b2b" >澳门</text>
<rect x="924.4" y="952.4" width="5.2" height="5.2" fill="#333" transform="rotate(45 927 955)"/>
<text transform="translate(939.5,945.0) scale(1,0.905)" font-size="14.26" fill="#2b2b2b" >香港</text>
<rect x="941.2" y="949.1" width="5.2" height="5.2" fill="#333" transform="rotate(45 943.8 951.7)"/>
<text transform="translate(819.0,1035.3) scale(1,0.809)" font-size="14.36" fill="#2b2b2b" >海口</text>
<rect x="836.3" y="1017.4" width="5.2" height="5.2" fill="#333" transform="rotate(45 838.9 1020)"/>
<text transform="translate(1101.4,362.5) scale(1,0.793)" font-size="15.05" fill="#2b2b2b" >沈阳</text>
<rect x="1113.4" y="370.2" width="5.2" height="5.2" fill="#333" transform="rotate(45 1116 372.8)"/>
<text transform="translate(1132.7,296.4) scale(1,0.979)" font-size="13.72" fill="#2b2b2b" >长春</text>
<rect x="1143.4" y="302.0" width="5.2" height="5.2" fill="#333" transform="rotate(45 1146 304.6)"/>
<text transform="translate(1166.5,250.6) scale(1,0.963)" font-size="15.42" fill="#2b2b2b" >哈尔滨</text>
<rect x="1158.4" y="242.4" width="5.2" height="5.2" fill="#333" transform="rotate(45 1161 245)"/>
<text transform="translate(1145.9,828.6) scale(1,0.929)" font-size="12.15" fill="#6e6e6e" >钓鱼岛</text>
<text transform="translate(1210.6,827.9) scale(1,1.106)" font-size="12.15" fill="#6e6e6e" >赤尾屿</text>
<text transform="translate(1059.1,931.3) scale(1,0.921)" font-size="13.19" fill="#6e6e6e" >台湾岛</text>
<text transform="translate(999.9,981.6) scale(1,0.839)" font-size="13.45" fill="#6e6e6e" >东沙群岛</text>
<text transform="translate(975.2,998.1) scale(1,0.942)" font-size="11.98" fill="#6e6e6e" >东沙岛</text>
<text transform="translate(842.1,1065.5) scale(1,0.880)" font-size="13.19" fill="#6e6e6e" >海南岛</text>
<text transform="translate(184.2,352.1) scale(1,0.688)" font-size="19.00" font-weight="bold" fill="#2a2a2a" >新</text>
<text transform="translate(216.7,352.1) scale(1,0.688)" font-size="19.00" font-weight="bold" fill="#2a2a2a" >疆</text>
<text transform="translate(247.3,352.1) scale(1,0.629)" font-size="20.78" font-weight="bold" fill="#2a2a2a" >维</text>
<text transform="translate(278.0,352.1) scale(1,0.626)" font-size="20.89" font-weight="bold" fill="#2a2a2a" >吾</text>
<text transform="translate(308.8,352.1) scale(1,0.692)" font-size="18.89" font-weight="bold" fill="#2a2a2a" >尔</text>
<text transform="translate(340.1,352.1) scale(1,0.718)" font-size="18.22" font-weight="bold" fill="#2a2a2a" >自</text>
<text transform="translate(371.9,352.1) scale(1,0.692)" font-size="18.89" font-weight="bold" fill="#2a2a2a" >治</text>
<text transform="translate(402.6,352.1) scale(1,0.692)" font-size="18.89" font-weight="bold" fill="#2a2a2a" >区</text>
<text transform="translate(212.0,640.8) scale(1,0.687)" font-size="20.00" font-weight="bold" fill="#2a2a2a" >西</text>
<text transform="translate(248.5,640.8) scale(1,0.687)" font-size="20.00" font-weight="bold" fill="#2a2a2a" >藏</text>
<text transform="translate(285.0,640.8) scale(1,0.687)" font-size="20.00" font-weight="bold" fill="#2a2a2a" >自</text>
<text transform="translate(321.5,640.8) scale(1,0.687)" font-size="20.00" font-weight="bold" fill="#2a2a2a" >治</text>
<text transform="translate(358.1,640.8) scale(1,0.773)" font-size="17.78" font-weight="bold" fill="#2a2a2a" >区</text>
<text transform="translate(482.1,545.8) scale(1,0.698)" font-size="18.89" font-weight="bold" fill="#2a2a2a" >青</text>
<text transform="translate(554.0,545.8) scale(1,0.659)" font-size="20.00" font-weight="bold" fill="#2a2a2a" >海</text>
<text transform="translate(600.9,462.2) scale(1,0.765)" font-size="16.67" font-weight="bold" fill="#2a2a2a" >甘</text>
<text transform="translate(707.1,578.8) scale(1,0.698)" font-size="18.89" font-weight="bold" fill="#2a2a2a" >肃</text>
<text transform="translate(679.0,428.8) scale(1,0.659)" font-size="20.00" font-weight="bold" fill="#2a2a2a" >内</text>
<text transform="translate(757.1,421.7) scale(1,0.756)" font-size="18.89" font-weight="bold" fill="#2a2a2a" >蒙</text>
<text transform="translate(827.9,402.8) scale(1,0.593)" font-size="22.22" font-weight="bold" fill="#2a2a2a" >古</text>
<text transform="translate(898.0,367.8) scale(1,0.659)" font-size="20.00" font-weight="bold" fill="#2a2a2a" >自</text>
<text transform="translate(960.5,331.8) scale(1,0.642)" font-size="20.56" font-weight="bold" fill="#2a2a2a" >治</text>
<text transform="translate(1022.9,293.8) scale(1,0.625)" font-size="21.11" font-weight="bold" fill="#2a2a2a" >区</text>
<text transform="translate(1147.0,210.8) scale(1,0.659)" font-size="20.00" font-weight="bold" fill="#2a2a2a" >黑</text>
<text transform="translate(1187.0,210.8) scale(1,0.659)" font-size="20.00" font-weight="bold" fill="#2a2a2a" >龙</text>
<text transform="translate(1229.0,210.8) scale(1,0.659)" font-size="20.00" font-weight="bold" fill="#2a2a2a" >江</text>
<text transform="translate(1150.5,319.8) scale(1,0.642)" font-size="20.56" font-weight="bold" fill="#2a2a2a" >吉</text>
<text transform="translate(1193.0,319.8) scale(1,0.678)" font-size="19.44" font-weight="bold" fill="#2a2a2a" >林</text>
<text transform="translate(1060.5,391.8) scale(1,0.678)" font-size="19.44" font-weight="bold" fill="#2a2a2a" >辽</text>
<text transform="translate(1105.5,391.8) scale(1,0.678)" font-size="19.44" font-weight="bold" fill="#2a2a2a" >宁</text>
<text transform="translate(950.5,406.8) scale(1,0.642)" font-size="20.56" font-weight="bold" fill="#2a2a2a" >河</text>
<text transform="translate(951.0,499.8) scale(1,0.659)" font-size="20.00" font-weight="bold" fill="#2a2a2a" >北</text>
<text transform="translate(875.5,491.8) scale(1,0.678)" font-size="19.44" font-weight="bold" fill="#2a2a2a" >山</text>
<text transform="translate(875.5,548.8) scale(1,0.678)" font-size="19.44" font-weight="bold" fill="#2a2a2a" >西</text>
<text transform="translate(808.0,565.8) scale(1,0.659)" font-size="20.00" font-weight="bold" fill="#2a2a2a" >陕</text>
<text transform="translate(808.1,624.8) scale(1,0.698)" font-size="18.89" font-weight="bold" fill="#2a2a2a" >西</text>
<text transform="translate(990.7,554.8) scale(1,0.791)" font-size="16.67" font-weight="bold" fill="#2a2a2a" >山</text>
<text transform="translate(1025.5,554.8) scale(1,0.678)" font-size="19.44" font-weight="bold" fill="#2a2a2a" >东</text>
<text transform="translate(885.7,625.8) scale(1,0.771)" font-size="17.11" font-weight="bold" fill="#2a2a2a" >河</text>
<text transform="translate(922.2,625.8) scale(1,0.791)" font-size="16.67" font-weight="bold" fill="#2a2a2a" >南</text>
<text transform="translate(1060.8,624.9) scale(1,0.676)" font-size="17.89" font-weight="bold" fill="#2a2a2a" >江</text>
<text transform="translate(1060.8,651.9) scale(1,0.706)" font-size="17.89" font-weight="bold" fill="#2a2a2a" >苏</text>
<text transform="translate(991.4,646.4) scale(1,0.711)" font-size="17.78" font-weight="bold" fill="#2a2a2a" >安</text>
<text transform="translate(992.0,697.8) scale(1,0.635)" font-size="20.78" font-weight="bold" fill="#2a2a2a" >徽</text>
<text transform="translate(860.1,709.4) scale(1,0.669)" font-size="18.89" font-weight="bold" fill="#2a2a2a" >湖</text>
<text transform="translate(901.0,709.4) scale(1,0.632)" font-size="20.00" font-weight="bold" fill="#2a2a2a" >北</text>
<text transform="translate(1060.1,748.9) scale(1,0.689)" font-size="18.33" font-weight="bold" fill="#2a2a2a" >浙</text>
<text transform="translate(1087.1,748.9) scale(1,0.711)" font-size="17.78" font-weight="bold" fill="#2a2a2a" >江</text>
<text transform="translate(773.9,719.9) scale(1,0.753)" font-size="16.78" font-weight="bold" fill="#2a2a2a" >重</text>
<text transform="translate(773.9,736.9) scale(1,0.753)" font-size="16.78" font-weight="bold" fill="#2a2a2a" >庆</text>
<text transform="translate(773.9,753.4) scale(1,0.753)" font-size="16.78" font-weight="bold" fill="#2a2a2a" >市</text>
<text transform="translate(621.8,706.9) scale(1,0.680)" font-size="17.78" font-weight="bold" fill="#2a2a2a" >四</text>
<text transform="translate(692.4,706.9) scale(1,0.625)" font-size="19.33" font-weight="bold" fill="#2a2a2a" >川</text>
<text transform="translate(846.0,807.4) scale(1,0.745)" font-size="16.22" font-weight="bold" fill="#2a2a2a" >湖</text>
<text transform="translate(886.7,807.4) scale(1,0.740)" font-size="16.33" font-weight="bold" fill="#2a2a2a" >南</text>
<text transform="translate(966.3,788.4) scale(1,0.615)" font-size="19.67" font-weight="bold" fill="#2a2a2a" >江</text>
<text transform="translate(966.3,828.9) scale(1,0.643)" font-size="19.67" font-weight="bold" fill="#2a2a2a" >西</text>
<text transform="translate(721.9,827.9) scale(1,0.690)" font-size="18.00" font-weight="bold" fill="#2a2a2a" >贵</text>
<text transform="translate(762.7,827.9) scale(1,0.681)" font-size="18.22" font-weight="bold" fill="#2a2a2a" >州</text>
<text transform="translate(1032.7,829.4) scale(1,0.639)" font-size="19.78" font-weight="bold" fill="#2a2a2a" >福</text>
<text transform="translate(1033.3,863.5) scale(1,0.648)" font-size="19.67" font-weight="bold" fill="#2a2a2a" >建</text>
<text transform="translate(580.8,893.4) scale(1,0.685)" font-size="18.44" font-weight="bold" fill="#2a2a2a" >云</text>
<text transform="translate(636.9,893.4) scale(1,0.779)" font-size="16.22" font-weight="bold" fill="#2a2a2a" >南</text>
<text transform="translate(759.5,903.5) scale(1,0.706)" font-size="16.33" font-weight="bold" fill="#2a2a2a" >广</text>
<text transform="translate(781.2,903.5) scale(1,0.692)" font-size="16.67" font-weight="bold" fill="#2a2a2a" >西</text>
<text transform="translate(802.2,903.5) scale(1,0.692)" font-size="16.67" font-weight="bold" fill="#2a2a2a" >壮</text>
<text transform="translate(823.1,903.5) scale(1,0.649)" font-size="17.78" font-weight="bold" fill="#2a2a2a" >族</text>
<text transform="translate(771.0,920.9) scale(1,0.735)" font-size="16.89" font-weight="bold" fill="#2a2a2a" >自</text>
<text transform="translate(791.6,920.9) scale(1,0.721)" font-size="17.22" font-weight="bold" fill="#2a2a2a" >治</text>
<text transform="translate(812.6,920.9) scale(1,0.730)" font-size="17.00" font-weight="bold" fill="#2a2a2a" >区</text>
<text transform="translate(918.8,919.5) scale(1,0.777)" font-size="16.56" font-weight="bold" fill="#2a2a2a" >广</text>
<text transform="translate(953.1,919.5) scale(1,0.710)" font-size="18.11" font-weight="bold" fill="#2a2a2a" >东</text>
<text transform="translate(822.9,1052.2) scale(1,0.721)" font-size="17.22" font-weight="bold" fill="#2a2a2a" >海</text>
<text transform="translate(858.4,1052.2) scale(1,0.654)" font-size="19.00" font-weight="bold" fill="#2a2a2a" >南</text>
<text transform="translate(1110.0,893.4) scale(1,0.610)" font-size="20.00" font-weight="bold" fill="#2a2a2a" >台</text>
<text transform="translate(1110.0,914.4) scale(1,0.670)" font-size="20.00" font-weight="bold" fill="#2a2a2a" >湾</text>
<text transform="translate(1116.6,679.9) scale(1,0.702)" font-size="17.22" font-weight="bold" fill="#2a2a2a" >上</text>
<text transform="translate(1136.1,679.9) scale(1,0.680)" font-size="17.78" font-weight="bold" fill="#2a2a2a" >海</text>
<text transform="translate(1156.1,679.9) scale(1,0.640)" font-size="18.89" font-weight="bold" fill="#2a2a2a" >市</text>
<text transform="translate(956.3,958.5) scale(1,0.689)" font-size="14.20" font-weight="bold" fill="#2a2a2a" >香港特别行政区</text>
<text transform="translate(874.2,970.4) scale(1,0.582)" font-size="16.81" font-weight="bold" fill="#2a2a2a" >澳门特别行政区</text>
<text transform="translate(920.0,446.5) scale(1,0.944)" font-size="19.36" fill="#4a4a4a" >北京</text>
<text transform="translate(955.4,426.8) scale(1,0.664)" font-size="12.59" font-weight="bold" fill="#2a2a2a" >北京市</text>
<text transform="translate(993.7,454.8) scale(1,0.693)" font-size="11.89" font-weight="bold" fill="#2a2a2a" >天</text>
<text transform="translate(993.8,465.3) scale(1,0.765)" font-size="10.78" font-weight="bold" fill="#2a2a2a" >津</text>
<text transform="translate(993.8,473.3) scale(1,0.744)" font-size="10.78" font-weight="bold" fill="#2a2a2a" >市</text>
<text transform="translate(737.3,499.2) scale(1,0.684)" font-size="13.33" font-weight="bold" fill="#2a2a2a" >宁</text>
<text transform="translate(737.3,509.2) scale(1,0.684)" font-size="13.33" font-weight="bold" fill="#2a2a2a" >夏</text>
<text transform="translate(737.3,519.5) scale(1,0.684)" font-size="13.33" font-weight="bold" fill="#2a2a2a" >回</text>
<text transform="translate(737.3,529.8) scale(1,0.684)" font-size="13.33" font-weight="bold" fill="#2a2a2a" >族</text>
<text transform="translate(737.3,540.1) scale(1,0.684)" font-size="13.33" font-weight="bold" fill="#2a2a2a" >自</text>
<text transform="translate(737.3,550.5) scale(1,0.684)" font-size="13.33" font-weight="bold" fill="#2a2a2a" >治</text>
<text transform="translate(737.3,560.8) scale(1,0.684)" font-size="13.33" font-weight="bold" fill="#2a2a2a" >区</text>
<circle cx="970.9" cy="438.9" r="5.6" fill="none" stroke="#111" stroke-width="1"/><circle cx="970.9" cy="438.9" r="3.6" fill="none" stroke="#111" stroke-width="0.9"/><circle cx="970.9" cy="438.9" r="1.8" fill="#111"/>
<line x1="968.5" y1="464" x2="983.6" y2="445.4" stroke="#333" stroke-width="0.8"/>
<text transform="translate(1250.7,408.4) scale(1,1.288)" font-size="14.23" font-style="italic" fill="#2a9ee8" >日</text>
<text transform="translate(1284.5,408.4) scale(1,1.077)" font-size="17.02" font-style="italic" fill="#2a9ee8" >本</text>
<text transform="translate(1319.7,408.4) scale(1,0.983)" font-size="18.65" font-style="italic" fill="#2a9ee8" >海</text>
<text transform="translate(1017.2,479.5) scale(1,1.050)" font-size="15.77" font-style="italic" fill="#2a9ee8" >渤</text>
<text transform="translate(1042.5,479.5) scale(1,1.050)" font-size="15.77" font-style="italic" fill="#2a9ee8" >海</text>
<text transform="translate(1095.9,580.1) scale(1,1.011)" font-size="15.38" font-style="italic" fill="#2a9ee8" >黄</text>
<text transform="translate(1131.7,582.9) scale(1,1.007)" font-size="18.75" font-style="italic" fill="#2a9ee8" >海</text>
<text transform="translate(1160.3,747.8) scale(1,1.156)" font-size="16.83" font-style="italic" fill="#2a9ee8" >东</text>
<text transform="translate(1200.2,747.8) scale(1,1.011)" font-size="19.23" font-style="italic" fill="#2a9ee8" >海</text>
<text transform="translate(930.2,1062.7) scale(1,1.156)" font-size="19.23" font-style="italic" fill="#2a9ee8" >南</text>
<text transform="translate(1000.2,1062.7) scale(1,1.156)" font-size="19.23" font-style="italic" fill="#2a9ee8" >海</text>
<text transform="translate(1200.6,994.2) scale(1,0.969)" font-size="25.58" font-style="italic" fill="#2a9ee8" >太</text>
<text transform="translate(1255.5,994.2) scale(1,1.171)" font-size="21.15" font-style="italic" fill="#2a9ee8" >平</text>
<text transform="translate(1305.4,994.2) scale(1,1.056)" font-size="23.46" font-style="italic" fill="#2a9ee8" >洋</text>
<text transform="translate(279.7,1013.0) scale(1,1.070)" font-size="15.58" font-style="italic" fill="#2a9ee8" >孟</text>
<text transform="translate(300.9,1013.0) scale(1,1.083)" font-size="15.38" font-style="italic" fill="#2a9ee8" >加</text>
<text transform="translate(322.9,1013.0) scale(1,1.083)" font-size="15.38" font-style="italic" fill="#2a9ee8" >拉</text>
<text transform="translate(344.8,1013.0) scale(1,1.008)" font-size="16.54" font-style="italic" fill="#2a9ee8" >湾</text>
<text transform="translate(1093.3,864.2) scale(1,1.387)" font-size="9.62" font-style="italic" fill="#2a9ee8" >台</text>
<text transform="translate(1083.1,879.3) scale(1,0.978)" font-size="12.50" font-style="italic" fill="#2a9ee8" >湾</text>
<text transform="translate(1072.1,897.1) scale(1,1.156)" font-size="12.50" font-style="italic" fill="#2a9ee8" >海</text>
<text transform="translate(1063.1,908.1) scale(1,1.073)" font-size="13.46" font-style="italic" fill="#2a9ee8" >峡</text>
</g>
<polygon points="1168,867 1182,868 1179,911 1162,911" fill="#c8c8c8"/>
<line x1="1168" y1="867" x2="1162" y2="911" stroke="#000" stroke-width="2.2"/>
<polygon points="1153,955 1167,961 1146,999 1131,992" fill="#c8c8c8"/>
<line x1="1153" y1="955" x2="1131" y2="992" stroke="#000" stroke-width="2.2"/>
<polygon points="1110,1036 1125,1041 1112,1081 1096,1081" fill="#c8c8c8"/>
<line x1="1110" y1="1036" x2="1096" y2="1081" stroke="#000" stroke-width="2.2"/>
</g>
<clipPath id="insclip"><rect x="1" y="755" width="259" height="332"/></clipPath>
<g clip-path="url(#insclip)">
<rect x="0" y="754" width="261" height="334" fill="#b4e6fc"/>
<polygon points="0,755 0,765 1,765 9.7,768.8 21.5,770.5 25.8,772.6 23.7,777 27,782 32.3,786.6 38.8,789.8 46.3,791 35.5,796.3 28,800.6 24.8,807 17.2,814.6 11.8,820 9.7,831.8 14,837 21.5,846.9 24.8,853.3 32.3,859.8 41,866.3 46.3,872.7 50.6,880 61,882 64,899 66,922 61,942 51,956 37,965 23,973 8.6,982 0,986" fill="#e4e4e4" stroke="#1ea0f0" stroke-width="0.8"/>
<polyline points="1,765 9.7,768.8 21.5,770.5 25.8,772.6 23.7,777 27,782 32.3,786.6 38.8,789.8 46.3,791" fill="none" stroke="#cbcbcb" stroke-width="10" stroke-linejoin="round" transform="translate(-2,3)"/>
<polygon points="0,755 0,765 1,765 9.7,768.8 21.5,770.5 25.8,772.6 23.7,777 27,782 32.3,786.6 38.8,789.8 46.3,791 56,789.8 62.4,791 69,792 71,795 72,801.7 75.3,807 79.7,810.3 83,808 83,803.8 79.7,800.6 81.8,797.4 86,795 97,793 102,788.8 107.6,785.5 118.4,783.4 130,782.3 137,780.7 151,778 165.6,773.6 174,768 183,755" fill="#f1f1f1" stroke="#1ea0f0" stroke-width="0.8"/>
<polygon points="56,825.3 64.6,817.8 73.2,815.7 81.8,814.6 86,818.9 85,829.7 79.7,837.2 71,842.6 64.6,841.5 58,838.3 55.4,831.8" fill="#f1f1f1" stroke="#1ea0f0" stroke-width="0.8"/>
<polygon points="231,755 251,755 251,764 247,771 241,778 236,772 232,764" fill="#f1f1f1" stroke="#1ea0f0" stroke-width="0.8"/>
<polygon points="260,834.4 253.8,837 242.6,837 235.5,843 232.7,851 232.7,868 230,882 231.3,893.5 242.6,902 251,904.8 260,907.6" fill="#e4e4e4" stroke="#1ea0f0" stroke-width="0.8"/>
<polygon points="236,916 246,914 254,920 252,930 242,929 235,923" fill="#e4e4e4" stroke="#1ea0f0" stroke-width="0.8"/>
<polygon points="94,1087 97,1076 108.5,1068 128.5,1062 147,1042.7 166.6,1028.6 178,1020 183.5,1011.8 187.7,1007.5 194.7,1014.6 203,1023 214.4,1034 211.6,1042.7 200.4,1048.3 194.7,1059.6 190.5,1073.7 189,1087" fill="#e4e4e4" stroke="#1ea0f0" stroke-width="0.8"/>
<line x1="186" y1="991" x2="222" y2="948" stroke="#1ea0f0" stroke-width="4.5" stroke-linecap="round"/>
<line x1="186" y1="991" x2="222" y2="948" stroke="#e4e4e4" stroke-width="2.5" stroke-linecap="round"/>
<path d="M18.0,758.0 C21.7,755.5 31.3,755.3 40.0,755.0 C48.7,754.7 63.0,755.2 70.0,756.0 C77.0,756.8 80.7,757.7 82.0,760.0 C83.3,762.3 80.7,767.3 78.0,770.0 C75.3,772.7 69.7,773.3 66.0,776.0 C62.3,778.7 59.7,783.5 56.0,786.0 C52.3,788.5 48.0,790.8 44.0,791.0 C40.0,791.2 35.3,788.8 32.0,787.0 C28.7,785.2 26.3,782.8 24.0,780.0 C21.7,777.2 19.0,773.7 18.0,770.0 C17.0,766.3 14.3,760.5 18.0,758.0 Z" fill="#6cf83c"/>
<polyline points="1,765 9.7,768.8 21.5,770.5 25.8,772.6 23.7,777 27,782 32.3,786.6 38.8,789.8 46.3,791" fill="none" stroke="#000" stroke-width="1.8" stroke-linejoin="round"/>
<polyline points="103,755 97,767 90.4,776 77.5,787.7 73.2,793" fill="none" stroke="#333" stroke-width="0.8"/>
<polygon points="245.6,805 258.4,789 261.9139096424936,791.8111277139949 249.11390964249364,807.8111277139949" fill="#c4c4c4"/>
<line x1="245.6" y1="805" x2="258.4" y2="789" stroke="#000" stroke-width="2"/>
<polygon points="220,846 233,830.7 236.42927988865225,833.6137672256523 223.42927988865225,848.9137672256522" fill="#c4c4c4"/>
<line x1="220" y1="846" x2="233" y2="830.7" stroke="#000" stroke-width="2"/>
<polygon points="74.2,888 61.4,872 57.88609035750636,874.8111277139949 70.68609035750637,890.8111277139949" fill="#c4c4c4"/>
<line x1="74.2" y1="888" x2="61.4" y2="872" stroke="#000" stroke-width="2"/>
<polygon points="212.7,875 212.7,892 217.2,892.0 217.2,875.0" fill="#c4c4c4"/>
<line x1="212.7" y1="875" x2="212.7" y2="892" stroke="#000" stroke-width="2"/>
<polygon points="82.8,932 78.8,949 74.4196227424989,947.969322998235 78.4196227424989,930.969322998235" fill="#c4c4c4"/>
<line x1="82.8" y1="932" x2="78.8" y2="949" stroke="#000" stroke-width="2"/>
<polygon points="217,938 209,955 213.07168415990446,956.9160866634844 221.07168415990446,939.9160866634844" fill="#c4c4c4"/>
<line x1="217" y1="938" x2="209" y2="955" stroke="#000" stroke-width="2"/>
<polygon points="161,1010.6 175.6,996 178.78198051533946,999.1819805153394 164.18198051533946,1013.7819805153395" fill="#c4c4c4"/>
<line x1="161" y1="1010.6" x2="175.6" y2="996" stroke="#000" stroke-width="2"/>
<polygon points="49,1010.6 49,1027.7 44.5,1027.7 44.5,1010.6" fill="#c4c4c4"/>
<line x1="49" y1="1010.6" x2="49" y2="1027.7" stroke="#000" stroke-width="2"/>
<polygon points="102.8,1067.7 120,1060.5 121.73762139656759,1064.650984447356 104.53762139656759,1071.850984447356" fill="#c4c4c4"/>
<line x1="102.8" y1="1067.7" x2="120" y2="1060.5" stroke="#000" stroke-width="2"/>
<path d="M97.9,868.5 l2,-1.5 M98.4,870.5 l2,-1.5" stroke="#e0147c" stroke-width="0.9" fill="none"/>
<path d="M101.7,869.9 l2,-1.5 M102.2,871.9 l2,-1.5" stroke="#e0147c" stroke-width="0.9" fill="none"/>
<path d="M109.1,857.5 l2,-1.5 M109.6,859.5 l2,-1.5" stroke="#e0147c" stroke-width="0.9" fill="none"/>
<path d="M91.4,875.3 l2,-1.5 M91.9,877.3 l2,-1.5" stroke="#e0147c" stroke-width="0.9" fill="none"/>
<path d="M98.5,861.4 l2,-1.5 M99.0,863.4 l2,-1.5" stroke="#e0147c" stroke-width="0.9" fill="none"/>
<path d="M119.9,866.8 l2,-1.5 M120.4,868.8 l2,-1.5" stroke="#e0147c" stroke-width="0.9" fill="none"/>
<path d="M115.3,867.0 l2,-1.5 M115.8,869.0 l2,-1.5" stroke="#e0147c" stroke-width="0.9" fill="none"/>
<path d="M109.5,859.5 l2,-1.5 M110.0,861.5 l2,-1.5" stroke="#e0147c" stroke-width="0.9" fill="none"/>
<path d="M109.4,876.0 l2,-1.5 M109.9,878.0 l2,-1.5" stroke="#e0147c" stroke-width="0.9" fill="none"/>
<path d="M106.2,873.0 l2,-1.5 M106.7,875.0 l2,-1.5" stroke="#e0147c" stroke-width="0.9" fill="none"/>
<path d="M144.4,871.0 l2,-1.5 M144.9,873.0 l2,-1.5" stroke="#e0147c" stroke-width="0.9" fill="none"/>
<path d="M146.2,878.9 l2,-1.5 M146.7,880.9 l2,-1.5" stroke="#e0147c" stroke-width="0.9" fill="none"/>
<path d="M137.0,870.5 l2,-1.5 M137.5,872.5 l2,-1.5" stroke="#e0147c" stroke-width="0.9" fill="none"/>
<path d="M148.3,877.1 l2,-1.5 M148.8,879.1 l2,-1.5" stroke="#e0147c" stroke-width="0.9" fill="none"/>
<path d="M145.4,883.2 l2,-1.5 M145.9,885.2 l2,-1.5" stroke="#e0147c" stroke-width="0.9" fill="none"/>
<path d="M145.3,883.8 l2,-1.5 M145.8,885.8 l2,-1.5" stroke="#e0147c" stroke-width="0.9" fill="none"/>
<path d="M154.5,973.4 l2,-1.5 M155.0,975.4 l2,-1.5" stroke="#e0147c" stroke-width="0.9" fill="none"/>
<path d="M157.1,979.2 l2,-1.5 M157.6,981.2 l2,-1.5" stroke="#e0147c" stroke-width="0.9" fill="none"/>
<path d="M179.7,943.2 l2,-1.5 M180.2,945.2 l2,-1.5" stroke="#e0147c" stroke-width="0.9" fill="none"/>
<path d="M141.1,948.3 l2,-1.5 M141.6,950.3 l2,-1.5" stroke="#e0147c" stroke-width="0.9" fill="none"/>
<path d="M184.2,957.8 l2,-1.5 M184.7,959.8 l2,-1.5" stroke="#e0147c" stroke-width="0.9" fill="none"/>
<path d="M166.6,951.9 l2,-1.5 M167.1,953.9 l2,-1.5" stroke="#e0147c" stroke-width="0.9" fill="none"/>
<path d="M160.4,955.6 l2,-1.5 M160.9,957.6 l2,-1.5" stroke="#e0147c" stroke-width="0.9" fill="none"/>
<path d="M152.2,964.2 l2,-1.5 M152.7,966.2 l2,-1.5" stroke="#e0147c" stroke-width="0.9" fill="none"/>
<path d="M164.4,977.9 l2,-1.5 M164.9,979.9 l2,-1.5" stroke="#e0147c" stroke-width="0.9" fill="none"/>
<path d="M169.5,978.9 l2,-1.5 M170.0,980.9 l2,-1.5" stroke="#e0147c" stroke-width="0.9" fill="none"/>
<path d="M178.5,981.6 l2,-1.5 M179.0,983.6 l2,-1.5" stroke="#e0147c" stroke-width="0.9" fill="none"/>
<path d="M168.9,946.0 l2,-1.5 M169.4,948.0 l2,-1.5" stroke="#e0147c" stroke-width="0.9" fill="none"/>
<path d="M178.8,980.5 l2,-1.5 M179.3,982.5 l2,-1.5" stroke="#e0147c" stroke-width="0.9" fill="none"/>
<path d="M181.0,963.5 l2,-1.5 M181.5,965.5 l2,-1.5" stroke="#e0147c" stroke-width="0.9" fill="none"/>
<path d="M171.1,948.1 l2,-1.5 M171.6,950.1 l2,-1.5" stroke="#e0147c" stroke-width="0.9" fill="none"/>
<path d="M177.2,963.7 l2,-1.5 M177.7,965.7 l2,-1.5" stroke="#e0147c" stroke-width="0.9" fill="none"/>
<path d="M148.8,941.7 l2,-1.5 M149.3,943.7 l2,-1.5" stroke="#e0147c" stroke-width="0.9" fill="none"/>
<path d="M178.4,981.6 l2,-1.5 M178.9,983.6 l2,-1.5" stroke="#e0147c" stroke-width="0.9" fill="none"/>
<path d="M138.6,973.4 l2,-1.5 M139.1,975.4 l2,-1.5" stroke="#e0147c" stroke-width="0.9" fill="none"/>
<path d="M155.3,945.5 l2,-1.5 M155.8,947.5 l2,-1.5" stroke="#e0147c" stroke-width="0.9" fill="none"/>
<path d="M149.3,972.1 l2,-1.5 M149.8,974.1 l2,-1.5" stroke="#e0147c" stroke-width="0.9" fill="none"/>
<path d="M179.4,940.9 l2,-1.5 M179.9,942.9 l2,-1.5" stroke="#e0147c" stroke-width="0.9" fill="none"/>
<path d="M166.0,940.9 l2,-1.5 M166.5,942.9 l2,-1.5" stroke="#e0147c" stroke-width="0.9" fill="none"/>
<path d="M171.4,953.2 l2,-1.5 M171.9,955.2 l2,-1.5" stroke="#e0147c" stroke-width="0.9" fill="none"/>
<path d="M179.8,981.2 l2,-1.5 M180.3,983.2 l2,-1.5" stroke="#e0147c" stroke-width="0.9" fill="none"/>
<path d="M160.3,981.9 l2,-1.5 M160.8,983.9 l2,-1.5" stroke="#e0147c" stroke-width="0.9" fill="none"/>
<path d="M150.1,942.3 l2,-1.5 M150.6,944.3 l2,-1.5" stroke="#e0147c" stroke-width="0.9" fill="none"/>
<path d="M165.2,940.3 l2,-1.5 M165.7,942.3 l2,-1.5" stroke="#e0147c" stroke-width="0.9" fill="none"/>
<path d="M144.3,956.5 l2,-1.5 M144.8,958.5 l2,-1.5" stroke="#e0147c" stroke-width="0.9" fill="none"/>
<path d="M165.7,945.7 l2,-1.5 M166.2,947.7 l2,-1.5" stroke="#e0147c" stroke-width="0.9" fill="none"/>
<path d="M69.5,1003.4 l2,-1.5 M70.0,1005.4 l2,-1.5" stroke="#e0147c" stroke-width="0.9" fill="none"/>
<path d="M79.0,1004.5 l2,-1.5 M79.5,1006.5 l2,-1.5" stroke="#e0147c" stroke-width="0.9" fill="none"/>
<path d="M99.4,997.5 l2,-1.5 M99.9,999.5 l2,-1.5" stroke="#e0147c" stroke-width="0.9" fill="none"/>
<path d="M84.1,999.2 l2,-1.5 M84.6,1001.2 l2,-1.5" stroke="#e0147c" stroke-width="0.9" fill="none"/>
<path d="M90.5,1000.1 l2,-1.5 M91.0,1002.1 l2,-1.5" stroke="#e0147c" stroke-width="0.9" fill="none"/>
<path d="M87.6,1000.4 l2,-1.5 M88.1,1002.4 l2,-1.5" stroke="#e0147c" stroke-width="0.9" fill="none"/>
<path d="M100.9,999.1 l2,-1.5 M101.4,1001.1 l2,-1.5" stroke="#e0147c" stroke-width="0.9" fill="none"/>
<path d="M83.1,1001.6 l2,-1.5 M83.6,1003.6 l2,-1.5" stroke="#e0147c" stroke-width="0.9" fill="none"/>
<path d="M119.5,1004.0 l2,-1.5 M120.0,1006.0 l2,-1.5" stroke="#e0147c" stroke-width="0.9" fill="none"/>
<path d="M136.5,1010.6 l2,-1.5 M137.0,1012.6 l2,-1.5" stroke="#e0147c" stroke-width="0.9" fill="none"/>
<path d="M126.6,995.3 l2,-1.5 M127.1,997.3 l2,-1.5" stroke="#e0147c" stroke-width="0.9" fill="none"/>
<path d="M123.5,1012.4 l2,-1.5 M124.0,1014.4 l2,-1.5" stroke="#e0147c" stroke-width="0.9" fill="none"/>
<path d="M114.5,1013.5 l2,-1.5 M115.0,1015.5 l2,-1.5" stroke="#e0147c" stroke-width="0.9" fill="none"/>
<path d="M128.5,996.8 l2,-1.5 M129.0,998.8 l2,-1.5" stroke="#e0147c" stroke-width="0.9" fill="none"/>
<path d="M115.4,1041.3 l2,-1.5 M115.9,1043.3 l2,-1.5" stroke="#e0147c" stroke-width="0.9" fill="none"/>
<path d="M115.8,1037.3 l2,-1.5 M116.3,1039.3 l2,-1.5" stroke="#e0147c" stroke-width="0.9" fill="none"/>
<path d="M115.9,1050.8 l2,-1.5 M116.4,1052.8 l2,-1.5" stroke="#e0147c" stroke-width="0.9" fill="none"/>
<path d="M111.2,1027.1 l2,-1.5 M111.7,1029.1 l2,-1.5" stroke="#e0147c" stroke-width="0.9" fill="none"/>
<path d="M115.7,1058.7 l2,-1.5 M116.2,1060.7 l2,-1.5" stroke="#e0147c" stroke-width="0.9" fill="none"/>
<path d="M160.3,801.8 l2,-1.5 M160.8,803.8 l2,-1.5" stroke="#e0147c" stroke-width="0.9" fill="none"/>
<path d="M164.7,799.8 l2,-1.5 M165.2,801.8 l2,-1.5" stroke="#e0147c" stroke-width="0.9" fill="none"/>
<path d="M161.7,799.7 l2,-1.5 M162.2,801.7 l2,-1.5" stroke="#e0147c" stroke-width="0.9" fill="none"/>
<circle cx="51" cy="772" r="1.9" fill="#222"/>
<circle cx="79" cy="815.7" r="1.9" fill="#222"/>
<circle cx="125" cy="766.4" r="1.9" fill="#222"/>
<circle cx="130" cy="781.5" r="1.9" fill="#222"/>
<circle cx="138.5" cy="779.3" r="1.9" fill="#222"/>
<g class="t">
<text transform="translate(33.4,765.2) scale(1,0.700)" font-size="12.56" font-weight="bold" fill="#2b2b2b" >广西壮族</text>
<text transform="translate(55.5,773.5) scale(1,0.866)" font-size="7.45" fill="#2b2b2b" >南宁</text>
<text transform="translate(39.4,784.1) scale(1,0.775)" font-size="12.76" font-weight="bold" fill="#2b2b2b" >自治区</text>
<text transform="translate(119.6,767.1) scale(1,1.113)" font-size="8.89" font-weight="bold" fill="#2b2b2b" >广</text>
<text transform="translate(143.3,767.1) scale(1,0.742)" font-size="13.33" font-weight="bold" fill="#2b2b2b" >东</text>
<text transform="translate(100.3,775.4) scale(1,0.745)" font-size="10.11" fill="#777" >广州</text>
<text transform="translate(105.3,787.4) scale(1,0.708)" font-size="10.64" fill="#2b2b2b" >澳门</text>
<text transform="translate(129.3,792.4) scale(1,0.786)" font-size="9.57" fill="#2b2b2b" >香港</text>
<text transform="translate(147.8,777.3) scale(1,0.583)" font-size="13.21" font-weight="bold" fill="#2b2b2b" >香港特别</text>
<text transform="translate(155.0,787.3) scale(1,0.630)" font-size="12.21" font-weight="bold" fill="#2b2b2b" >行政区</text>
<text transform="translate(102.3,801.3) scale(1,0.588)" font-size="13.08" font-weight="bold" fill="#2b2b2b" >澳门特别</text>
<text transform="translate(109.4,811.3) scale(1,0.603)" font-size="12.76" font-weight="bold" fill="#2b2b2b" >行政区</text>
<text transform="translate(186.5,764.4) scale(1,0.674)" font-size="9.79" font-weight="bold" fill="#2b2b2b" >福建</text>
<text transform="translate(227.1,767.4) scale(1,0.615)" font-size="12.23" fill="#2b2b2b" >台湾</text>
<text transform="translate(202.3,784.4) scale(1,0.723)" font-size="10.42" fill="#777" >台湾岛</text>
<text transform="translate(170.2,800.2) scale(1,0.816)" font-size="11.86" fill="#777" >东沙群岛</text>
<text transform="translate(153.3,815.3) scale(1,0.854)" font-size="10.07" fill="#777" >东沙岛</text>
<text transform="translate(82.4,822.3) scale(1,0.951)" font-size="9.04" fill="#2b2b2b" >海口</text>
<text transform="translate(67.9,831.3) scale(1,0.659)" font-size="11.67" font-weight="bold" fill="#2b2b2b" >海</text>
<text transform="translate(94.4,831.3) scale(1,0.653)" font-size="11.78" font-weight="bold" fill="#2b2b2b" >南</text>
<text transform="translate(84.9,838.4) scale(1,0.693)" font-size="10.87" fill="#777" >海南岛</text>
<text transform="translate(86.2,850.2) scale(1,0.853)" font-size="11.34" fill="#777" >西沙群岛</text>
<text transform="translate(112.3,862.9) scale(1,0.774)" font-size="10.42" fill="#777" >永兴岛</text>
<text transform="translate(152.2,878.3) scale(1,0.746)" font-size="12.11" fill="#777" >中沙群岛</text>
<text transform="translate(157.8,890.0) scale(1,0.733)" font-size="10.42" fill="#777" >黄岩岛</text>
<text transform="translate(150.4,899.9) scale(1,1.003)" font-size="9.22" fill="#777" >（民主礁）</text>
<text transform="translate(83.3,975.4) scale(1,0.723)" font-size="10.42" fill="#777" >永暑礁</text>
<text transform="translate(90.2,992.1) scale(1,0.946)" font-size="11.36" fill="#777" >南</text>
<text transform="translate(111.2,992.1) scale(1,0.946)" font-size="11.36" fill="#777" >沙</text>
<text transform="translate(129.2,992.1) scale(1,0.946)" font-size="11.36" fill="#777" >群</text>
<text transform="translate(146.2,992.1) scale(1,0.946)" font-size="11.36" fill="#777" >岛</text>
<text transform="translate(77.8,1055.3) scale(1,0.867)" font-size="9.92" fill="#777" >曾母暗沙</text>
<text transform="translate(107.5,928.1) scale(1,0.969)" font-size="14.90" font-style="italic" fill="#2a9ee8" >南</text>
<text transform="translate(153.9,928.1) scale(1,0.939)" font-size="15.38" font-style="italic" fill="#2a9ee8" >海</text>
</g>
</g>
<polyline points="0.5,754.5 260.5,754.5 260.5,1087" fill="none" stroke="#000" stroke-width="1"/>
<rect x="0" y="0" width="1349" height="1" fill="#000"/><rect x="0" y="0" width="2" height="1087" fill="#000"/><rect x="0" y="1087" width="1" height="121" fill="#000"/>
<rect x="1348" y="0" width="1" height="1208" fill="#000"/><rect x="0" y="1087" width="1349" height="1" fill="#000"/><rect x="0" y="1207" width="1349" height="1" fill="#000"/>
<rect x="2" y="1" width="1346" height="1" fill="#fafafa"/><rect x="2" y="1" width="1" height="753" fill="#fafafa"/><rect x="1347" y="1" width="1" height="1086" fill="#fafafa" fill-opacity="0.8"/><rect x="261" y="1086" width="1086" height="1" fill="#fff" fill-opacity="0.5"/>
<rect x="320.0" y="1132" width="46.6" height="16" fill="#409cf0"/>
<rect x="367.6" y="1132" width="45.6" height="16" fill="#64e6e8"/>
<rect x="414.1" y="1132" width="45.6" height="16" fill="#6cf83c"/>
<rect x="460.7" y="1132" width="45.6" height="16" fill="#00d800"/>
<rect x="507.3" y="1132" width="45.6" height="16" fill="#009000"/>
<rect x="553.9" y="1132" width="45.6" height="16" fill="#ffff00"/>
<rect x="600.4" y="1132" width="45.6" height="16" fill="#e6c000"/>
<rect x="647.0" y="1132" width="45.6" height="16" fill="#ff9000"/>
<rect x="693.6" y="1132" width="45.6" height="16" fill="#ff0000"/>
<rect x="740.1" y="1132" width="45.6" height="16" fill="#d60000"/>
<rect x="786.7" y="1132" width="45.6" height="16" fill="#c00000"/>
<rect x="833.3" y="1132" width="45.6" height="16" fill="#ff00f0"/>
<rect x="879.8" y="1132" width="45.6" height="16" fill="#9600b4"/>
<rect x="926.4" y="1132" width="45.6" height="16" fill="#ac90f0"/>
<g class="t">
<text x="320.8" y="1167.8" font-size="14" text-anchor="middle" fill="#000">5</text>
<text x="363.8" y="1167.8" font-size="14" text-anchor="middle" fill="#000">10</text>
<text x="412.0" y="1167.8" font-size="14" text-anchor="middle" fill="#000">15</text>
<text x="459.0" y="1167.8" font-size="14" text-anchor="middle" fill="#000">20</text>
<text x="505.0" y="1167.8" font-size="14" text-anchor="middle" fill="#000">25</text>
<text x="549.0" y="1167.8" font-size="14" text-anchor="middle" fill="#000">30</text>
<text x="597.0" y="1167.8" font-size="14" text-anchor="middle" fill="#000">35</text>
<text x="644.5" y="1167.8" font-size="14" text-anchor="middle" fill="#000">40</text>
<text x="691.9" y="1167.8" font-size="14" text-anchor="middle" fill="#000">45</text>
<text x="742.6" y="1167.8" font-size="14" text-anchor="middle" fill="#000">50</text>
<text x="786.0" y="1167.8" font-size="14" text-anchor="middle" fill="#000">55</text>
<text x="831.8" y="1167.8" font-size="14" text-anchor="middle" fill="#000">60</text>
<text x="878.0" y="1167.8" font-size="14" text-anchor="middle" fill="#000">65</text>
<text x="925.0" y="1167.8" font-size="14" text-anchor="middle" fill="#000">70</text>
<text transform="translate(324.5,1121.2) scale(1,0.972)" font-size="17.04" fill="#000" >全国雷达拼图</text>
<text x="433" y="1120.5" font-size="17" textLength="177" lengthAdjust="spacingAndGlyphs" fill="#000">[2025-05-03 00:24:00]</text>
<text x="872.2" y="1120.5" font-size="17" fill="#000">[</text>
<text transform="translate(880.4,1121.0) scale(1,0.984)" font-size="16.39" fill="#000" >组合反射率</text>
<text x="966.5" y="1120.5" font-size="17" fill="#000">]</text>
<text x="990" y="1147" font-size="15" textLength="27.5" lengthAdjust="spacingAndGlyphs" fill="#000">dBZ</text>
<text transform="translate(322.9,1191.1) scale(1,0.993)" font-size="11.91" fill="#555" >审图号</text>
<text x="358" y="1191" font-size="12.5" fill="#555">：</text>
<text x="371" y="1191" font-size="12.5" textLength="22" lengthAdjust="spacingAndGlyphs" fill="#555">GS</text>
<text transform="translate(393.0,1191.1) scale(1,0.867)" font-size="13.64" fill="#555" >京</text>
<text x="407" y="1191" font-size="12.5" textLength="84" lengthAdjust="spacingAndGlyphs" fill="#555">（2022）0372号</text>
<text transform="translate(837.8,1192.9) scale(1,0.926)" font-size="12.08" fill="#555" >中国气象局雷达气象中心</text>
</g>
</svg></body></html>
